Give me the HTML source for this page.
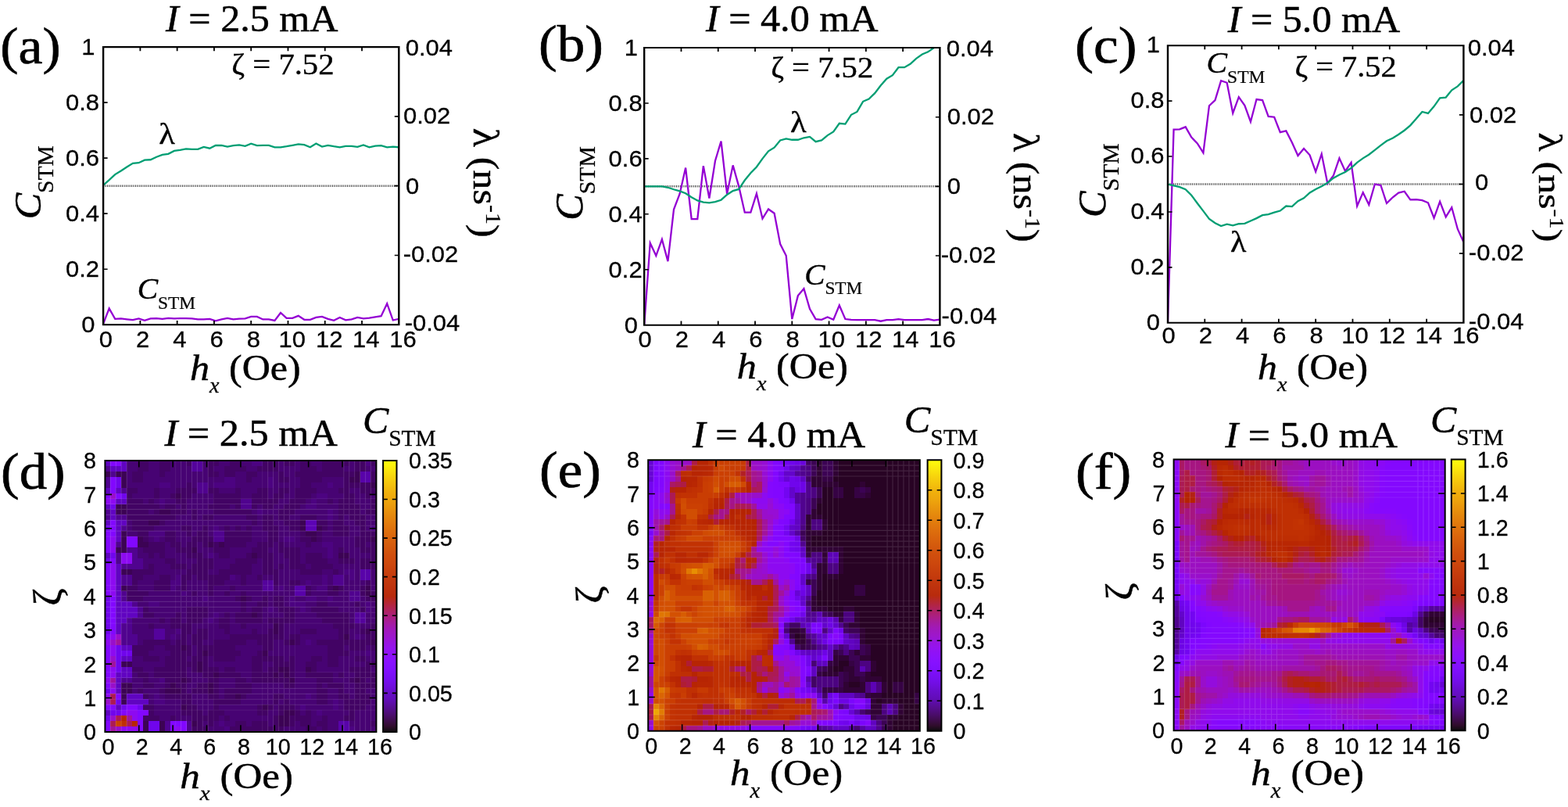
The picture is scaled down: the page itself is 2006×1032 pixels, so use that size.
<!DOCTYPE html>
<html lang="en"><head><meta charset="utf-8"><title>Figure</title>
<style>html,body{margin:0;padding:0;background:#fff}body{width:2006px;height:1032px;overflow:hidden}svg{display:block}text{fill:#000;stroke:#000}.s{font-family:"Liberation Sans",Arial,Helvetica,sans-serif;font-size:118px;stroke-width:.0095em}.r{font-family:'Liberation Serif', 'Times New Roman', Times, serif}.r,.r tspan{stroke-width:.01em}.i{font-style:italic}</style></head><body>
<svg width="2006" height="1032" viewBox="0 0 2006 1032">
<rect width="2006" height="1032" fill="#fff"/>
<line x1="132.1" y1="237.65" x2="510.3" y2="237.65" stroke="#000" stroke-opacity=".8" stroke-width="2.5" stroke-dasharray="1 1.4"/>
<clipPath id="ca"><rect x="132.1" y="60.1" width="378.2" height="355.1"/></clipPath>
<polyline clip-path="url(#ca)" points="132.1,414.13 139.66,394.39 147.23,407.85 154.79,407.39 162.36,408.35 169.92,409.16 177.48,407.39 185.05,409.87 192.61,407.39 200.18,407.03 207.74,407.85 215.3,406.89 222.87,407.39 230.43,407.1 238,407.1 245.56,407.39 253.12,408.35 260.69,408.35 268.25,407.85 275.82,410.3 283.38,408.35 290.94,406.89 298.51,408.35 306.07,407.6 313.64,407.39 321.2,404.9 328.76,404.9 336.33,408.45 343.89,408.45 351.46,409.87 359.02,399.93 366.58,406.89 374.15,406.89 381.71,403.84 389.28,408.81 396.84,408.81 404.4,405.97 411.97,404.9 419.53,407.85 427.1,409.87 434.66,405.97 442.22,409.31 449.79,408.45 457.35,405.97 464.92,407.39 472.48,406.68 480.04,405.4 487.61,404.19 495.17,388.21 502.74,409.52 510.3,407.85" fill="none" stroke="#9400d3" stroke-width="2.3" stroke-linejoin="miter"/>
<polyline clip-path="url(#ca)" points="132.1,236.94 139.66,230.19 147.23,223.09 154.79,218.47 162.36,213.5 169.92,208.89 177.48,208.18 185.05,204.63 192.61,204.27 200.18,200.72 207.74,197.88 215.3,196.81 222.87,192.91 230.43,191.84 238,190.42 245.56,190.78 253.12,190.78 260.69,187.94 268.25,189.71 275.82,185.98 283.38,185.98 290.94,187.58 298.51,186.16 306.07,185.45 313.64,186.87 321.2,183.67 328.76,186.16 336.33,185.81 343.89,185.81 351.46,188.29 359.02,188.29 366.58,187.23 374.15,185.81 381.71,184.38 389.28,185.1 396.84,188.29 404.4,183.5 411.97,187.58 419.53,185.81 427.1,187.23 434.66,188.43 442.22,186.87 449.79,186.87 457.35,187.94 464.92,185.45 472.48,188.29 480.04,186.52 487.61,186.16 495.17,188.43 502.74,187.58 510.3,188.29" fill="none" stroke="#009e73" stroke-width="2.3" stroke-linejoin="miter"/>
<path d="M179.38 415.2v-5.1M179.38 60.1v5.1M226.65 415.2v-5.1M226.65 60.1v5.1M273.93 415.2v-5.1M273.93 60.1v5.1M321.2 415.2v-5.1M321.2 60.1v5.1M368.48 415.2v-5.1M368.48 60.1v5.1M415.75 415.2v-5.1M415.75 60.1v5.1M463.03 415.2v-5.1M463.03 60.1v5.1" stroke="#000" stroke-width="1.8" fill="none"/>
<path d="M132.1 344.18h5.51M132.1 273.16h5.51M132.1 202.14h5.51M132.1 131.12h5.51M510.3 326.43h-5.51M510.3 237.65h-5.51M510.3 148.88h-5.51" stroke="#000" stroke-width="1.6" fill="none"/>
<path fill="#000" d="M130.9 59.05H511.5V61.15H130.9ZM130.9 414.15H511.5V416.25H130.9ZM130.9 59.05H133.3V416.25H130.9ZM509.1 59.05H511.5V416.25H509.1Z"/>
<line x1="824.2" y1="238.35" x2="1202.4" y2="238.35" stroke="#000" stroke-opacity=".8" stroke-width="2.5" stroke-dasharray="1 1.4"/>
<clipPath id="cb"><rect x="824.2" y="61" width="378.2" height="354.7"/></clipPath>
<polyline clip-path="url(#cb)" points="824.2,415.7 831.76,310.71 839.33,327.02 846.89,306.1 854.46,334.12 862.02,267.79 869.58,247.93 877.15,214.59 884.71,280.2 892.28,280.2 899.84,212.1 907.4,253.6 914.97,205.72 922.53,180.53 930.1,247.93 937.66,211.39 945.22,238.35 952.79,271.69 960.35,271.69 967.92,247.57 975.48,279.5 983.04,267.44 990.61,272.76 998.17,312.13 1005.74,327.02 1013.3,408.04 1020.86,378.1 1028.43,369.23 1035.99,395.13 1043.56,408.04 1051.12,408.78 1058.68,405.41 1066.25,408.78 1073.81,390.52 1081.38,408.04 1088.94,408.78 1096.5,409.1 1104.07,409.1 1111.63,409.1 1119.2,409.1 1126.76,410.73 1134.32,409.1 1141.89,409.1 1149.45,408.04 1157.02,409.1 1164.58,409.1 1172.14,409.1 1179.71,409.1 1187.27,408.04 1194.84,409.67 1202.4,408.61" fill="none" stroke="#9400d3" stroke-width="2.3" stroke-linejoin="miter"/>
<polyline clip-path="url(#cb)" points="824.2,238.35 831.76,238.35 839.33,238.35 846.89,238.35 854.46,239.77 862.02,242.25 869.58,244.38 877.15,247.22 884.71,252.18 892.28,256.44 899.84,258.57 907.4,259.28 914.97,258.21 922.53,255.73 930.1,248.99 937.66,244.03 945.22,241.9 952.79,230.55 960.35,221.32 967.92,213.52 975.48,202.88 983.04,193.3 990.61,188.69 998.17,179.47 1005.74,177.34 1013.3,178.76 1020.86,178.76 1028.43,176.28 1035.99,174.86 1043.56,181.24 1051.12,179.47 1058.68,173.09 1066.25,168.47 1073.81,157.83 1081.38,158.54 1088.94,146.84 1096.5,142.94 1104.07,129.81 1111.63,126.62 1119.2,119.17 1126.76,109.24 1134.32,100.73 1141.89,96.12 1149.45,86.18 1157.02,86.18 1164.58,81.75 1172.14,74.83 1179.71,69.51 1187.27,66.32 1194.84,61 1202.4,56.74" fill="none" stroke="#009e73" stroke-width="2.3" stroke-linejoin="miter"/>
<path d="M871.48 415.7v-5.1M871.48 61v5.1M918.75 415.7v-5.1M918.75 61v5.1M966.03 415.7v-5.1M966.03 61v5.1M1013.3 415.7v-5.1M1013.3 61v5.1M1060.58 415.7v-5.1M1060.58 61v5.1M1107.85 415.7v-5.1M1107.85 61v5.1M1155.12 415.7v-5.1M1155.12 61v5.1" stroke="#000" stroke-width="1.8" fill="none"/>
<path d="M824.2 344.76h5.51M824.2 273.82h5.51M824.2 202.88h5.51M824.2 131.94h5.51M1202.4 327.02h-5.51M1202.4 238.35h-5.51M1202.4 149.68h-5.51" stroke="#000" stroke-width="1.6" fill="none"/>
<path fill="#000" d="M823 59.95H1203.6V62.05H823ZM823 414.65H1203.6V416.75H823ZM823 59.95H825.4V416.75H823ZM1201.2 59.95H1203.6V416.75H1201.2Z"/>
<line x1="1494" y1="235.53" x2="1872.4" y2="235.53" stroke="#000" stroke-opacity=".8" stroke-width="2.5" stroke-dasharray="1 1.4"/>
<clipPath id="cc"><rect x="1494" y="58.25" width="378.4" height="354.55"/></clipPath>
<polyline clip-path="url(#cc)" points="1494,412.8 1501.57,165.68 1509.14,165.32 1516.7,162.31 1524.27,175.61 1531.84,183.41 1539.41,195.46 1546.98,135.19 1554.54,128.1 1562.11,103.28 1569.68,105.76 1577.25,144.76 1584.82,124.2 1592.38,134.83 1599.95,155.75 1607.52,127.03 1615.09,128.1 1622.66,149.01 1630.22,149.72 1637.79,169.22 1645.36,167.45 1652.93,182.34 1660.5,199.01 1668.06,189.93 1675.63,198.3 1683.2,219.57 1690.77,196.88 1698.34,234.6 1705.9,224.53 1713.47,202.37 1721.04,218.86 1728.61,207.87 1736.18,263.53 1743.74,246.16 1751.31,261.76 1758.88,235.53 1766.45,236.94 1774.02,259.99 1781.58,252.54 1789.15,246.52 1796.72,244.74 1804.29,255.38 1811.86,255.03 1819.42,256.09 1826.99,259.28 1834.56,278.78 1842.13,257.86 1849.7,277.36 1857.26,265.31 1864.83,292.96 1872.4,309.63" fill="none" stroke="#9400d3" stroke-width="2.3" stroke-linejoin="miter"/>
<polyline clip-path="url(#cc)" points="1494,235.53 1501.57,237.3 1509.14,239.21 1516.7,242.26 1524.27,249.71 1531.84,259.99 1539.41,269.92 1546.98,279.84 1554.54,285.16 1562.11,289.06 1569.68,286.72 1577.25,288.35 1584.82,286.23 1592.38,285.87 1599.95,282.5 1607.52,279.13 1615.09,275.23 1622.66,274.17 1630.22,271.69 1637.79,269.56 1645.36,263.53 1652.93,264.07 1660.5,257.15 1668.06,253.39 1675.63,246.52 1683.2,242.08 1690.77,238.36 1698.34,233.75 1705.9,227.72 1713.47,223.47 1721.04,219.92 1728.61,214.96 1736.18,207.87 1743.74,202.37 1751.31,197.77 1758.88,191.92 1766.45,185.89 1774.02,180.22 1781.58,176.67 1789.15,172.06 1796.72,166.74 1804.29,160.36 1811.86,151.85 1819.42,142.99 1826.99,144.9 1834.56,136.07 1842.13,125.4 1849.7,124.55 1857.26,115.33 1864.83,110.37 1872.4,102.92" fill="none" stroke="#009e73" stroke-width="2.3" stroke-linejoin="miter"/>
<path d="M1541.3 412.8v-5.1M1541.3 58.25v5.1M1588.6 412.8v-5.1M1588.6 58.25v5.1M1635.9 412.8v-5.1M1635.9 58.25v5.1M1683.2 412.8v-5.1M1683.2 58.25v5.1M1730.5 412.8v-5.1M1730.5 58.25v5.1M1777.8 412.8v-5.1M1777.8 58.25v5.1M1825.1 412.8v-5.1M1825.1 58.25v5.1" stroke="#000" stroke-width="1.8" fill="none"/>
<path d="M1494 341.89h5.51M1494 270.98h5.51M1494 200.07h5.51M1494 129.16h5.51M1872.4 324.16h-5.51M1872.4 235.53h-5.51M1872.4 146.89h-5.51" stroke="#000" stroke-width="1.6" fill="none"/>
<path fill="#000" d="M1492.8 57.2H1873.6V59.3H1492.8ZM1492.8 411.75H1873.6V413.85H1492.8ZM1492.8 57.2H1495.2V413.85H1492.8ZM1871.2 57.2H1873.6V413.85H1871.2Z"/>
<g shape-rendering="crispEdges">
<path fill="#3c0354" d="M134.4 602.88H141.34V609.81H134.4zM148.28 602.88H162.16V609.81H148.28zM453.64 602.88H460.58V609.81H453.64zM155.22 609.81H162.16V616.75H155.22zM446.7 609.81H460.58V616.75H446.7zM155.22 616.75H162.16V623.69H155.22zM474.46 616.75H481.4V623.69H474.46zM224.62 630.63H231.56V637.57H224.62zM148.28 644.5H162.16V651.44H148.28zM148.28 651.44H162.16V658.38H148.28zM203.8 651.44H217.68V658.38H203.8zM189.92 665.32H203.8V672.26H189.92zM384.24 665.32H391.18V672.26H384.24zM384.24 672.26H391.18V679.19H384.24zM405.06 672.26H412V679.19H405.06zM155.22 679.19H162.16V686.13H155.22zM391.18 679.19H405.06V686.13H391.18zM155.22 686.13H162.16V693.07H155.22zM176.04 686.13H182.98V693.07H176.04zM398.12 686.13H405.06V693.07H398.12zM474.46 686.13H481.4V693.07H474.46zM155.22 693.07H162.16V700.01H155.22zM176.04 693.07H189.92V700.01H176.04zM266.26 693.07H273.2V700.01H266.26zM280.14 693.07H287.08V700.01H280.14zM148.28 700.01H162.16V706.95H148.28zM245.44 700.01H252.38V706.95H245.44zM321.78 706.95H328.72V713.88H321.78zM432.82 706.95H446.7V713.88H432.82zM155.22 727.76H169.1V734.7H155.22zM155.22 748.57H162.16V755.51H155.22zM425.88 748.57H432.82V755.51H425.88zM467.52 748.57H474.46V755.51H467.52zM467.52 755.51H474.46V762.45H467.52zM307.9 762.45H314.84V769.39H307.9zM321.78 783.26H328.72V790.2H321.78zM349.54 797.14H356.48V804.08H349.54zM349.54 804.08H356.48V811.02H349.54zM467.52 804.08H474.46V811.02H467.52zM439.76 811.02H446.7V817.95H439.76zM370.36 817.95H377.3V824.89H370.36zM474.46 817.95H481.4V824.89H474.46zM231.56 824.89H238.5V831.83H231.56zM259.32 831.83H266.26V838.77H259.32zM335.66 831.83H342.6V838.77H335.66zM155.22 845.71H169.1V852.64H155.22zM252.38 845.71H259.32V852.64H252.38zM252.38 852.64H259.32V859.58H252.38zM356.48 852.64H370.36V859.58H356.48zM391.18 852.64H398.12V859.58H391.18zM273.2 859.58H280.14V866.52H273.2zM349.54 859.58H356.48V866.52H349.54zM363.42 859.58H370.36V866.52H363.42zM231.56 866.52H238.5V873.46H231.56zM370.36 866.52H377.3V873.46H370.36zM453.64 866.52H460.58V873.46H453.64zM155.22 873.46H169.1V880.4H155.22zM217.68 873.46H224.62V880.4H217.68zM266.26 873.46H273.2V880.4H266.26zM155.22 880.4H169.1V887.33H155.22zM210.74 880.4H231.56V887.33H210.74zM266.26 880.4H273.2V887.33H266.26zM155.22 887.33H162.16V894.27H155.22zM300.96 887.33H307.9V894.27H300.96zM155.22 894.27H162.16V901.21H155.22zM231.56 901.21H238.5V908.15H231.56zM335.66 901.21H342.6V908.15H335.66zM363.42 908.15H377.3V915.09H363.42zM356.48 915.09H370.36V922.02H356.48zM182.98 922.02H189.92V928.96H182.98zM203.8 922.02H210.74V928.96H203.8zM245.44 922.02H252.38V928.96H245.44zM356.48 922.02H370.36V928.96H356.48zM182.98 928.96H189.92V935.9H182.98zM203.8 928.96H210.74V935.9H203.8z"/>
<path fill="#420364" d="M176.04 589H189.92V595.94H176.04zM203.8 589H217.68V595.94H203.8zM238.5 589H245.44V595.94H238.5zM266.26 589H280.14V595.94H266.26zM294.02 589H307.9V595.94H294.02zM335.66 589H356.48V595.94H335.66zM363.42 589H377.3V595.94H363.42zM384.24 589H398.12V595.94H384.24zM412 589H446.7V595.94H412zM453.64 589H467.52V595.94H453.64zM474.46 589H481.4V595.94H474.46zM176.04 595.94H189.92V602.88H176.04zM203.8 595.94H217.68V602.88H203.8zM266.26 595.94H273.2V602.88H266.26zM287.08 595.94H314.84V602.88H287.08zM328.72 595.94H356.48V602.88H328.72zM384.24 595.94H405.06V602.88H384.24zM412 595.94H439.76V602.88H412zM453.64 595.94H467.52V602.88H453.64zM169.1 602.88H182.98V609.81H169.1zM203.8 602.88H210.74V609.81H203.8zM266.26 602.88H280.14V609.81H266.26zM287.08 602.88H300.96V609.81H287.08zM314.84 602.88H328.72V609.81H314.84zM356.48 602.88H363.42V609.81H356.48zM377.3 602.88H453.64V609.81H377.3zM474.46 602.88H481.4V609.81H474.46zM169.1 609.81H182.98V616.75H169.1zM314.84 609.81H321.78V616.75H314.84zM356.48 609.81H370.36V616.75H356.48zM384.24 609.81H412V616.75H384.24zM439.76 609.81H446.7V616.75H439.76zM474.46 609.81H481.4V616.75H474.46zM238.5 616.75H245.44V623.69H238.5zM384.24 616.75H398.12V623.69H384.24zM439.76 616.75H474.46V623.69H439.76zM162.16 623.69H176.04V630.63H162.16zM196.86 623.69H203.8V630.63H196.86zM224.62 623.69H252.38V630.63H224.62zM266.26 623.69H280.14V630.63H266.26zM300.96 623.69H307.9V630.63H300.96zM328.72 623.69H342.6V630.63H328.72zM356.48 623.69H370.36V630.63H356.48zM377.3 623.69H405.06V630.63H377.3zM432.82 623.69H446.7V630.63H432.82zM460.58 623.69H481.4V630.63H460.58zM162.16 630.63H169.1V637.57H162.16zM196.86 630.63H203.8V637.57H196.86zM217.68 630.63H224.62V637.57H217.68zM231.56 630.63H245.44V637.57H231.56zM273.2 630.63H307.9V637.57H273.2zM321.78 630.63H342.6V637.57H321.78zM349.54 630.63H363.42V637.57H349.54zM377.3 630.63H398.12V637.57H377.3zM439.76 630.63H453.64V637.57H439.76zM467.52 630.63H474.46V637.57H467.52zM162.16 637.57H182.98V644.5H162.16zM189.92 637.57H196.86V644.5H189.92zM224.62 637.57H238.5V644.5H224.62zM273.2 637.57H307.9V644.5H273.2zM321.78 637.57H356.48V644.5H321.78zM370.36 637.57H391.18V644.5H370.36zM418.94 637.57H425.88V644.5H418.94zM432.82 637.57H453.64V644.5H432.82zM474.46 637.57H481.4V644.5H474.46zM162.16 644.5H203.8V651.44H162.16zM210.74 644.5H224.62V651.44H210.74zM231.56 644.5H238.5V651.44H231.56zM266.26 644.5H294.02V651.44H266.26zM300.96 644.5H307.9V651.44H300.96zM321.78 644.5H328.72V651.44H321.78zM335.66 644.5H349.54V651.44H335.66zM363.42 644.5H384.24V651.44H363.42zM432.82 644.5H460.58V651.44H432.82zM474.46 644.5H481.4V651.44H474.46zM162.16 651.44H189.92V658.38H162.16zM196.86 651.44H203.8V658.38H196.86zM217.68 651.44H238.5V658.38H217.68zM245.44 651.44H252.38V658.38H245.44zM273.2 651.44H321.78V658.38H273.2zM356.48 651.44H377.3V658.38H356.48zM432.82 651.44H460.58V658.38H432.82zM467.52 651.44H481.4V658.38H467.52zM162.16 658.38H224.62V665.32H162.16zM245.44 658.38H252.38V665.32H245.44zM259.32 658.38H273.2V665.32H259.32zM314.84 658.38H328.72V665.32H314.84zM335.66 658.38H349.54V665.32H335.66zM356.48 658.38H370.36V665.32H356.48zM384.24 658.38H405.06V665.32H384.24zM432.82 658.38H439.76V665.32H432.82zM446.7 658.38H467.52V665.32H446.7zM169.1 665.32H189.92V672.26H169.1zM203.8 665.32H210.74V672.26H203.8zM321.78 665.32H328.72V672.26H321.78zM335.66 665.32H349.54V672.26H335.66zM363.42 665.32H384.24V672.26H363.42zM405.06 665.32H418.94V672.26H405.06zM425.88 665.32H439.76V672.26H425.88zM453.64 665.32H467.52V672.26H453.64zM169.1 672.26H196.86V679.19H169.1zM231.56 672.26H245.44V679.19H231.56zM259.32 672.26H266.26V679.19H259.32zM287.08 672.26H294.02V679.19H287.08zM300.96 672.26H307.9V679.19H300.96zM314.84 672.26H321.78V679.19H314.84zM335.66 672.26H356.48V679.19H335.66zM370.36 672.26H384.24V679.19H370.36zM412 672.26H418.94V679.19H412zM425.88 672.26H446.7V679.19H425.88zM460.58 672.26H467.52V679.19H460.58zM176.04 679.19H189.92V686.13H176.04zM210.74 679.19H224.62V686.13H210.74zM238.5 679.19H245.44V686.13H238.5zM252.38 679.19H266.26V686.13H252.38zM287.08 679.19H321.78V686.13H287.08zM342.6 679.19H356.48V686.13H342.6zM384.24 679.19H391.18V686.13H384.24zM405.06 679.19H412V686.13H405.06zM425.88 679.19H446.7V686.13H425.88zM460.58 679.19H481.4V686.13H460.58zM182.98 686.13H189.92V693.07H182.98zM210.74 686.13H224.62V693.07H210.74zM245.44 686.13H273.2V693.07H245.44zM287.08 686.13H321.78V693.07H287.08zM342.6 686.13H356.48V693.07H342.6zM384.24 686.13H398.12V693.07H384.24zM405.06 686.13H412V693.07H405.06zM453.64 686.13H474.46V693.07H453.64zM189.92 693.07H210.74V700.01H189.92zM217.68 693.07H231.56V700.01H217.68zM238.5 693.07H252.38V700.01H238.5zM259.32 693.07H266.26V700.01H259.32zM273.2 693.07H280.14V700.01H273.2zM287.08 693.07H314.84V700.01H287.08zM328.72 693.07H349.54V700.01H328.72zM356.48 693.07H363.42V700.01H356.48zM391.18 693.07H398.12V700.01H391.18zM453.64 693.07H467.52V700.01H453.64zM474.46 693.07H481.4V700.01H474.46zM182.98 700.01H210.74V706.95H182.98zM224.62 700.01H245.44V706.95H224.62zM273.2 700.01H294.02V706.95H273.2zM321.78 700.01H342.6V706.95H321.78zM356.48 700.01H384.24V706.95H356.48zM432.82 700.01H439.76V706.95H432.82zM460.58 700.01H481.4V706.95H460.58zM189.92 706.95H196.86V713.88H189.92zM203.8 706.95H210.74V713.88H203.8zM238.5 706.95H259.32V713.88H238.5zM280.14 706.95H294.02V713.88H280.14zM314.84 706.95H321.78V713.88H314.84zM328.72 706.95H349.54V713.88H328.72zM363.42 706.95H384.24V713.88H363.42zM391.18 706.95H412V713.88H391.18zM474.46 706.95H481.4V713.88H474.46zM210.74 713.88H224.62V720.82H210.74zM252.38 713.88H273.2V720.82H252.38zM300.96 713.88H328.72V720.82H300.96zM335.66 713.88H349.54V720.82H335.66zM370.36 713.88H384.24V720.82H370.36zM391.18 713.88H418.94V720.82H391.18zM432.82 713.88H453.64V720.82H432.82zM460.58 713.88H481.4V720.82H460.58zM189.92 720.82H196.86V727.76H189.92zM217.68 720.82H238.5V727.76H217.68zM245.44 720.82H273.2V727.76H245.44zM294.02 720.82H321.78V727.76H294.02zM335.66 720.82H349.54V727.76H335.66zM356.48 720.82H363.42V727.76H356.48zM370.36 720.82H391.18V727.76H370.36zM398.12 720.82H425.88V727.76H398.12zM460.58 720.82H481.4V727.76H460.58zM169.1 727.76H196.86V734.7H169.1zM238.5 727.76H266.26V734.7H238.5zM280.14 727.76H321.78V734.7H280.14zM335.66 727.76H356.48V734.7H335.66zM384.24 727.76H412V734.7H384.24zM425.88 727.76H432.82V734.7H425.88zM169.1 734.7H182.98V741.64H169.1zM203.8 734.7H217.68V741.64H203.8zM231.56 734.7H245.44V741.64H231.56zM252.38 734.7H294.02V741.64H252.38zM307.9 734.7H314.84V741.64H307.9zM328.72 734.7H335.66V741.64H328.72zM349.54 734.7H356.48V741.64H349.54zM169.1 741.64H176.04V748.57H169.1zM196.86 741.64H217.68V748.57H196.86zM231.56 741.64H238.5V748.57H231.56zM266.26 741.64H287.08V748.57H266.26zM307.9 741.64H314.84V748.57H307.9zM349.54 741.64H356.48V748.57H349.54zM370.36 741.64H384.24V748.57H370.36zM467.52 741.64H474.46V748.57H467.52zM162.16 748.57H176.04V755.51H162.16zM196.86 748.57H217.68V755.51H196.86zM231.56 748.57H238.5V755.51H231.56zM266.26 748.57H273.2V755.51H266.26zM294.02 748.57H300.96V755.51H294.02zM391.18 748.57H398.12V755.51H391.18zM418.94 748.57H425.88V755.51H418.94zM432.82 748.57H439.76V755.51H432.82zM460.58 748.57H467.52V755.51H460.58zM162.16 755.51H189.92V762.45H162.16zM245.44 755.51H252.38V762.45H245.44zM266.26 755.51H273.2V762.45H266.26zM287.08 755.51H294.02V762.45H287.08zM307.9 755.51H314.84V762.45H307.9zM391.18 755.51H398.12V762.45H391.18zM418.94 755.51H432.82V762.45H418.94zM460.58 755.51H467.52V762.45H460.58zM474.46 755.51H481.4V762.45H474.46zM162.16 762.45H182.98V769.39H162.16zM300.96 762.45H307.9V769.39H300.96zM314.84 762.45H321.78V769.39H314.84zM335.66 762.45H342.6V769.39H335.66zM349.54 762.45H363.42V769.39H349.54zM467.52 762.45H481.4V769.39H467.52zM307.9 769.39H314.84V776.33H307.9zM328.72 769.39H342.6V776.33H328.72zM349.54 769.39H363.42V776.33H349.54zM405.06 769.39H418.94V776.33H405.06zM453.64 769.39H460.58V776.33H453.64zM182.98 776.33H189.92V783.26H182.98zM238.5 776.33H266.26V783.26H238.5zM307.9 776.33H314.84V783.26H307.9zM321.78 776.33H335.66V783.26H321.78zM356.48 776.33H377.3V783.26H356.48zM398.12 776.33H432.82V783.26H398.12zM460.58 776.33H467.52V783.26H460.58zM182.98 783.26H196.86V790.2H182.98zM224.62 783.26H231.56V790.2H224.62zM238.5 783.26H266.26V790.2H238.5zM287.08 783.26H294.02V790.2H287.08zM300.96 783.26H321.78V790.2H300.96zM328.72 783.26H335.66V790.2H328.72zM363.42 783.26H377.3V790.2H363.42zM405.06 783.26H446.7V790.2H405.06zM203.8 790.2H210.74V797.14H203.8zM217.68 790.2H231.56V797.14H217.68zM238.5 790.2H259.32V797.14H238.5zM280.14 790.2H294.02V797.14H280.14zM300.96 790.2H335.66V797.14H300.96zM342.6 790.2H377.3V797.14H342.6zM412 790.2H446.7V797.14H412zM189.92 797.14H196.86V804.08H189.92zM217.68 797.14H245.44V804.08H217.68zM280.14 797.14H294.02V804.08H280.14zM307.9 797.14H314.84V804.08H307.9zM356.48 797.14H363.42V804.08H356.48zM425.88 797.14H453.64V804.08H425.88zM474.46 797.14H481.4V804.08H474.46zM231.56 804.08H245.44V811.02H231.56zM252.38 804.08H266.26V811.02H252.38zM287.08 804.08H294.02V811.02H287.08zM321.78 804.08H328.72V811.02H321.78zM342.6 804.08H349.54V811.02H342.6zM356.48 804.08H363.42V811.02H356.48zM384.24 804.08H405.06V811.02H384.24zM432.82 804.08H446.7V811.02H432.82zM460.58 804.08H467.52V811.02H460.58zM474.46 804.08H481.4V811.02H474.46zM231.56 811.02H238.5V817.95H231.56zM245.44 811.02H266.26V817.95H245.44zM294.02 811.02H363.42V817.95H294.02zM370.36 811.02H384.24V817.95H370.36zM432.82 811.02H439.76V817.95H432.82zM467.52 811.02H481.4V817.95H467.52zM182.98 817.95H217.68V824.89H182.98zM224.62 817.95H238.5V824.89H224.62zM245.44 817.95H259.32V824.89H245.44zM273.2 817.95H314.84V824.89H273.2zM328.72 817.95H349.54V824.89H328.72zM363.42 817.95H370.36V824.89H363.42zM377.3 817.95H384.24V824.89H377.3zM405.06 817.95H474.46V824.89H405.06zM169.1 824.89H196.86V831.83H169.1zM210.74 824.89H231.56V831.83H210.74zM238.5 824.89H245.44V831.83H238.5zM252.38 824.89H300.96V831.83H252.38zM335.66 824.89H349.54V831.83H335.66zM418.94 824.89H439.76V831.83H418.94zM446.7 824.89H467.52V831.83H446.7zM474.46 824.89H481.4V831.83H474.46zM169.1 831.83H189.92V838.77H169.1zM217.68 831.83H245.44V838.77H217.68zM252.38 831.83H259.32V838.77H252.38zM266.26 831.83H307.9V838.77H266.26zM328.72 831.83H335.66V838.77H328.72zM418.94 831.83H446.7V838.77H418.94zM182.98 838.77H203.8V845.71H182.98zM210.74 838.77H238.5V845.71H210.74zM245.44 838.77H266.26V845.71H245.44zM273.2 838.77H300.96V845.71H273.2zM321.78 838.77H363.42V845.71H321.78zM370.36 838.77H377.3V845.71H370.36zM398.12 838.77H412V845.71H398.12zM418.94 838.77H432.82V845.71H418.94zM453.64 838.77H467.52V845.71H453.64zM210.74 845.71H252.38V852.64H210.74zM259.32 845.71H266.26V852.64H259.32zM321.78 845.71H335.66V852.64H321.78zM349.54 845.71H377.3V852.64H349.54zM391.18 845.71H405.06V852.64H391.18zM418.94 845.71H432.82V852.64H418.94zM467.52 845.71H481.4V852.64H467.52zM169.1 852.64H182.98V859.58H169.1zM196.86 852.64H238.5V859.58H196.86zM245.44 852.64H252.38V859.58H245.44zM259.32 852.64H280.14V859.58H259.32zM287.08 852.64H300.96V859.58H287.08zM321.78 852.64H335.66V859.58H321.78zM342.6 852.64H356.48V859.58H342.6zM370.36 852.64H377.3V859.58H370.36zM398.12 852.64H405.06V859.58H398.12zM446.7 852.64H474.46V859.58H446.7zM176.04 859.58H189.92V866.52H176.04zM196.86 859.58H238.5V866.52H196.86zM259.32 859.58H273.2V866.52H259.32zM280.14 859.58H307.9V866.52H280.14zM321.78 859.58H349.54V866.52H321.78zM356.48 859.58H363.42V866.52H356.48zM370.36 859.58H377.3V866.52H370.36zM391.18 859.58H425.88V866.52H391.18zM432.82 859.58H439.76V866.52H432.82zM453.64 859.58H481.4V866.52H453.64zM182.98 866.52H189.92V873.46H182.98zM210.74 866.52H231.56V873.46H210.74zM238.5 866.52H245.44V873.46H238.5zM266.26 866.52H280.14V873.46H266.26zM300.96 866.52H314.84V873.46H300.96zM321.78 866.52H370.36V873.46H321.78zM405.06 866.52H425.88V873.46H405.06zM446.7 866.52H453.64V873.46H446.7zM460.58 866.52H467.52V873.46H460.58zM474.46 866.52H481.4V873.46H474.46zM182.98 873.46H196.86V880.4H182.98zM210.74 873.46H217.68V880.4H210.74zM224.62 873.46H238.5V880.4H224.62zM252.38 873.46H266.26V880.4H252.38zM273.2 873.46H280.14V880.4H273.2zM300.96 873.46H321.78V880.4H300.96zM363.42 873.46H377.3V880.4H363.42zM405.06 873.46H412V880.4H405.06zM418.94 873.46H439.76V880.4H418.94zM453.64 873.46H481.4V880.4H453.64zM176.04 880.4H182.98V887.33H176.04zM203.8 880.4H210.74V887.33H203.8zM231.56 880.4H238.5V887.33H231.56zM245.44 880.4H266.26V887.33H245.44zM273.2 880.4H280.14V887.33H273.2zM287.08 880.4H321.78V887.33H287.08zM405.06 880.4H418.94V887.33H405.06zM432.82 880.4H439.76V887.33H432.82zM453.64 880.4H467.52V887.33H453.64zM182.98 887.33H189.92V894.27H182.98zM210.74 887.33H245.44V894.27H210.74zM266.26 887.33H280.14V894.27H266.26zM287.08 887.33H300.96V894.27H287.08zM307.9 887.33H314.84V894.27H307.9zM349.54 887.33H363.42V894.27H349.54zM405.06 887.33H418.94V894.27H405.06zM432.82 887.33H446.7V894.27H432.82zM453.64 887.33H474.46V894.27H453.64zM231.56 894.27H245.44V901.21H231.56zM273.2 894.27H307.9V901.21H273.2zM349.54 894.27H356.48V901.21H349.54zM363.42 894.27H370.36V901.21H363.42zM405.06 894.27H418.94V901.21H405.06zM439.76 894.27H474.46V901.21H439.76zM182.98 901.21H196.86V908.15H182.98zM238.5 901.21H252.38V908.15H238.5zM273.2 901.21H280.14V908.15H273.2zM328.72 901.21H335.66V908.15H328.72zM342.6 901.21H349.54V908.15H342.6zM356.48 901.21H377.3V908.15H356.48zM439.76 901.21H467.52V908.15H439.76zM189.92 908.15H196.86V915.09H189.92zM231.56 908.15H259.32V915.09H231.56zM266.26 908.15H287.08V915.09H266.26zM328.72 908.15H342.6V915.09H328.72zM356.48 908.15H363.42V915.09H356.48zM377.3 908.15H384.24V915.09H377.3zM391.18 908.15H398.12V915.09H391.18zM446.7 908.15H453.64V915.09H446.7zM182.98 915.09H203.8V922.02H182.98zM217.68 915.09H224.62V922.02H217.68zM245.44 915.09H280.14V922.02H245.44zM287.08 915.09H294.02V922.02H287.08zM349.54 915.09H356.48V922.02H349.54zM370.36 915.09H398.12V922.02H370.36zM412 915.09H418.94V922.02H412zM439.76 915.09H453.64V922.02H439.76zM252.38 922.02H259.32V928.96H252.38zM266.26 922.02H273.2V928.96H266.26zM300.96 922.02H314.84V928.96H300.96zM321.78 922.02H342.6V928.96H321.78zM349.54 922.02H356.48V928.96H349.54zM370.36 922.02H377.3V928.96H370.36zM384.24 922.02H398.12V928.96H384.24zM405.06 922.02H418.94V928.96H405.06zM474.46 922.02H481.4V928.96H474.46zM245.44 928.96H266.26V935.9H245.44zM294.02 928.96H363.42V935.9H294.02zM391.18 928.96H405.06V935.9H391.18zM412 928.96H418.94V935.9H412z"/>
<path fill="#470373" d="M162.16 589H176.04V595.94H162.16zM189.92 589H203.8V595.94H189.92zM217.68 589H238.5V595.94H217.68zM259.32 589H266.26V595.94H259.32zM280.14 589H294.02V595.94H280.14zM307.9 589H321.78V595.94H307.9zM356.48 589H363.42V595.94H356.48zM377.3 589H384.24V595.94H377.3zM398.12 589H412V595.94H398.12zM446.7 589H453.64V595.94H446.7zM162.16 595.94H176.04V602.88H162.16zM189.92 595.94H203.8V602.88H189.92zM217.68 595.94H245.44V602.88H217.68zM259.32 595.94H266.26V602.88H259.32zM273.2 595.94H287.08V602.88H273.2zM314.84 595.94H328.72V602.88H314.84zM356.48 595.94H384.24V602.88H356.48zM405.06 595.94H412V602.88H405.06zM439.76 595.94H453.64V602.88H439.76zM467.52 595.94H481.4V602.88H467.52zM162.16 602.88H169.1V609.81H162.16zM182.98 602.88H203.8V609.81H182.98zM210.74 602.88H266.26V609.81H210.74zM280.14 602.88H287.08V609.81H280.14zM300.96 602.88H314.84V609.81H300.96zM328.72 602.88H356.48V609.81H328.72zM363.42 602.88H377.3V609.81H363.42zM162.16 609.81H169.1V616.75H162.16zM182.98 609.81H287.08V616.75H182.98zM300.96 609.81H314.84V616.75H300.96zM321.78 609.81H342.6V616.75H321.78zM349.54 609.81H356.48V616.75H349.54zM370.36 609.81H384.24V616.75H370.36zM412 609.81H439.76V616.75H412zM162.16 616.75H203.8V623.69H162.16zM217.68 616.75H238.5V623.69H217.68zM245.44 616.75H252.38V623.69H245.44zM266.26 616.75H273.2V623.69H266.26zM300.96 616.75H342.6V623.69H300.96zM349.54 616.75H384.24V623.69H349.54zM398.12 616.75H418.94V623.69H398.12zM425.88 616.75H439.76V623.69H425.88zM176.04 623.69H196.86V630.63H176.04zM203.8 623.69H224.62V630.63H203.8zM280.14 623.69H300.96V630.63H280.14zM307.9 623.69H328.72V630.63H307.9zM342.6 623.69H356.48V630.63H342.6zM370.36 623.69H377.3V630.63H370.36zM405.06 623.69H432.82V630.63H405.06zM446.7 623.69H460.58V630.63H446.7zM169.1 630.63H196.86V637.57H169.1zM203.8 630.63H217.68V637.57H203.8zM245.44 630.63H273.2V637.57H245.44zM307.9 630.63H321.78V637.57H307.9zM342.6 630.63H349.54V637.57H342.6zM363.42 630.63H377.3V637.57H363.42zM398.12 630.63H405.06V637.57H398.12zM418.94 630.63H439.76V637.57H418.94zM453.64 630.63H467.52V637.57H453.64zM474.46 630.63H481.4V637.57H474.46zM182.98 637.57H189.92V644.5H182.98zM196.86 637.57H203.8V644.5H196.86zM210.74 637.57H224.62V644.5H210.74zM238.5 637.57H273.2V644.5H238.5zM356.48 637.57H370.36V644.5H356.48zM391.18 637.57H398.12V644.5H391.18zM405.06 637.57H418.94V644.5H405.06zM425.88 637.57H432.82V644.5H425.88zM453.64 637.57H474.46V644.5H453.64zM203.8 644.5H210.74V651.44H203.8zM224.62 644.5H231.56V651.44H224.62zM238.5 644.5H266.26V651.44H238.5zM294.02 644.5H300.96V651.44H294.02zM328.72 644.5H335.66V651.44H328.72zM349.54 644.5H363.42V651.44H349.54zM384.24 644.5H391.18V651.44H384.24zM405.06 644.5H432.82V651.44H405.06zM460.58 644.5H474.46V651.44H460.58zM189.92 651.44H196.86V658.38H189.92zM238.5 651.44H245.44V658.38H238.5zM252.38 651.44H273.2V658.38H252.38zM321.78 651.44H328.72V658.38H321.78zM335.66 651.44H356.48V658.38H335.66zM377.3 651.44H418.94V658.38H377.3zM425.88 651.44H432.82V658.38H425.88zM460.58 651.44H467.52V658.38H460.58zM224.62 658.38H245.44V665.32H224.62zM252.38 658.38H259.32V665.32H252.38zM273.2 658.38H314.84V665.32H273.2zM328.72 658.38H335.66V665.32H328.72zM349.54 658.38H356.48V665.32H349.54zM370.36 658.38H384.24V665.32H370.36zM405.06 658.38H418.94V665.32H405.06zM425.88 658.38H432.82V665.32H425.88zM439.76 658.38H446.7V665.32H439.76zM467.52 658.38H481.4V665.32H467.52zM162.16 665.32H169.1V672.26H162.16zM210.74 665.32H321.78V672.26H210.74zM328.72 665.32H335.66V672.26H328.72zM349.54 665.32H363.42V672.26H349.54zM418.94 665.32H425.88V672.26H418.94zM439.76 665.32H453.64V672.26H439.76zM467.52 665.32H481.4V672.26H467.52zM162.16 672.26H169.1V679.19H162.16zM196.86 672.26H231.56V679.19H196.86zM245.44 672.26H259.32V679.19H245.44zM266.26 672.26H273.2V679.19H266.26zM280.14 672.26H287.08V679.19H280.14zM294.02 672.26H300.96V679.19H294.02zM307.9 672.26H314.84V679.19H307.9zM321.78 672.26H335.66V679.19H321.78zM356.48 672.26H370.36V679.19H356.48zM418.94 672.26H425.88V679.19H418.94zM446.7 672.26H460.58V679.19H446.7zM467.52 672.26H474.46V679.19H467.52zM162.16 679.19H176.04V686.13H162.16zM224.62 679.19H238.5V686.13H224.62zM245.44 679.19H252.38V686.13H245.44zM266.26 679.19H273.2V686.13H266.26zM321.78 679.19H342.6V686.13H321.78zM356.48 679.19H384.24V686.13H356.48zM412 679.19H425.88V686.13H412zM446.7 679.19H460.58V686.13H446.7zM189.92 686.13H196.86V693.07H189.92zM203.8 686.13H210.74V693.07H203.8zM224.62 686.13H245.44V693.07H224.62zM321.78 686.13H342.6V693.07H321.78zM356.48 686.13H363.42V693.07H356.48zM377.3 686.13H384.24V693.07H377.3zM412 686.13H453.64V693.07H412zM210.74 693.07H217.68V700.01H210.74zM231.56 693.07H238.5V700.01H231.56zM252.38 693.07H259.32V700.01H252.38zM314.84 693.07H328.72V700.01H314.84zM349.54 693.07H356.48V700.01H349.54zM363.42 693.07H391.18V700.01H363.42zM398.12 693.07H412V700.01H398.12zM425.88 693.07H453.64V700.01H425.88zM467.52 693.07H474.46V700.01H467.52zM176.04 700.01H182.98V706.95H176.04zM210.74 700.01H224.62V706.95H210.74zM252.38 700.01H273.2V706.95H252.38zM294.02 700.01H321.78V706.95H294.02zM342.6 700.01H356.48V706.95H342.6zM384.24 700.01H418.94V706.95H384.24zM425.88 700.01H432.82V706.95H425.88zM439.76 700.01H460.58V706.95H439.76zM176.04 706.95H189.92V713.88H176.04zM196.86 706.95H203.8V713.88H196.86zM210.74 706.95H238.5V713.88H210.74zM259.32 706.95H266.26V713.88H259.32zM273.2 706.95H280.14V713.88H273.2zM294.02 706.95H314.84V713.88H294.02zM349.54 706.95H363.42V713.88H349.54zM384.24 706.95H391.18V713.88H384.24zM412 706.95H418.94V713.88H412zM425.88 706.95H432.82V713.88H425.88zM446.7 706.95H474.46V713.88H446.7zM182.98 713.88H210.74V720.82H182.98zM224.62 713.88H252.38V720.82H224.62zM273.2 713.88H300.96V720.82H273.2zM328.72 713.88H335.66V720.82H328.72zM349.54 713.88H370.36V720.82H349.54zM384.24 713.88H391.18V720.82H384.24zM418.94 713.88H432.82V720.82H418.94zM453.64 713.88H460.58V720.82H453.64zM182.98 720.82H189.92V727.76H182.98zM196.86 720.82H217.68V727.76H196.86zM238.5 720.82H245.44V727.76H238.5zM273.2 720.82H294.02V727.76H273.2zM321.78 720.82H335.66V727.76H321.78zM349.54 720.82H356.48V727.76H349.54zM363.42 720.82H370.36V727.76H363.42zM391.18 720.82H398.12V727.76H391.18zM425.88 720.82H460.58V727.76H425.88zM196.86 727.76H238.5V734.7H196.86zM266.26 727.76H280.14V734.7H266.26zM321.78 727.76H335.66V734.7H321.78zM356.48 727.76H384.24V734.7H356.48zM412 727.76H425.88V734.7H412zM432.82 727.76H439.76V734.7H432.82zM453.64 727.76H460.58V734.7H453.64zM474.46 727.76H481.4V734.7H474.46zM182.98 734.7H203.8V741.64H182.98zM217.68 734.7H224.62V741.64H217.68zM245.44 734.7H252.38V741.64H245.44zM300.96 734.7H307.9V741.64H300.96zM314.84 734.7H328.72V741.64H314.84zM335.66 734.7H349.54V741.64H335.66zM356.48 734.7H412V741.64H356.48zM418.94 734.7H425.88V741.64H418.94zM439.76 734.7H446.7V741.64H439.76zM453.64 734.7H460.58V741.64H453.64zM474.46 734.7H481.4V741.64H474.46zM176.04 741.64H196.86V748.57H176.04zM238.5 741.64H266.26V748.57H238.5zM287.08 741.64H307.9V748.57H287.08zM314.84 741.64H335.66V748.57H314.84zM356.48 741.64H370.36V748.57H356.48zM384.24 741.64H391.18V748.57H384.24zM398.12 741.64H412V748.57H398.12zM418.94 741.64H425.88V748.57H418.94zM439.76 741.64H467.52V748.57H439.76zM474.46 741.64H481.4V748.57H474.46zM176.04 748.57H196.86V755.51H176.04zM224.62 748.57H231.56V755.51H224.62zM238.5 748.57H266.26V755.51H238.5zM273.2 748.57H294.02V755.51H273.2zM300.96 748.57H335.66V755.51H300.96zM349.54 748.57H356.48V755.51H349.54zM363.42 748.57H377.3V755.51H363.42zM398.12 748.57H405.06V755.51H398.12zM439.76 748.57H460.58V755.51H439.76zM474.46 748.57H481.4V755.51H474.46zM189.92 755.51H231.56V762.45H189.92zM238.5 755.51H245.44V762.45H238.5zM252.38 755.51H266.26V762.45H252.38zM273.2 755.51H287.08V762.45H273.2zM294.02 755.51H307.9V762.45H294.02zM314.84 755.51H377.3V762.45H314.84zM398.12 755.51H418.94V762.45H398.12zM432.82 755.51H446.7V762.45H432.82zM182.98 762.45H259.32V769.39H182.98zM266.26 762.45H300.96V769.39H266.26zM321.78 762.45H335.66V769.39H321.78zM342.6 762.45H349.54V769.39H342.6zM363.42 762.45H370.36V769.39H363.42zM377.3 762.45H391.18V769.39H377.3zM405.06 762.45H418.94V769.39H405.06zM425.88 762.45H446.7V769.39H425.88zM460.58 762.45H467.52V769.39H460.58zM176.04 769.39H189.92V776.33H176.04zM203.8 769.39H307.9V776.33H203.8zM314.84 769.39H328.72V776.33H314.84zM342.6 769.39H349.54V776.33H342.6zM363.42 769.39H370.36V776.33H363.42zM391.18 769.39H405.06V776.33H391.18zM418.94 769.39H453.64V776.33H418.94zM460.58 769.39H467.52V776.33H460.58zM474.46 769.39H481.4V776.33H474.46zM189.92 776.33H238.5V783.26H189.92zM266.26 776.33H307.9V783.26H266.26zM314.84 776.33H321.78V783.26H314.84zM335.66 776.33H342.6V783.26H335.66zM349.54 776.33H356.48V783.26H349.54zM377.3 776.33H384.24V783.26H377.3zM391.18 776.33H398.12V783.26H391.18zM432.82 776.33H460.58V783.26H432.82zM474.46 776.33H481.4V783.26H474.46zM196.86 783.26H224.62V790.2H196.86zM231.56 783.26H238.5V790.2H231.56zM266.26 783.26H273.2V790.2H266.26zM280.14 783.26H287.08V790.2H280.14zM294.02 783.26H300.96V790.2H294.02zM335.66 783.26H363.42V790.2H335.66zM377.3 783.26H405.06V790.2H377.3zM446.7 783.26H453.64V790.2H446.7zM467.52 783.26H481.4V790.2H467.52zM169.1 790.2H203.8V797.14H169.1zM210.74 790.2H217.68V797.14H210.74zM231.56 790.2H238.5V797.14H231.56zM259.32 790.2H266.26V797.14H259.32zM273.2 790.2H280.14V797.14H273.2zM294.02 790.2H300.96V797.14H294.02zM335.66 790.2H342.6V797.14H335.66zM377.3 790.2H412V797.14H377.3zM446.7 790.2H453.64V797.14H446.7zM467.52 790.2H481.4V797.14H467.52zM169.1 797.14H189.92V804.08H169.1zM196.86 797.14H217.68V804.08H196.86zM245.44 797.14H280.14V804.08H245.44zM294.02 797.14H307.9V804.08H294.02zM314.84 797.14H349.54V804.08H314.84zM363.42 797.14H425.88V804.08H363.42zM453.64 797.14H474.46V804.08H453.64zM169.1 804.08H196.86V811.02H169.1zM210.74 804.08H224.62V811.02H210.74zM245.44 804.08H252.38V811.02H245.44zM266.26 804.08H287.08V811.02H266.26zM294.02 804.08H321.78V811.02H294.02zM328.72 804.08H342.6V811.02H328.72zM363.42 804.08H384.24V811.02H363.42zM405.06 804.08H432.82V811.02H405.06zM446.7 804.08H460.58V811.02H446.7zM176.04 811.02H196.86V817.95H176.04zM210.74 811.02H217.68V817.95H210.74zM224.62 811.02H231.56V817.95H224.62zM238.5 811.02H245.44V817.95H238.5zM266.26 811.02H294.02V817.95H266.26zM363.42 811.02H370.36V817.95H363.42zM384.24 811.02H432.82V817.95H384.24zM446.7 811.02H453.64V817.95H446.7zM460.58 811.02H467.52V817.95H460.58zM176.04 817.95H182.98V824.89H176.04zM217.68 817.95H224.62V824.89H217.68zM238.5 817.95H245.44V824.89H238.5zM259.32 817.95H273.2V824.89H259.32zM314.84 817.95H328.72V824.89H314.84zM349.54 817.95H363.42V824.89H349.54zM384.24 817.95H391.18V824.89H384.24zM398.12 817.95H405.06V824.89H398.12zM196.86 824.89H210.74V831.83H196.86zM245.44 824.89H252.38V831.83H245.44zM300.96 824.89H335.66V831.83H300.96zM349.54 824.89H418.94V831.83H349.54zM439.76 824.89H446.7V831.83H439.76zM467.52 824.89H474.46V831.83H467.52zM189.92 831.83H217.68V838.77H189.92zM245.44 831.83H252.38V838.77H245.44zM307.9 831.83H328.72V838.77H307.9zM342.6 831.83H418.94V838.77H342.6zM446.7 831.83H467.52V838.77H446.7zM474.46 831.83H481.4V838.77H474.46zM169.1 838.77H182.98V845.71H169.1zM203.8 838.77H210.74V845.71H203.8zM238.5 838.77H245.44V845.71H238.5zM266.26 838.77H273.2V845.71H266.26zM300.96 838.77H321.78V845.71H300.96zM363.42 838.77H370.36V845.71H363.42zM377.3 838.77H398.12V845.71H377.3zM412 838.77H418.94V845.71H412zM432.82 838.77H453.64V845.71H432.82zM467.52 838.77H481.4V845.71H467.52zM169.1 845.71H210.74V852.64H169.1zM266.26 845.71H321.78V852.64H266.26zM335.66 845.71H349.54V852.64H335.66zM377.3 845.71H391.18V852.64H377.3zM405.06 845.71H418.94V852.64H405.06zM432.82 845.71H467.52V852.64H432.82zM182.98 852.64H196.86V859.58H182.98zM238.5 852.64H245.44V859.58H238.5zM280.14 852.64H287.08V859.58H280.14zM300.96 852.64H321.78V859.58H300.96zM335.66 852.64H342.6V859.58H335.66zM377.3 852.64H391.18V859.58H377.3zM405.06 852.64H446.7V859.58H405.06zM474.46 852.64H481.4V859.58H474.46zM169.1 859.58H176.04V866.52H169.1zM189.92 859.58H196.86V866.52H189.92zM238.5 859.58H259.32V866.52H238.5zM307.9 859.58H321.78V866.52H307.9zM377.3 859.58H391.18V866.52H377.3zM425.88 859.58H432.82V866.52H425.88zM439.76 859.58H453.64V866.52H439.76zM169.1 866.52H182.98V873.46H169.1zM189.92 866.52H203.8V873.46H189.92zM245.44 866.52H266.26V873.46H245.44zM280.14 866.52H300.96V873.46H280.14zM314.84 866.52H321.78V873.46H314.84zM377.3 866.52H405.06V873.46H377.3zM425.88 866.52H446.7V873.46H425.88zM467.52 866.52H474.46V873.46H467.52zM169.1 873.46H182.98V880.4H169.1zM196.86 873.46H210.74V880.4H196.86zM238.5 873.46H252.38V880.4H238.5zM280.14 873.46H300.96V880.4H280.14zM321.78 873.46H363.42V880.4H321.78zM377.3 873.46H405.06V880.4H377.3zM412 873.46H418.94V880.4H412zM439.76 873.46H453.64V880.4H439.76zM169.1 880.4H176.04V887.33H169.1zM182.98 880.4H203.8V887.33H182.98zM238.5 880.4H245.44V887.33H238.5zM280.14 880.4H287.08V887.33H280.14zM321.78 880.4H405.06V887.33H321.78zM418.94 880.4H432.82V887.33H418.94zM439.76 880.4H453.64V887.33H439.76zM467.52 880.4H481.4V887.33H467.52zM189.92 887.33H196.86V894.27H189.92zM203.8 887.33H210.74V894.27H203.8zM245.44 887.33H266.26V894.27H245.44zM280.14 887.33H287.08V894.27H280.14zM314.84 887.33H349.54V894.27H314.84zM363.42 887.33H391.18V894.27H363.42zM398.12 887.33H405.06V894.27H398.12zM418.94 887.33H432.82V894.27H418.94zM446.7 887.33H453.64V894.27H446.7zM474.46 887.33H481.4V894.27H474.46zM189.92 894.27H196.86V901.21H189.92zM210.74 894.27H231.56V901.21H210.74zM245.44 894.27H273.2V901.21H245.44zM307.9 894.27H349.54V901.21H307.9zM356.48 894.27H363.42V901.21H356.48zM370.36 894.27H405.06V901.21H370.36zM418.94 894.27H425.88V901.21H418.94zM432.82 894.27H439.76V901.21H432.82zM474.46 894.27H481.4V901.21H474.46zM196.86 901.21H231.56V908.15H196.86zM252.38 901.21H273.2V908.15H252.38zM280.14 901.21H328.72V908.15H280.14zM349.54 901.21H356.48V908.15H349.54zM377.3 901.21H384.24V908.15H377.3zM391.18 901.21H425.88V908.15H391.18zM432.82 901.21H439.76V908.15H432.82zM467.52 901.21H481.4V908.15H467.52zM196.86 908.15H231.56V915.09H196.86zM259.32 908.15H266.26V915.09H259.32zM287.08 908.15H328.72V915.09H287.08zM342.6 908.15H356.48V915.09H342.6zM384.24 908.15H391.18V915.09H384.24zM398.12 908.15H405.06V915.09H398.12zM412 908.15H446.7V915.09H412zM453.64 908.15H481.4V915.09H453.64zM203.8 915.09H217.68V922.02H203.8zM224.62 915.09H245.44V922.02H224.62zM280.14 915.09H287.08V922.02H280.14zM294.02 915.09H349.54V922.02H294.02zM398.12 915.09H412V922.02H398.12zM418.94 915.09H439.76V922.02H418.94zM453.64 915.09H481.4V922.02H453.64zM259.32 922.02H266.26V928.96H259.32zM273.2 922.02H280.14V928.96H273.2zM287.08 922.02H300.96V928.96H287.08zM314.84 922.02H321.78V928.96H314.84zM342.6 922.02H349.54V928.96H342.6zM377.3 922.02H384.24V928.96H377.3zM398.12 922.02H405.06V928.96H398.12zM418.94 922.02H432.82V928.96H418.94zM446.7 922.02H474.46V928.96H446.7zM266.26 928.96H287.08V935.9H266.26zM363.42 928.96H391.18V935.9H363.42zM405.06 928.96H412V935.9H405.06zM418.94 928.96H432.82V935.9H418.94zM453.64 928.96H481.4V935.9H453.64z"/>
<path fill="#4c0381" d="M321.78 589H335.66V595.94H321.78zM467.52 589H474.46V595.94H467.52zM287.08 609.81H300.96V616.75H287.08zM342.6 609.81H349.54V616.75H342.6zM203.8 616.75H217.68V623.69H203.8zM273.2 616.75H300.96V623.69H273.2zM342.6 616.75H349.54V623.69H342.6zM418.94 616.75H425.88V623.69H418.94zM405.06 630.63H418.94V637.57H405.06zM203.8 637.57H210.74V644.5H203.8zM398.12 637.57H405.06V644.5H398.12zM391.18 644.5H405.06V651.44H391.18zM328.72 651.44H335.66V658.38H328.72zM418.94 651.44H425.88V658.38H418.94zM418.94 658.38H425.88V665.32H418.94zM273.2 672.26H280.14V679.19H273.2zM474.46 672.26H481.4V679.19H474.46zM189.92 679.19H210.74V686.13H189.92zM196.86 686.13H203.8V693.07H196.86zM363.42 686.13H377.3V693.07H363.42zM412 693.07H425.88V700.01H412zM418.94 700.01H425.88V706.95H418.94zM266.26 706.95H273.2V713.88H266.26zM418.94 706.95H425.88V713.88H418.94zM439.76 727.76H453.64V734.7H439.76zM224.62 734.7H231.56V741.64H224.62zM294.02 734.7H300.96V741.64H294.02zM412 734.7H418.94V741.64H412zM446.7 734.7H453.64V741.64H446.7zM217.68 741.64H231.56V748.57H217.68zM391.18 741.64H398.12V748.57H391.18zM412 741.64H418.94V748.57H412zM217.68 748.57H224.62V755.51H217.68zM356.48 748.57H363.42V755.51H356.48zM405.06 748.57H418.94V755.51H405.06zM231.56 755.51H238.5V762.45H231.56zM259.32 762.45H266.26V769.39H259.32zM370.36 762.45H377.3V769.39H370.36zM391.18 762.45H405.06V769.39H391.18zM418.94 762.45H425.88V769.39H418.94zM189.92 769.39H203.8V776.33H189.92zM370.36 769.39H391.18V776.33H370.36zM467.52 769.39H474.46V776.33H467.52zM342.6 776.33H349.54V783.26H342.6zM384.24 776.33H391.18V783.26H384.24zM467.52 776.33H474.46V783.26H467.52zM273.2 783.26H280.14V790.2H273.2zM266.26 790.2H273.2V797.14H266.26zM224.62 804.08H231.56V811.02H224.62zM217.68 811.02H224.62V817.95H217.68zM453.64 811.02H460.58V817.95H453.64zM391.18 817.95H398.12V824.89H391.18zM467.52 831.83H474.46V838.77H467.52zM203.8 866.52H210.74V873.46H203.8zM196.86 887.33H203.8V894.27H196.86zM391.18 887.33H398.12V894.27H391.18zM196.86 894.27H210.74V901.21H196.86zM425.88 894.27H432.82V901.21H425.88zM384.24 901.21H391.18V908.15H384.24zM425.88 901.21H432.82V908.15H425.88zM405.06 908.15H412V915.09H405.06zM280.14 922.02H287.08V928.96H280.14zM287.08 928.96H294.02V935.9H287.08zM446.7 928.96H453.64V935.9H446.7z"/>
<path fill="#50038f" d="M134.4 595.94H141.34V602.88H134.4zM141.34 602.88H148.28V609.81H141.34zM134.4 609.81H141.34V616.75H134.4zM134.4 616.75H141.34V623.69H134.4zM252.38 616.75H266.26V623.69H252.38zM155.22 623.69H162.16V630.63H155.22zM252.38 623.69H266.26V630.63H252.38zM307.9 637.57H321.78V644.5H307.9zM307.9 644.5H321.78V651.44H307.9zM134.4 651.44H141.34V658.38H134.4zM134.4 658.38H141.34V665.32H134.4zM148.28 658.38H162.16V665.32H148.28zM155.22 672.26H162.16V679.19H155.22zM273.2 679.19H287.08V686.13H273.2zM273.2 686.13H287.08V693.07H273.2zM148.28 693.07H155.22V700.01H148.28zM162.16 700.01H176.04V706.95H162.16zM148.28 706.95H155.22V713.88H148.28zM169.1 706.95H176.04V713.88H169.1zM148.28 713.88H155.22V720.82H148.28zM169.1 713.88H182.98V720.82H169.1zM155.22 720.82H182.98V727.76H155.22zM155.22 734.7H169.1V741.64H155.22zM425.88 734.7H439.76V741.64H425.88zM155.22 741.64H169.1V748.57H155.22zM425.88 741.64H439.76V748.57H425.88zM155.22 755.51H162.16V762.45H155.22zM446.7 755.51H460.58V762.45H446.7zM155.22 762.45H162.16V769.39H155.22zM446.7 762.45H460.58V769.39H446.7zM169.1 769.39H176.04V776.33H169.1zM176.04 776.33H182.98V783.26H176.04zM176.04 783.26H182.98V790.2H176.04zM162.16 790.2H169.1V797.14H162.16zM155.22 797.14H169.1V804.08H155.22zM155.22 804.08H169.1V811.02H155.22zM155.22 811.02H176.04V817.95H155.22zM155.22 817.95H176.04V824.89H155.22zM155.22 866.52H169.1V873.46H155.22zM210.74 922.02H217.68V928.96H210.74zM238.5 922.02H245.44V928.96H238.5zM210.74 928.96H217.68V935.9H210.74zM238.5 928.96H245.44V935.9H238.5z"/>
<path fill="#54039c" d="M245.44 589H259.32V595.94H245.44zM245.44 595.94H259.32V602.88H245.44zM335.66 741.64H349.54V748.57H335.66zM335.66 748.57H349.54V755.51H335.66zM453.64 783.26H467.52V790.2H453.64zM453.64 790.2H467.52V797.14H453.64zM196.86 804.08H210.74V811.02H196.86zM196.86 811.02H210.74V817.95H196.86z"/>
<path fill="#5803a9" d="M460.58 602.88H474.46V609.81H460.58zM460.58 609.81H474.46V616.75H460.58zM460.58 727.76H474.46V734.7H460.58zM460.58 734.7H474.46V741.64H460.58zM377.3 748.57H391.18V755.51H377.3zM377.3 755.51H391.18V762.45H377.3zM432.82 922.02H446.7V928.96H432.82zM432.82 928.96H446.7V935.9H432.82z"/>
<path fill="#5c03b5" d="M391.18 665.32H405.06V672.26H391.18zM391.18 672.26H405.06V679.19H391.18z"/>
<path fill="#6004c1" d="M134.4 589H141.34V595.94H134.4zM155.22 589H162.16V595.94H155.22zM141.34 595.94H162.16V602.88H141.34zM134.4 623.69H141.34V630.63H134.4zM148.28 623.69H155.22V630.63H148.28zM148.28 637.57H162.16V644.5H148.28zM134.4 644.5H141.34V651.44H134.4zM141.34 651.44H148.28V658.38H141.34zM141.34 658.38H148.28V665.32H141.34zM134.4 665.32H141.34V672.26H134.4zM148.28 665.32H162.16V672.26H148.28zM148.28 672.26H155.22V679.19H148.28zM148.28 679.19H155.22V686.13H148.28zM148.28 686.13H155.22V693.07H148.28zM134.4 706.95H141.34V713.88H134.4zM148.28 720.82H155.22V727.76H148.28zM148.28 727.76H155.22V734.7H148.28zM148.28 734.7H155.22V741.64H148.28zM148.28 741.64H155.22V748.57H148.28zM148.28 748.57H155.22V755.51H148.28zM148.28 755.51H155.22V762.45H148.28zM148.28 762.45H155.22V769.39H148.28zM148.28 769.39H169.1V776.33H148.28zM148.28 776.33H176.04V783.26H148.28zM148.28 783.26H176.04V790.2H148.28zM148.28 790.2H162.16V797.14H148.28zM148.28 797.14H155.22V804.08H148.28zM148.28 804.08H155.22V811.02H148.28zM155.22 824.89H169.1V831.83H155.22zM155.22 838.77H169.1V845.71H155.22zM155.22 852.64H169.1V859.58H155.22zM148.28 859.58H169.1V866.52H148.28zM148.28 866.52H155.22V873.46H148.28zM148.28 873.46H155.22V880.4H148.28zM148.28 880.4H155.22V887.33H148.28zM162.16 887.33H182.98V894.27H162.16zM162.16 894.27H189.92V901.21H162.16zM148.28 901.21H155.22V908.15H148.28zM134.4 908.15H141.34V915.09H134.4z"/>
<path fill="#7005ec" d="M148.28 609.81H155.22V616.75H148.28zM148.28 616.75H155.22V623.69H148.28zM155.22 630.63H162.16V637.57H155.22zM141.34 644.5H148.28V651.44H141.34zM134.4 672.26H141.34V679.19H134.4zM141.34 706.95H148.28V713.88H141.34zM134.4 713.88H141.34V720.82H134.4zM134.4 762.45H141.34V769.39H134.4zM134.4 769.39H141.34V776.33H134.4zM134.4 776.33H141.34V783.26H134.4zM134.4 783.26H141.34V790.2H134.4zM134.4 790.2H141.34V797.14H134.4zM134.4 797.14H141.34V804.08H134.4zM134.4 804.08H141.34V811.02H134.4zM148.28 824.89H155.22V831.83H148.28zM148.28 831.83H169.1V838.77H148.28zM148.28 838.77H155.22V845.71H148.28zM148.28 845.71H155.22V852.64H148.28zM148.28 852.64H155.22V859.58H148.28zM134.4 880.4H141.34V887.33H134.4zM148.28 894.27H155.22V901.21H148.28zM155.22 901.21H162.16V908.15H155.22zM176.04 901.21H182.98V908.15H176.04zM141.34 908.15H155.22V915.09H141.34zM134.4 915.09H141.34V922.02H134.4zM189.92 922.02H203.8V928.96H189.92zM189.92 928.96H203.8V935.9H189.92z"/>
<path fill="#8207ff" d="M141.34 589H155.22V595.94H141.34zM141.34 609.81H148.28V616.75H141.34zM141.34 616.75H148.28V623.69H141.34zM141.34 623.69H148.28V630.63H141.34zM134.4 630.63H141.34V637.57H134.4zM148.28 630.63H155.22V637.57H148.28zM141.34 665.32H148.28V672.26H141.34zM141.34 672.26H148.28V679.19H141.34zM134.4 679.19H148.28V686.13H134.4zM134.4 686.13H141.34V693.07H134.4zM162.16 686.13H176.04V693.07H162.16zM134.4 693.07H141.34V700.01H134.4zM162.16 693.07H176.04V700.01H162.16zM134.4 700.01H141.34V706.95H134.4zM141.34 713.88H148.28V720.82H141.34zM134.4 720.82H141.34V727.76H134.4zM134.4 727.76H141.34V734.7H134.4zM134.4 734.7H141.34V741.64H134.4zM134.4 741.64H141.34V748.57H134.4zM134.4 748.57H141.34V755.51H134.4zM134.4 755.51H141.34V762.45H134.4zM141.34 762.45H148.28V769.39H141.34zM141.34 769.39H148.28V776.33H141.34zM141.34 776.33H148.28V783.26H141.34zM141.34 783.26H148.28V790.2H141.34zM141.34 790.2H148.28V797.14H141.34zM141.34 797.14H148.28V804.08H141.34zM141.34 804.08H148.28V811.02H141.34zM134.4 811.02H141.34V817.95H134.4zM134.4 824.89H141.34V831.83H134.4zM134.4 831.83H141.34V838.77H134.4zM134.4 838.77H141.34V845.71H134.4zM134.4 845.71H141.34V852.64H134.4zM134.4 852.64H141.34V859.58H134.4zM134.4 859.58H141.34V866.52H134.4zM134.4 873.46H141.34V880.4H134.4zM148.28 887.33H155.22V894.27H148.28zM134.4 901.21H148.28V908.15H134.4zM162.16 901.21H176.04V908.15H162.16zM155.22 908.15H162.16V915.09H155.22zM176.04 908.15H189.92V915.09H176.04zM176.04 915.09H182.98V922.02H176.04zM134.4 922.02H141.34V928.96H134.4zM176.04 922.02H182.98V928.96H176.04zM217.68 922.02H238.5V928.96H217.68zM134.4 928.96H141.34V935.9H134.4zM176.04 928.96H182.98V935.9H176.04zM217.68 928.96H224.62V935.9H217.68zM231.56 928.96H238.5V935.9H231.56z"/>
<path fill="#8d0af1" d="M134.4 637.57H148.28V644.5H134.4zM141.34 686.13H148.28V693.07H141.34zM141.34 693.07H148.28V700.01H141.34zM141.34 700.01H148.28V706.95H141.34zM155.22 706.95H169.1V713.88H155.22zM155.22 713.88H169.1V720.82H155.22zM141.34 720.82H148.28V727.76H141.34zM141.34 727.76H148.28V734.7H141.34zM141.34 734.7H148.28V741.64H141.34zM141.34 741.64H148.28V748.57H141.34zM141.34 748.57H148.28V755.51H141.34zM141.34 755.51H148.28V762.45H141.34zM141.34 811.02H148.28V817.95H141.34zM134.4 817.95H141.34V824.89H134.4zM141.34 824.89H148.28V831.83H141.34zM141.34 831.83H148.28V838.77H141.34zM141.34 852.64H148.28V859.58H141.34zM141.34 859.58H148.28V866.52H141.34zM134.4 866.52H141.34V873.46H134.4zM141.34 880.4H148.28V887.33H141.34zM134.4 887.33H141.34V894.27H134.4zM162.16 908.15H176.04V915.09H162.16zM169.1 915.09H176.04V922.02H169.1zM155.22 928.96H176.04V935.9H155.22zM224.62 928.96H231.56V935.9H224.62z"/>
<path fill="#990ecb" d="M141.34 630.63H148.28V637.57H141.34zM148.28 811.02H155.22V817.95H148.28zM141.34 817.95H148.28V824.89H141.34zM141.34 838.77H148.28V845.71H141.34zM141.34 873.46H148.28V880.4H141.34zM134.4 894.27H141.34V901.21H134.4zM141.34 915.09H148.28V922.02H141.34zM148.28 928.96H155.22V935.9H148.28z"/>
<path fill="#a1139c" d="M148.28 817.95H155.22V824.89H148.28zM141.34 845.71H148.28V852.64H141.34zM141.34 866.52H148.28V873.46H141.34zM162.16 915.09H169.1V922.02H162.16zM141.34 928.96H148.28V935.9H141.34z"/>
<path fill="#ac1a54" d="M141.34 887.33H148.28V894.27H141.34zM141.34 894.27H148.28V901.21H141.34zM148.28 915.09H155.22V922.02H148.28zM141.34 922.02H148.28V928.96H141.34zM162.16 922.02H169.1V928.96H162.16z"/>
<path fill="#b72503" d="M155.22 915.09H162.16V922.02H155.22zM169.1 922.02H176.04V928.96H169.1z"/>
<path fill="#c03003" d="M155.22 922.02H162.16V928.96H155.22z"/>
<path fill="#cb4003" d="M148.28 922.02H155.22V928.96H148.28z"/>
</g>
<path fill="#fff" fill-opacity=".13" d="M140.77 589h1.15v346.9h-1.15zM147.71 589h1.15v346.9h-1.15zM154.65 589h1.15v346.9h-1.15zM161.59 589h1.15v346.9h-1.15zM230.99 589h1.15v346.9h-1.15zM237.93 589h1.15v346.9h-1.15zM244.87 589h1.15v346.9h-1.15zM251.81 589h1.15v346.9h-1.15zM258.75 589h1.15v346.9h-1.15zM265.69 589h1.15v346.9h-1.15zM342.03 589h1.15v346.9h-1.15zM348.97 589h1.15v346.9h-1.15zM355.91 589h1.15v346.9h-1.15zM362.85 589h1.15v346.9h-1.15zM369.79 589h1.15v346.9h-1.15zM439.19 589h1.15v346.9h-1.15zM446.13 589h1.15v346.9h-1.15zM453.06 589h1.15v346.9h-1.15zM460.01 589h1.15v346.9h-1.15zM466.94 589h1.15v346.9h-1.15zM473.89 589h1.15v346.9h-1.15zM134.4 643.93h347v1.15h-347zM134.4 650.87h347v1.15h-347zM134.4 657.8h347v1.15h-347zM134.4 664.74h347v1.15h-347zM134.4 671.68h347v1.15h-347zM134.4 678.62h347v1.15h-347zM134.4 754.94h347v1.15h-347zM134.4 761.88h347v1.15h-347zM134.4 768.81h347v1.15h-347zM134.4 775.75h347v1.15h-347zM134.4 782.69h347v1.15h-347zM134.4 789.63h347v1.15h-347zM134.4 865.94h347v1.15h-347zM134.4 872.88h347v1.15h-347zM134.4 879.82h347v1.15h-347zM134.4 886.76h347v1.15h-347zM134.4 893.7h347v1.15h-347zM134.4 900.63h347v1.15h-347z"/>
<path fill="#fff" fill-opacity=".065" d="M224.05 589h1.15v346.9h-1.15zM272.63 589h1.15v346.9h-1.15zM335.09 589h1.15v346.9h-1.15zM376.73 589h1.15v346.9h-1.15zM134.4 636.99h347v1.15h-347zM134.4 685.56h347v1.15h-347zM134.4 748h347v1.15h-347zM134.4 796.56h347v1.15h-347zM134.4 859.01h347v1.15h-347zM134.4 907.57h347v1.15h-347z"/>
<linearGradient id="gd" x1="0" y1="0" x2="0" y2="1"><stop offset="0" stop-color="#ffff0d"/><stop offset="0.02" stop-color="#fcf00d"/><stop offset="0.04" stop-color="#fae20d"/><stop offset="0.06" stop-color="#f7d40d"/><stop offset="0.08" stop-color="#f5c70d"/><stop offset="0.1" stop-color="#f2bb0d"/><stop offset="0.12" stop-color="#f0af0d"/><stop offset="0.15" stop-color="#eda40d"/><stop offset="0.17" stop-color="#ea990d"/><stop offset="0.19" stop-color="#e78f0d"/><stop offset="0.21" stop-color="#e4850d"/><stop offset="0.23" stop-color="#e27c0d"/><stop offset="0.25" stop-color="#df730d"/><stop offset="0.27" stop-color="#dc6b0d"/><stop offset="0.29" stop-color="#d9630d"/><stop offset="0.31" stop-color="#d55c0d"/><stop offset="0.33" stop-color="#d2550d"/><stop offset="0.35" stop-color="#d04e0d"/><stop offset="0.38" stop-color="#cd480d"/><stop offset="0.4" stop-color="#c9420d"/><stop offset="0.42" stop-color="#c63d0d"/><stop offset="0.44" stop-color="#c2380d"/><stop offset="0.46" stop-color="#bf340d"/><stop offset="0.48" stop-color="#bc2f0d"/><stop offset="0.5" stop-color="#b82b0d"/><stop offset="0.52" stop-color="#b5272c"/><stop offset="0.54" stop-color="#b1244b"/><stop offset="0.56" stop-color="#ad216a"/><stop offset="0.58" stop-color="#aa1e86"/><stop offset="0.6" stop-color="#a51ca0"/><stop offset="0.62" stop-color="#a119b8"/><stop offset="0.65" stop-color="#9d17cd"/><stop offset="0.67" stop-color="#9815df"/><stop offset="0.69" stop-color="#9514ed"/><stop offset="0.71" stop-color="#9012f6"/><stop offset="0.73" stop-color="#8b12fd"/><stop offset="0.75" stop-color="#8611ff"/><stop offset="0.77" stop-color="#8110fd"/><stop offset="0.79" stop-color="#7b0ff6"/><stop offset="0.81" stop-color="#750fed"/><stop offset="0.83" stop-color="#700edf"/><stop offset="0.85" stop-color="#690ecd"/><stop offset="0.88" stop-color="#620db8"/><stop offset="0.9" stop-color="#5b0da0"/><stop offset="0.92" stop-color="#530d86"/><stop offset="0.94" stop-color="#4a0d6a"/><stop offset="0.96" stop-color="#3e0d4b"/><stop offset="0.98" stop-color="#300d2c"/><stop offset="1" stop-color="#0d0d0d"/></linearGradient>
<rect x="490.1" y="589" width="17.4" height="346.9" fill="url(#gd)"/>
<path d="M177.78 935.9v-8.6M177.78 589v8.6M221.15 935.9v-8.6M221.15 589v8.6M264.52 935.9v-8.6M264.52 589v8.6M307.9 935.9v-8.6M307.9 589v8.6M351.27 935.9v-8.6M351.27 589v8.6M394.65 935.9v-8.6M394.65 589v8.6M438.02 935.9v-8.6M438.02 589v8.6M134.4 892.54h8.6M481.4 892.54h-8.6M134.4 849.17h8.6M481.4 849.17h-8.6M134.4 805.81h8.6M481.4 805.81h-8.6M134.4 762.45h8.6M481.4 762.45h-8.6M134.4 719.09h8.6M481.4 719.09h-8.6M134.4 675.73h8.6M481.4 675.73h-8.6M134.4 632.36h8.6M481.4 632.36h-8.6M490.1 886.34h5.7M507.5 886.34h-5.7M490.1 836.79h5.7M507.5 836.79h-5.7M490.1 787.23h5.7M507.5 787.23h-5.7M490.1 737.67h5.7M507.5 737.67h-5.7M490.1 688.11h5.7M507.5 688.11h-5.7M490.1 638.56h5.7M507.5 638.56h-5.7" stroke="#000" stroke-width="1.6" fill="none"/>
<path fill="#000" d="M133.4 588H482.4V590H133.4ZM133.4 934.9H482.4V936.9H133.4ZM133.4 588H135.4V936.9H133.4ZM480.4 588H482.4V936.9H480.4Z"/>
<path fill="#000" d="M489.1 588H508.5V590H489.1ZM489.1 934.9H508.5V936.9H489.1ZM489.1 588H491.1V936.9H489.1ZM506.5 588H508.5V936.9H506.5Z"/>
<g shape-rendering="crispEdges">
<path fill="#280324" d="M1072.52 588.2H1176.8V595.13H1072.52zM1072.52 595.13H1176.8V602.06H1072.52zM1072.52 602.06H1176.8V609H1072.52zM1065.57 609H1176.8V615.93H1065.57zM1072.52 615.93H1100.33V622.86H1072.52zM1107.28 615.93H1176.8V622.86H1107.28zM1051.66 622.86H1065.57V629.79H1051.66zM1079.47 622.86H1093.38V629.79H1079.47zM1114.23 622.86H1176.8V629.79H1114.23zM1051.66 629.79H1065.57V636.72H1051.66zM1079.47 629.79H1093.38V636.72H1079.47zM1114.23 629.79H1176.8V636.72H1114.23zM1051.66 636.72H1176.8V643.66H1051.66zM1044.71 643.66H1176.8V650.59H1044.71zM1044.71 650.59H1176.8V657.52H1044.71zM1051.66 657.52H1176.8V664.45H1051.66zM1058.62 664.45H1176.8V671.38H1058.62zM1058.62 671.38H1176.8V678.32H1058.62zM1051.66 678.32H1176.8V685.25H1051.66zM1037.76 685.25H1176.8V692.18H1037.76zM1037.76 692.18H1176.8V699.11H1037.76zM1079.47 699.11H1176.8V706.04H1079.47zM1079.47 706.04H1176.8V712.98H1079.47zM1079.47 712.98H1176.8V719.91H1079.47zM1079.47 719.91H1176.8V726.84H1079.47zM1079.47 726.84H1176.8V733.77H1079.47zM1051.66 733.77H1058.62V740.7H1051.66zM1072.52 733.77H1176.8V740.7H1072.52zM1051.66 740.7H1176.8V747.64H1051.66zM1051.66 747.64H1093.38V754.57H1051.66zM1107.28 747.64H1176.8V754.57H1107.28zM1044.71 754.57H1093.38V761.5H1044.71zM1107.28 754.57H1176.8V761.5H1107.28zM1044.71 761.5H1176.8V768.43H1044.71zM1044.71 768.43H1176.8V775.36H1044.71zM1058.62 775.36H1079.47V782.3H1058.62zM1093.38 775.36H1176.8V782.3H1093.38zM1100.33 782.3H1176.8V789.23H1100.33zM1100.33 789.23H1176.8V796.16H1100.33zM1100.33 796.16H1176.8V803.09H1100.33zM1107.28 803.09H1176.8V810.02H1107.28zM1016.9 810.02H1023.86V816.96H1016.9zM1107.28 810.02H1176.8V816.96H1107.28zM1107.28 816.96H1176.8V823.89H1107.28zM1114.23 823.89H1176.8V830.82H1114.23zM1114.23 830.82H1176.8V837.75H1114.23zM1114.23 837.75H1176.8V844.68H1114.23zM1072.52 844.68H1086.42V851.62H1072.52zM1121.18 844.68H1176.8V851.62H1121.18zM1065.57 851.62H1079.47V858.55H1065.57zM1121.18 851.62H1176.8V858.55H1121.18zM1114.23 858.55H1176.8V865.48H1114.23zM1128.14 865.48H1176.8V872.41H1128.14zM1086.42 872.41H1100.33V879.34H1086.42zM1135.09 872.41H1142.04V879.34H1135.09zM1155.94 872.41H1176.8V879.34H1155.94zM1135.09 879.34H1142.04V886.28H1135.09zM1155.94 879.34H1176.8V886.28H1155.94zM1128.14 886.28H1169.85V893.21H1128.14zM1121.18 893.21H1128.14V900.14H1121.18zM1148.99 893.21H1169.85V900.14H1148.99zM1155.94 900.14H1176.8V907.07H1155.94zM1155.94 907.07H1176.8V914H1155.94zM1148.99 914H1176.8V920.94H1148.99zM1142.04 920.94H1176.8V927.87H1142.04zM1142.04 927.87H1176.8V934.8H1142.04z"/>
<path fill="#300334" d="M1044.71 588.2H1051.66V595.13H1044.71zM1065.57 588.2H1072.52V595.13H1065.57zM1044.71 595.13H1051.66V602.06H1044.71zM1065.57 595.13H1072.52V602.06H1065.57zM1044.71 602.06H1051.66V609H1044.71zM1065.57 602.06H1072.52V609H1065.57zM1037.76 609H1051.66V615.93H1037.76zM1037.76 615.93H1072.52V622.86H1037.76zM1100.33 615.93H1107.28V622.86H1100.33zM1107.28 629.79H1114.23V636.72H1107.28zM1044.71 636.72H1051.66V643.66H1044.71zM1037.76 650.59H1044.71V657.52H1037.76zM1030.81 657.52H1051.66V664.45H1030.81zM1030.81 664.45H1037.76V671.38H1030.81zM1051.66 664.45H1058.62V671.38H1051.66zM1030.81 671.38H1037.76V678.32H1030.81zM1051.66 671.38H1058.62V678.32H1051.66zM1030.81 678.32H1051.66V685.25H1030.81zM1030.81 685.25H1037.76V692.18H1030.81zM1030.81 692.18H1037.76V699.11H1030.81zM1030.81 699.11H1079.47V706.04H1030.81zM1051.66 706.04H1058.62V712.98H1051.66zM1072.52 706.04H1079.47V712.98H1072.52zM1072.52 712.98H1079.47V719.91H1072.52zM1044.71 719.91H1058.62V726.84H1044.71zM1072.52 719.91H1079.47V726.84H1072.52zM1044.71 726.84H1058.62V733.77H1044.71zM1072.52 726.84H1079.47V733.77H1072.52zM1044.71 733.77H1051.66V740.7H1044.71zM1058.62 733.77H1072.52V740.7H1058.62zM1044.71 740.7H1051.66V747.64H1044.71zM1044.71 747.64H1051.66V754.57H1044.71zM1037.76 761.5H1044.71V768.43H1037.76zM1037.76 768.43H1044.71V775.36H1037.76zM1037.76 775.36H1058.62V782.3H1037.76zM1079.47 775.36H1093.38V782.3H1079.47zM1065.57 782.3H1079.47V789.23H1065.57zM1093.38 782.3H1100.33V789.23H1093.38zM1093.38 789.23H1100.33V796.16H1093.38zM1086.42 796.16H1100.33V803.09H1086.42zM1009.95 803.09H1023.86V810.02H1009.95zM1100.33 803.09H1107.28V810.02H1100.33zM1023.86 810.02H1030.81V816.96H1023.86zM1100.33 810.02H1107.28V816.96H1100.33zM1016.9 816.96H1030.81V823.89H1016.9zM1100.33 816.96H1107.28V823.89H1100.33zM1093.38 830.82H1100.33V837.75H1093.38zM1065.57 837.75H1086.42V844.68H1065.57zM1100.33 837.75H1114.23V844.68H1100.33zM1065.57 844.68H1072.52V851.62H1065.57zM1114.23 844.68H1121.18V851.62H1114.23zM1058.62 851.62H1065.57V858.55H1058.62zM1079.47 851.62H1093.38V858.55H1079.47zM1114.23 851.62H1121.18V858.55H1114.23zM1051.66 858.55H1072.52V865.48H1051.66zM1086.42 858.55H1093.38V865.48H1086.42zM1107.28 858.55H1114.23V865.48H1107.28zM1086.42 865.48H1100.33V872.41H1086.42zM1107.28 865.48H1128.14V872.41H1107.28zM1079.47 872.41H1086.42V879.34H1079.47zM1100.33 872.41H1107.28V879.34H1100.33zM1128.14 872.41H1135.09V879.34H1128.14zM1079.47 879.34H1107.28V886.28H1079.47zM1128.14 879.34H1135.09V886.28H1128.14zM1114.23 886.28H1128.14V893.21H1114.23zM1114.23 893.21H1121.18V900.14H1114.23zM1128.14 893.21H1148.99V900.14H1128.14zM1114.23 900.14H1128.14V907.07H1114.23zM1148.99 900.14H1155.94V907.07H1148.99zM1114.23 907.07H1128.14V914H1114.23zM1148.99 907.07H1155.94V914H1148.99zM1135.09 914H1148.99V920.94H1135.09zM1135.09 920.94H1142.04V927.87H1135.09zM1135.09 927.87H1142.04V934.8H1135.09z"/>
<path fill="#360344" d="M1051.66 609H1065.57V615.93H1051.66zM1065.57 622.86H1079.47V629.79H1065.57zM1093.38 622.86H1100.33V629.79H1093.38zM1107.28 622.86H1114.23V629.79H1107.28zM1065.57 629.79H1079.47V636.72H1065.57zM1093.38 629.79H1107.28V636.72H1093.38zM1030.81 706.04H1037.76V712.98H1030.81zM1051.66 712.98H1058.62V719.91H1051.66zM1030.81 740.7H1037.76V747.64H1030.81zM1093.38 747.64H1107.28V754.57H1093.38zM1093.38 754.57H1107.28V761.5H1093.38zM1072.52 789.23H1079.47V796.16H1072.52zM1023.86 803.09H1030.81V810.02H1023.86zM1009.95 810.02H1016.9V816.96H1009.95zM1023.86 823.89H1030.81V830.82H1023.86zM1107.28 823.89H1114.23V830.82H1107.28zM1065.57 830.82H1072.52V837.75H1065.57zM1107.28 830.82H1114.23V837.75H1107.28zM1058.62 844.68H1065.57V851.62H1058.62zM1086.42 844.68H1093.38V851.62H1086.42zM1044.71 858.55H1051.66V865.48H1044.71zM1079.47 858.55H1086.42V865.48H1079.47zM1079.47 865.48H1086.42V872.41H1079.47zM1100.33 865.48H1107.28V872.41H1100.33zM1142.04 872.41H1155.94V879.34H1142.04zM1051.66 879.34H1079.47V886.28H1051.66zM1142.04 879.34H1155.94V886.28H1142.04zM1107.28 886.28H1114.23V893.21H1107.28zM1169.85 886.28H1176.8V893.21H1169.85zM1169.85 893.21H1176.8V900.14H1169.85zM1114.23 914H1121.18V920.94H1114.23z"/>
<path fill="#3c0354" d="M1037.76 588.2H1044.71V595.13H1037.76zM1051.66 588.2H1065.57V595.13H1051.66zM1037.76 595.13H1044.71V602.06H1037.76zM1051.66 595.13H1065.57V602.06H1051.66zM1037.76 602.06H1044.71V609H1037.76zM1051.66 602.06H1065.57V609H1051.66zM1044.71 622.86H1051.66V629.79H1044.71zM1100.33 622.86H1107.28V629.79H1100.33zM1044.71 629.79H1051.66V636.72H1044.71zM1037.76 636.72H1044.71V643.66H1037.76zM1037.76 643.66H1044.71V650.59H1037.76zM1023.86 678.32H1030.81V685.25H1023.86zM1037.76 740.7H1044.71V747.64H1037.76zM1037.76 747.64H1044.71V754.57H1037.76zM1037.76 754.57H1044.71V761.5H1037.76zM1058.62 782.3H1065.57V789.23H1058.62zM1079.47 796.16H1086.42V803.09H1079.47zM1086.42 803.09H1100.33V810.02H1086.42zM1030.81 816.96H1037.76V823.89H1030.81zM1030.81 823.89H1037.76V830.82H1030.81zM1100.33 823.89H1107.28V830.82H1100.33zM1072.52 830.82H1079.47V837.75H1072.52zM1086.42 830.82H1093.38V837.75H1086.42zM1100.33 830.82H1107.28V837.75H1100.33zM1086.42 837.75H1100.33V844.68H1086.42zM1093.38 844.68H1100.33V851.62H1093.38zM1051.66 851.62H1058.62V858.55H1051.66zM1093.38 851.62H1100.33V858.55H1093.38zM1072.52 858.55H1079.47V865.48H1072.52zM1093.38 858.55H1107.28V865.48H1093.38zM1072.52 865.48H1079.47V872.41H1072.52zM1072.52 872.41H1079.47V879.34H1072.52zM1107.28 907.07H1114.23V914H1107.28zM1121.18 914H1135.09V920.94H1121.18zM1128.14 920.94H1135.09V927.87H1128.14zM1128.14 927.87H1135.09V934.8H1128.14z"/>
<path fill="#420364" d="M1030.81 588.2H1037.76V595.13H1030.81zM1030.81 609H1037.76V615.93H1030.81zM1023.86 685.25H1030.81V692.18H1023.86zM1030.81 768.43H1037.76V775.36H1030.81zM1051.66 782.3H1058.62V789.23H1051.66zM1009.95 796.16H1023.86V803.09H1009.95zM1079.47 803.09H1086.42V810.02H1079.47zM1016.9 823.89H1023.86V830.82H1016.9zM1037.76 823.89H1044.71V830.82H1037.76zM1044.71 851.62H1051.66V858.55H1044.71zM1037.76 865.48H1044.71V872.41H1037.76zM1037.76 872.41H1044.71V879.34H1037.76zM1051.66 886.28H1058.62V893.21H1051.66z"/>
<path fill="#470373" d="M1003 803.09H1009.95V810.02H1003zM1072.52 823.89H1079.47V830.82H1072.52zM1037.76 844.68H1044.71V851.62H1037.76zM1100.33 907.07H1107.28V914H1100.33zM1093.38 927.87H1100.33V934.8H1093.38z"/>
<path fill="#4c0381" d="M1030.81 595.13H1037.76V602.06H1030.81zM1030.81 602.06H1037.76V609H1030.81zM1037.76 622.86H1044.71V629.79H1037.76zM1037.76 629.79H1044.71V636.72H1037.76zM1030.81 636.72H1037.76V643.66H1030.81zM1030.81 643.66H1037.76V650.59H1030.81zM1030.81 650.59H1037.76V657.52H1030.81zM1037.76 664.45H1051.66V671.38H1037.76zM1023.86 671.38H1030.81V678.32H1023.86zM1037.76 671.38H1051.66V678.32H1037.76zM1037.76 706.04H1051.66V712.98H1037.76zM1044.71 712.98H1051.66V719.91H1044.71zM1058.62 719.91H1072.52V726.84H1058.62zM1058.62 726.84H1072.52V733.77H1058.62zM1037.76 733.77H1044.71V740.7H1037.76zM1079.47 782.3H1093.38V789.23H1079.47zM1079.47 789.23H1093.38V796.16H1079.47zM1051.66 803.09H1058.62V810.02H1051.66zM1030.81 810.02H1037.76V816.96H1030.81zM1093.38 810.02H1100.33V816.96H1093.38zM1079.47 830.82H1086.42V837.75H1079.47zM1100.33 844.68H1114.23V851.62H1100.33zM1107.28 851.62H1114.23V858.55H1107.28zM1044.71 865.48H1072.52V872.41H1044.71zM1044.71 872.41H1072.52V879.34H1044.71zM1107.28 872.41H1114.23V879.34H1107.28zM1121.18 872.41H1128.14V879.34H1121.18zM1107.28 879.34H1114.23V886.28H1107.28zM1121.18 879.34H1128.14V886.28H1121.18zM1072.52 900.14H1079.47V907.07H1072.52zM1128.14 900.14H1135.09V907.07H1128.14zM1142.04 900.14H1148.99V907.07H1142.04zM1128.14 907.07H1135.09V914H1128.14zM1142.04 907.07H1148.99V914H1142.04zM1121.18 920.94H1128.14V927.87H1121.18z"/>
<path fill="#50038f" d="M1023.86 595.13H1030.81V602.06H1023.86zM1023.86 602.06H1030.81V609H1023.86zM1030.81 615.93H1037.76V622.86H1030.81zM1030.81 622.86H1037.76V629.79H1030.81zM1023.86 629.79H1037.76V636.72H1023.86zM1023.86 636.72H1030.81V643.66H1023.86zM1023.86 643.66H1030.81V650.59H1023.86zM1023.86 650.59H1030.81V657.52H1023.86zM1023.86 657.52H1030.81V664.45H1023.86zM1023.86 664.45H1030.81V671.38H1023.86zM1023.86 692.18H1030.81V699.11H1023.86zM1037.76 712.98H1044.71V719.91H1037.76zM1037.76 719.91H1044.71V726.84H1037.76zM1030.81 733.77H1037.76V740.7H1030.81zM1030.81 761.5H1037.76V768.43H1030.81zM1030.81 775.36H1037.76V782.3H1030.81zM1030.81 782.3H1044.71V789.23H1030.81zM1072.52 796.16H1079.47V803.09H1072.52zM1086.42 810.02H1093.38V816.96H1086.42zM1009.95 816.96H1016.9V823.89H1009.95zM1037.76 816.96H1044.71V823.89H1037.76zM1044.71 823.89H1051.66V830.82H1044.71zM1079.47 823.89H1086.42V830.82H1079.47zM1044.71 879.34H1051.66V886.28H1044.71zM1100.33 886.28H1107.28V893.21H1100.33zM1044.71 927.87H1051.66V934.8H1044.71zM1121.18 927.87H1128.14V934.8H1121.18z"/>
<path fill="#54039c" d="M1016.9 602.06H1023.86V609H1016.9zM1016.9 629.79H1023.86V636.72H1016.9zM1016.9 636.72H1023.86V643.66H1016.9zM1016.9 678.32H1023.86V685.25H1016.9zM1030.81 712.98H1037.76V719.91H1030.81zM1030.81 789.23H1044.71V796.16H1030.81zM1003 796.16H1009.95V803.09H1003zM1037.76 810.02H1044.71V816.96H1037.76zM1051.66 823.89H1058.62V830.82H1051.66zM1065.57 823.89H1072.52V830.82H1065.57zM1093.38 886.28H1100.33V893.21H1093.38zM1051.66 927.87H1058.62V934.8H1051.66zM1086.42 927.87H1093.38V934.8H1086.42z"/>
<path fill="#5803a9" d="M1030.81 865.48H1037.76V872.41H1030.81zM1051.66 893.21H1058.62V900.14H1051.66zM1079.47 900.14H1086.42V907.07H1079.47zM1093.38 907.07H1100.33V914H1093.38zM1058.62 927.87H1065.57V934.8H1058.62zM1100.33 927.87H1107.28V934.8H1100.33z"/>
<path fill="#5c03b5" d="M1058.62 706.04H1072.52V712.98H1058.62zM1058.62 712.98H1072.52V719.91H1058.62zM1037.76 726.84H1044.71V733.77H1037.76zM1044.71 782.3H1051.66V789.23H1044.71zM1065.57 789.23H1072.52V796.16H1065.57zM1023.86 796.16H1030.81V803.09H1023.86zM1093.38 816.96H1100.33V823.89H1093.38zM1093.38 823.89H1100.33V830.82H1093.38zM1100.33 851.62H1107.28V858.55H1100.33zM1114.23 872.41H1121.18V879.34H1114.23zM1114.23 879.34H1121.18V886.28H1114.23zM1135.09 900.14H1142.04V907.07H1135.09zM1135.09 907.07H1142.04V914H1135.09z"/>
<path fill="#6004c1" d="M1016.9 595.13H1023.86V602.06H1016.9zM1023.86 609H1030.81V615.93H1023.86zM1016.9 664.45H1023.86V671.38H1016.9zM1016.9 671.38H1023.86V678.32H1016.9zM1023.86 699.11H1030.81V706.04H1023.86zM1030.81 747.64H1037.76V754.57H1030.81zM1030.81 754.57H1037.76V761.5H1030.81zM1023.86 789.23H1030.81V796.16H1023.86zM1051.66 789.23H1058.62V796.16H1051.66zM1030.81 803.09H1037.76V810.02H1030.81zM1079.47 810.02H1086.42V816.96H1079.47zM1044.71 816.96H1051.66V823.89H1044.71zM1086.42 816.96H1093.38V823.89H1086.42zM1086.42 823.89H1093.38V830.82H1086.42zM1030.81 830.82H1044.71V837.75H1030.81zM1058.62 830.82H1065.57V837.75H1058.62zM1058.62 837.75H1065.57V844.68H1058.62zM1044.71 844.68H1058.62V851.62H1044.71zM1037.76 851.62H1044.71V858.55H1037.76zM1037.76 858.55H1044.71V865.48H1037.76zM1072.52 886.28H1093.38V893.21H1072.52zM1114.23 920.94H1121.18V927.87H1114.23zM1114.23 927.87H1121.18V934.8H1114.23z"/>
<path fill="#6304cb" d="M1009.95 595.13H1016.9V602.06H1009.95zM1003 602.06H1016.9V609H1003zM1009.95 622.86H1016.9V629.79H1009.95zM1009.95 629.79H1016.9V636.72H1009.95zM1016.9 643.66H1023.86V650.59H1016.9zM1016.9 650.59H1023.86V657.52H1016.9zM1016.9 657.52H1023.86V664.45H1016.9zM1009.95 671.38H1016.9V678.32H1009.95zM1009.95 678.32H1016.9V685.25H1009.95zM1023.86 706.04H1030.81V712.98H1023.86zM1023.86 733.77H1030.81V740.7H1023.86zM1023.86 740.7H1030.81V747.64H1023.86zM1023.86 761.5H1030.81V768.43H1023.86zM1023.86 768.43H1030.81V775.36H1023.86zM1016.9 789.23H1023.86V796.16H1016.9zM1044.71 789.23H1051.66V796.16H1044.71zM1030.81 796.16H1037.76V803.09H1030.81zM1051.66 796.16H1058.62V803.09H1051.66zM1065.57 796.16H1072.52V803.09H1065.57zM1058.62 803.09H1065.57V810.02H1058.62zM1003 810.02H1009.95V816.96H1003zM1044.71 810.02H1058.62V816.96H1044.71zM1079.47 816.96H1086.42V823.89H1079.47zM1058.62 823.89H1065.57V830.82H1058.62zM1023.86 830.82H1030.81V837.75H1023.86zM1044.71 830.82H1051.66V837.75H1044.71zM1037.76 837.75H1044.71V844.68H1037.76zM1030.81 872.41H1037.76V879.34H1030.81zM1037.76 879.34H1044.71V886.28H1037.76zM1044.71 886.28H1051.66V893.21H1044.71zM1065.57 927.87H1086.42V934.8H1065.57zM1107.28 927.87H1114.23V934.8H1107.28z"/>
<path fill="#6704d5" d="M829.2 588.2H836.15V595.13H829.2zM829.2 595.13H836.15V602.06H829.2zM829.2 602.06H836.15V609H829.2zM829.2 609H836.15V615.93H829.2zM1003 609H1009.95V615.93H1003zM1016.9 754.57H1023.86V761.5H1016.9zM1065.57 900.14H1072.52V907.07H1065.57zM1086.42 907.07H1093.38V914H1086.42z"/>
<path fill="#6a04dd" d="M1023.86 588.2H1030.81V595.13H1023.86zM1058.62 789.23H1065.57V796.16H1058.62zM1107.28 900.14H1114.23V907.07H1107.28z"/>
<path fill="#6d04e5" d="M1016.9 588.2H1023.86V595.13H1016.9zM1016.9 609H1023.86V615.93H1016.9zM1023.86 615.93H1030.81V622.86H1023.86zM1016.9 622.86H1030.81V629.79H1016.9zM1016.9 685.25H1023.86V692.18H1016.9zM1023.86 754.57H1030.81V761.5H1023.86zM1058.62 796.16H1065.57V803.09H1058.62zM1051.66 816.96H1058.62V823.89H1051.66zM1051.66 830.82H1058.62V837.75H1051.66zM1044.71 837.75H1051.66V844.68H1044.71zM1058.62 886.28H1065.57V893.21H1058.62zM1072.52 893.21H1086.42V900.14H1072.52zM1107.28 893.21H1114.23V900.14H1107.28zM1107.28 914H1114.23V920.94H1107.28z"/>
<path fill="#7005ec" d="M1009.95 588.2H1016.9V595.13H1009.95zM1003 595.13H1009.95V602.06H1003zM1009.95 609H1016.9V615.93H1009.95zM1009.95 615.93H1023.86V622.86H1009.95zM1009.95 636.72H1016.9V643.66H1009.95zM1009.95 664.45H1016.9V671.38H1009.95zM1016.9 692.18H1023.86V699.11H1016.9zM1016.9 699.11H1023.86V706.04H1016.9zM1030.81 719.91H1037.76V726.84H1030.81zM1030.81 726.84H1037.76V733.77H1030.81zM1023.86 747.64H1030.81V754.57H1023.86zM1016.9 761.5H1023.86V768.43H1016.9zM1023.86 782.3H1030.81V789.23H1023.86zM1009.95 789.23H1016.9V796.16H1009.95zM1072.52 803.09H1079.47V810.02H1072.52zM1009.95 823.89H1016.9V830.82H1009.95zM1016.9 830.82H1023.86V837.75H1016.9zM1030.81 837.75H1037.76V844.68H1030.81zM1030.81 844.68H1037.76V851.62H1030.81zM1058.62 893.21H1065.57V900.14H1058.62zM1086.42 900.14H1093.38V907.07H1086.42zM1093.38 914H1107.28V920.94H1093.38zM1079.47 920.94H1086.42V927.87H1079.47zM1093.38 920.94H1100.33V927.87H1093.38z"/>
<path fill="#7305f1" d="M1003 588.2H1009.95V595.13H1003zM996.05 602.06H1003V609H996.05zM996.05 609H1003V615.93H996.05zM829.2 615.93H836.15V622.86H829.2zM829.2 622.86H836.15V629.79H829.2zM1003 622.86H1009.95V629.79H1003zM1003 629.79H1009.95V636.72H1003zM1003 671.38H1009.95V678.32H1003zM1003 678.32H1009.95V685.25H1003zM1009.95 692.18H1016.9V699.11H1009.95zM1009.95 699.11H1016.9V706.04H1009.95zM1030.81 879.34H1037.76V886.28H1030.81zM1072.52 920.94H1079.47V927.87H1072.52zM1037.76 927.87H1044.71V934.8H1037.76z"/>
<path fill="#7605f6" d="M1023.86 879.34H1030.81V886.28H1023.86zM1058.62 900.14H1065.57V907.07H1058.62zM1030.81 927.87H1037.76V934.8H1030.81z"/>
<path fill="#7906fa" d="M829.2 678.32H836.15V685.25H829.2zM1065.57 886.28H1072.52V893.21H1065.57zM1023.86 927.87H1030.81V934.8H1023.86z"/>
<path fill="#7c06fd" d="M1023.86 712.98H1030.81V719.91H1023.86zM1023.86 775.36H1030.81V782.3H1023.86zM1037.76 796.16H1051.66V803.09H1037.76zM1037.76 803.09H1051.66V810.02H1037.76zM1072.52 816.96H1079.47V823.89H1072.52zM1051.66 837.75H1058.62V844.68H1051.66zM1030.81 858.55H1037.76V865.48H1030.81zM1065.57 893.21H1072.52V900.14H1065.57zM1086.42 893.21H1093.38V900.14H1086.42zM1100.33 900.14H1107.28V907.07H1100.33zM1079.47 907.07H1086.42V914H1079.47zM1086.42 920.94H1093.38V927.87H1086.42zM1100.33 920.94H1107.28V927.87H1100.33z"/>
<path fill="#7f07fe" d="M836.15 588.2H843.1V595.13H836.15zM996.05 588.2H1003V595.13H996.05zM836.15 595.13H843.1V602.06H836.15zM996.05 595.13H1003V602.06H996.05zM836.15 602.06H843.1V609H836.15zM836.15 609H843.1V615.93H836.15zM836.15 615.93H843.1V622.86H836.15zM996.05 615.93H1009.95V622.86H996.05zM1003 636.72H1009.95V643.66H1003zM1009.95 643.66H1016.9V650.59H1009.95zM1009.95 650.59H1016.9V657.52H1009.95zM1009.95 657.52H1016.9V664.45H1009.95zM1003 664.45H1009.95V671.38H1003zM1009.95 685.25H1016.9V692.18H1009.95zM1016.9 706.04H1023.86V712.98H1016.9zM1023.86 719.91H1030.81V726.84H1023.86zM1023.86 726.84H1030.81V733.77H1023.86zM1016.9 747.64H1023.86V754.57H1016.9zM1016.9 768.43H1023.86V775.36H1016.9zM1016.9 782.3H1023.86V789.23H1016.9zM1003 789.23H1009.95V796.16H1003zM1065.57 803.09H1072.52V810.02H1065.57zM1058.62 810.02H1065.57V816.96H1058.62zM1072.52 810.02H1079.47V816.96H1072.52zM1003 816.96H1009.95V823.89H1003zM1058.62 816.96H1072.52V823.89H1058.62zM1023.86 837.75H1030.81V844.68H1023.86zM1030.81 851.62H1037.76V858.55H1030.81zM1093.38 900.14H1100.33V907.07H1093.38zM1072.52 907.07H1079.47V914H1072.52zM1079.47 914H1093.38V920.94H1079.47zM1065.57 920.94H1072.52V927.87H1065.57z"/>
<path fill="#8207ff" d="M843.1 588.2H850.06V595.13H843.1zM989.1 588.2H996.05V595.13H989.1zM843.1 595.13H850.06V602.06H843.1zM989.1 595.13H996.05V602.06H989.1zM843.1 602.06H850.06V609H843.1zM989.1 602.06H996.05V609H989.1zM843.1 609H850.06V615.93H843.1zM989.1 609H996.05V615.93H989.1zM843.1 615.93H850.06V622.86H843.1zM989.1 615.93H996.05V622.86H989.1zM836.15 622.86H843.1V629.79H836.15zM989.1 622.86H1003V629.79H989.1zM829.2 629.79H836.15V636.72H829.2zM989.1 629.79H1003V636.72H989.1zM996.05 636.72H1003V643.66H996.05zM1003 643.66H1009.95V650.59H1003zM1003 657.52H1009.95V664.45H1003zM996.05 664.45H1003V671.38H996.05zM996.05 671.38H1003V678.32H996.05zM996.05 678.32H1003V685.25H996.05zM989.1 685.25H1009.95V692.18H989.1zM1003 692.18H1009.95V699.11H1003zM1003 699.11H1009.95V706.04H1003zM1003 706.04H1016.9V712.98H1003zM1009.95 712.98H1023.86V719.91H1009.95zM1016.9 719.91H1023.86V726.84H1016.9zM1016.9 726.84H1023.86V733.77H1016.9zM1016.9 733.77H1023.86V740.7H1016.9zM1016.9 740.7H1023.86V747.64H1016.9zM1009.95 754.57H1016.9V761.5H1009.95zM1009.95 761.5H1016.9V768.43H1009.95zM1016.9 775.36H1023.86V782.3H1016.9zM1009.95 782.3H1016.9V789.23H1009.95zM1003 823.89H1009.95V830.82H1003zM1009.95 830.82H1016.9V837.75H1009.95zM1023.86 844.68H1030.81V851.62H1023.86zM1023.86 865.48H1030.81V872.41H1023.86zM1044.71 893.21H1051.66V900.14H1044.71zM1072.52 914H1079.47V920.94H1072.52zM1051.66 920.94H1065.57V927.87H1051.66z"/>
<path fill="#8408fe" d="M982.14 615.93H989.1V622.86H982.14zM843.1 622.86H850.06V629.79H843.1zM982.14 622.86H989.1V629.79H982.14zM982.14 629.79H989.1V636.72H982.14zM829.2 636.72H836.15V643.66H829.2zM829.2 643.66H836.15V650.59H829.2zM843.1 643.66H850.06V650.59H843.1zM829.2 650.59H836.15V657.52H829.2zM829.2 657.52H836.15V664.45H829.2zM829.2 671.38H836.15V678.32H829.2zM989.1 671.38H996.05V678.32H989.1zM989.1 678.32H996.05V685.25H989.1zM982.14 692.18H996.05V699.11H982.14zM1009.95 733.77H1016.9V740.7H1009.95zM1009.95 768.43H1016.9V775.36H1009.95zM996.05 796.16H1003V803.09H996.05zM996.05 803.09H1003V810.02H996.05zM996.05 823.89H1003V830.82H996.05zM996.05 830.82H1003V837.75H996.05zM1023.86 851.62H1030.81V858.55H1023.86zM1023.86 858.55H1030.81V865.48H1023.86zM1051.66 900.14H1058.62V907.07H1051.66zM1065.57 914H1072.52V920.94H1065.57zM1044.71 920.94H1051.66V927.87H1044.71zM1107.28 920.94H1114.23V927.87H1107.28zM1016.9 927.87H1023.86V934.8H1016.9z"/>
<path fill="#8608fd" d="M850.06 643.66H857.01V650.59H850.06zM829.2 664.45H836.15V671.38H829.2zM829.2 685.25H836.15V692.18H829.2zM989.1 830.82H996.05V837.75H989.1zM1016.9 879.34H1023.86V886.28H1016.9zM1023.86 886.28H1030.81V893.21H1023.86zM1093.38 893.21H1107.28V900.14H1093.38zM961.29 927.87H1016.9V934.8H961.29z"/>
<path fill="#8809fa" d="M829.2 692.18H836.15V699.11H829.2zM829.2 699.11H836.15V706.04H829.2zM829.2 706.04H836.15V712.98H829.2zM829.2 712.98H836.15V719.91H829.2zM829.2 719.91H836.15V726.84H829.2zM829.2 726.84H836.15V733.77H829.2zM1065.57 810.02H1072.52V816.96H1065.57zM989.1 823.89H996.05V830.82H989.1zM1023.86 872.41H1030.81V879.34H1023.86zM996.05 879.34H1003V886.28H996.05zM954.34 927.87H961.29V934.8H954.34z"/>
<path fill="#8b09f6" d="M836.15 629.79H843.1V636.72H836.15zM836.15 636.72H843.1V643.66H836.15zM989.1 636.72H996.05V643.66H989.1zM836.15 643.66H843.1V650.59H836.15zM996.05 643.66H1003V650.59H996.05zM1003 650.59H1009.95V657.52H1003zM996.05 692.18H1003V699.11H996.05zM1003 712.98H1009.95V719.91H1003zM1009.95 719.91H1016.9V726.84H1009.95zM1009.95 726.84H1016.9V733.77H1009.95zM829.2 733.77H836.15V740.7H829.2zM829.2 740.7H836.15V747.64H829.2zM829.2 747.64H836.15V754.57H829.2zM829.2 754.57H836.15V761.5H829.2zM829.2 761.5H836.15V768.43H829.2zM1009.95 775.36H1016.9V782.3H1009.95zM1003 830.82H1009.95V837.75H1003zM1016.9 837.75H1023.86V844.68H1016.9zM1037.76 886.28H1044.71V893.21H1037.76zM1065.57 907.07H1072.52V914H1065.57z"/>
<path fill="#8d0af1" d="M850.06 588.2H857.01V595.13H850.06zM982.14 588.2H989.1V595.13H982.14zM850.06 595.13H857.01V602.06H850.06zM982.14 595.13H989.1V602.06H982.14zM850.06 602.06H857.01V609H850.06zM982.14 602.06H989.1V609H982.14zM850.06 609H857.01V615.93H850.06zM982.14 609H989.1V615.93H982.14zM843.1 629.79H850.06V636.72H843.1zM975.19 629.79H982.14V636.72H975.19zM843.1 636.72H850.06V643.66H843.1zM968.24 636.72H982.14V643.66H968.24zM989.1 643.66H996.05V650.59H989.1zM843.1 650.59H850.06V657.52H843.1zM996.05 650.59H1003V657.52H996.05zM996.05 657.52H1003V664.45H996.05zM989.1 664.45H996.05V671.38H989.1zM982.14 685.25H989.1V692.18H982.14zM975.19 692.18H982.14V699.11H975.19zM975.19 699.11H989.1V706.04H975.19zM996.05 699.11H1003V706.04H996.05zM982.14 706.04H989.1V712.98H982.14zM996.05 706.04H1003V712.98H996.05zM982.14 712.98H1003V719.91H982.14zM982.14 719.91H1009.95V726.84H982.14zM989.1 726.84H1009.95V733.77H989.1zM996.05 733.77H1009.95V740.7H996.05zM1009.95 740.7H1016.9V747.64H1009.95zM1009.95 747.64H1016.9V754.57H1009.95zM1003 761.5H1009.95V768.43H1003zM1003 768.43H1009.95V775.36H1003zM1003 782.3H1009.95V789.23H1003zM996.05 789.23H1003V796.16H996.05zM996.05 810.02H1003V816.96H996.05zM996.05 837.75H1003V844.68H996.05zM1009.95 837.75H1016.9V844.68H1009.95zM1016.9 844.68H1023.86V851.62H1016.9zM1030.81 886.28H1037.76V893.21H1030.81z"/>
<path fill="#900bec" d="M850.06 615.93H857.01V622.86H850.06zM850.06 622.86H857.01V629.79H850.06zM961.29 636.72H968.24V643.66H961.29zM968.24 643.66H982.14V650.59H968.24zM850.06 650.59H857.01V657.52H850.06zM843.1 657.52H850.06V664.45H843.1zM982.14 726.84H989.1V733.77H982.14zM996.05 740.7H1003V747.64H996.05zM829.2 782.3H836.15V789.23H829.2zM829.2 844.68H836.15V851.62H829.2zM1003 858.55H1009.95V865.48H1003zM1003 879.34H1009.95V886.28H1003zM829.2 886.28H836.15V893.21H829.2zM1016.9 886.28H1023.86V893.21H1016.9zM1044.71 900.14H1051.66V907.07H1044.71zM947.38 927.87H954.34V934.8H947.38z"/>
<path fill="#920ce5" d="M968.24 699.11H975.19V706.04H968.24zM989.1 837.75H996.05V844.68H989.1zM829.2 927.87H836.15V934.8H829.2zM919.58 927.87H947.38V934.8H919.58z"/>
<path fill="#940cdd" d="M982.14 636.72H989.1V643.66H982.14zM836.15 650.59H843.1V657.52H836.15zM989.1 699.11H996.05V706.04H989.1zM829.2 768.43H836.15V775.36H829.2zM996.05 816.96H1003V823.89H996.05zM975.19 879.34H982.14V886.28H975.19zM996.05 886.28H1003V893.21H996.05zM912.62 927.87H919.58V934.8H912.62z"/>
<path fill="#970dd5" d="M857.01 588.2H863.96V595.13H857.01zM975.19 588.2H982.14V595.13H975.19zM857.01 595.13H863.96V602.06H857.01zM975.19 595.13H982.14V602.06H975.19zM975.19 602.06H982.14V609H975.19zM975.19 622.86H982.14V629.79H975.19zM850.06 636.72H857.01V643.66H850.06zM982.14 643.66H989.1V650.59H982.14zM982.14 650.59H996.05V657.52H982.14zM836.15 657.52H843.1V664.45H836.15zM989.1 657.52H996.05V664.45H989.1zM982.14 671.38H989.1V678.32H982.14zM982.14 678.32H989.1V685.25H982.14zM975.19 706.04H982.14V712.98H975.19zM989.1 706.04H996.05V712.98H989.1zM975.19 719.91H982.14V726.84H975.19zM975.19 726.84H982.14V733.77H975.19zM1003 740.7H1009.95V747.64H1003zM1003 754.57H1009.95V761.5H1003zM829.2 775.36H836.15V782.3H829.2zM1003 775.36H1009.95V782.3H1003zM829.2 816.96H836.15V823.89H829.2zM829.2 823.89H836.15V830.82H829.2zM829.2 830.82H836.15V837.75H829.2zM829.2 837.75H836.15V844.68H829.2zM1003 837.75H1009.95V844.68H1003zM1003 844.68H1016.9V851.62H1003zM829.2 851.62H836.15V858.55H829.2zM1009.95 851.62H1023.86V858.55H1009.95zM1016.9 858.55H1023.86V865.48H1016.9zM1023.86 920.94H1037.76V927.87H1023.86z"/>
<path fill="#990ecb" d="M863.96 588.2H877.86V595.13H863.96zM961.29 588.2H975.19V595.13H961.29zM968.24 595.13H975.19V602.06H968.24zM857.01 602.06H863.96V609H857.01zM857.01 609H863.96V615.93H857.01zM975.19 609H982.14V615.93H975.19zM975.19 615.93H982.14V622.86H975.19zM850.06 629.79H857.01V636.72H850.06zM961.29 629.79H975.19V636.72H961.29zM954.34 636.72H961.29V643.66H954.34zM975.19 650.59H982.14V657.52H975.19zM850.06 657.52H857.01V664.45H850.06zM975.19 657.52H989.1V664.45H975.19zM982.14 664.45H989.1V671.38H982.14zM836.15 678.32H843.1V685.25H836.15zM975.19 685.25H982.14V692.18H975.19zM975.19 712.98H982.14V719.91H975.19zM968.24 726.84H975.19V733.77H968.24zM961.29 733.77H975.19V740.7H961.29zM989.1 733.77H996.05V740.7H989.1zM996.05 747.64H1003V754.57H996.05zM996.05 761.5H1003V768.43H996.05zM996.05 768.43H1003V775.36H996.05zM829.2 810.02H836.15V816.96H829.2zM996.05 844.68H1003V851.62H996.05zM1003 851.62H1009.95V858.55H1003zM829.2 858.55H836.15V865.48H829.2zM1009.95 858.55H1016.9V865.48H1009.95zM1003 865.48H1009.95V872.41H1003zM996.05 872.41H1003V879.34H996.05zM829.2 879.34H836.15V886.28H829.2zM1009.95 879.34H1016.9V886.28H1009.95zM829.2 893.21H836.15V900.14H829.2zM829.2 920.94H836.15V927.87H829.2z"/>
<path fill="#9b0fc1" d="M877.86 588.2H884.82V595.13H877.86zM863.96 595.13H870.91V602.06H863.96zM961.29 595.13H968.24V602.06H961.29zM947.38 629.79H961.29V636.72H947.38zM947.38 636.72H954.34V643.66H947.38zM968.24 692.18H975.19V699.11H968.24zM968.24 719.91H975.19V726.84H968.24zM961.29 726.84H968.24V733.77H961.29zM954.34 733.77H961.29V740.7H954.34zM975.19 733.77H982.14V740.7H975.19zM975.19 872.41H989.1V879.34H975.19zM1003 886.28H1009.95V893.21H1003zM898.72 927.87H912.62V934.8H898.72z"/>
<path fill="#9d10b5" d="M940.43 629.79H947.38V636.72H940.43zM1058.62 907.07H1065.57V914H1058.62zM1030.81 914H1037.76V920.94H1030.81zM1058.62 914H1065.57V920.94H1058.62zM1037.76 920.94H1044.71V927.87H1037.76z"/>
<path fill="#9f12a9" d="M836.15 664.45H843.1V671.38H836.15zM836.15 671.38H843.1V678.32H836.15zM1003 747.64H1009.95V754.57H1003zM996.05 782.3H1003V789.23H996.05zM1016.9 865.48H1023.86V872.41H1016.9zM1016.9 872.41H1023.86V879.34H1016.9zM1016.9 920.94H1023.86V927.87H1016.9z"/>
<path fill="#a1139c" d="M968.24 602.06H975.19V609H968.24zM968.24 609H975.19V615.93H968.24zM940.43 636.72H947.38V643.66H940.43zM961.29 643.66H968.24V650.59H961.29zM968.24 650.59H975.19V657.52H968.24zM843.1 664.45H850.06V671.38H843.1zM975.19 664.45H982.14V671.38H975.19zM975.19 671.38H982.14V678.32H975.19zM975.19 678.32H982.14V685.25H975.19zM968.24 706.04H975.19V712.98H968.24zM968.24 712.98H975.19V719.91H968.24zM982.14 733.77H989.1V740.7H982.14zM989.1 740.7H996.05V747.64H989.1zM996.05 754.57H1003V761.5H996.05zM996.05 775.36H1003V782.3H996.05zM989.1 789.23H996.05V796.16H989.1zM829.2 803.09H836.15V810.02H829.2zM996.05 851.62H1003V858.55H996.05zM996.05 858.55H1003V865.48H996.05zM829.2 865.48H836.15V872.41H829.2zM996.05 865.48H1003V872.41H996.05zM1009.95 865.48H1016.9V872.41H1009.95zM829.2 872.41H836.15V879.34H829.2zM989.1 872.41H996.05V879.34H989.1zM1009.95 872.41H1016.9V879.34H1009.95zM982.14 879.34H996.05V886.28H982.14zM1009.95 886.28H1016.9V893.21H1009.95zM1044.71 914H1058.62V920.94H1044.71zM1009.95 920.94H1016.9V927.87H1009.95z"/>
<path fill="#a4148f" d="M870.91 595.13H877.86V602.06H870.91zM961.29 602.06H968.24V609H961.29zM863.96 609H870.91V615.93H863.96zM961.29 609H968.24V615.93H961.29zM933.48 636.72H940.43V643.66H933.48zM857.01 643.66H863.96V650.59H857.01zM857.01 650.59H863.96V657.52H857.01zM919.58 650.59H926.53V657.52H919.58zM919.58 657.52H926.53V664.45H919.58zM968.24 657.52H975.19V664.45H968.24zM850.06 664.45H857.01V671.38H850.06zM843.1 678.32H850.06V685.25H843.1zM961.29 699.11H968.24V706.04H961.29zM961.29 706.04H968.24V712.98H961.29zM947.38 726.84H961.29V733.77H947.38zM947.38 733.77H954.34V740.7H947.38zM961.29 740.7H975.19V747.64H961.29zM989.1 782.3H996.05V789.23H989.1zM989.1 844.68H996.05V851.62H989.1zM968.24 879.34H975.19V886.28H968.24zM1037.76 900.14H1044.71V907.07H1037.76zM1023.86 914H1030.81V920.94H1023.86zM961.29 920.94H1003V927.87H961.29zM891.77 927.87H898.72V934.8H891.77z"/>
<path fill="#a61581" d="M961.29 615.93H968.24V622.86H961.29zM933.48 643.66H940.43V650.59H933.48zM926.53 650.59H933.48V657.52H926.53zM912.62 657.52H919.58V664.45H912.62zM843.1 685.25H850.06V692.18H843.1zM940.43 726.84H947.38V733.77H940.43zM947.38 851.62H954.34V858.55H947.38zM975.19 858.55H982.14V865.48H975.19zM968.24 872.41H975.19V879.34H968.24zM898.72 907.07H912.62V914H898.72zM877.86 927.87H891.77V934.8H877.86z"/>
<path fill="#a81773" d="M836.15 685.25H843.1V692.18H836.15zM947.38 712.98H954.34V719.91H947.38zM968.24 837.75H975.19V844.68H968.24zM940.43 851.62H947.38V858.55H940.43zM1003 872.41H1009.95V879.34H1003zM1037.76 893.21H1044.71V900.14H1037.76zM919.58 907.07H933.48V914H919.58zM1051.66 907.07H1058.62V914H1051.66z"/>
<path fill="#aa1864" d="M863.96 602.06H870.91V609H863.96zM857.01 615.93H863.96V622.86H857.01zM968.24 615.93H975.19V622.86H968.24zM968.24 622.86H975.19V629.79H968.24zM954.34 643.66H961.29V650.59H954.34zM843.1 671.38H850.06V678.32H843.1zM968.24 685.25H975.19V692.18H968.24zM829.2 789.23H836.15V796.16H829.2zM829.2 796.16H836.15V803.09H829.2zM989.1 796.16H996.05V803.09H989.1zM989.1 816.96H996.05V823.89H989.1zM989.1 865.48H996.05V872.41H989.1zM954.34 907.07H961.29V914H954.34zM1044.71 907.07H1051.66V914H1044.71zM1037.76 914H1044.71V920.94H1037.76zM954.34 920.94H961.29V927.87H954.34zM1003 920.94H1009.95V927.87H1003z"/>
<path fill="#ac1a54" d="M877.86 595.13H884.82V602.06H877.86zM954.34 602.06H961.29V609H954.34zM863.96 615.93H870.91V622.86H863.96zM961.29 622.86H968.24V629.79H961.29zM857.01 629.79H863.96V636.72H857.01zM857.01 636.72H863.96V643.66H857.01zM926.53 643.66H933.48V650.59H926.53zM940.43 643.66H954.34V650.59H940.43zM961.29 650.59H968.24V657.52H961.29zM857.01 657.52H863.96V664.45H857.01zM961.29 657.52H968.24V664.45H961.29zM968.24 664.45H975.19V671.38H968.24zM968.24 671.38H975.19V678.32H968.24zM968.24 678.32H975.19V685.25H968.24zM836.15 706.04H843.1V712.98H836.15zM947.38 719.91H954.34V726.84H947.38zM961.29 719.91H968.24V726.84H961.29zM975.19 740.7H982.14V747.64H975.19zM989.1 747.64H996.05V754.57H989.1zM989.1 754.57H996.05V761.5H989.1zM989.1 761.5H996.05V768.43H989.1zM989.1 768.43H996.05V775.36H989.1zM989.1 775.36H996.05V782.3H989.1zM982.14 782.3H989.1V789.23H982.14zM982.14 789.23H989.1V796.16H982.14zM982.14 830.82H989.1V837.75H982.14zM968.24 851.62H975.19V858.55H968.24zM989.1 851.62H996.05V858.55H989.1zM982.14 858.55H996.05V865.48H982.14zM982.14 865.48H989.1V872.41H982.14zM1016.9 893.21H1030.81V900.14H1016.9zM829.2 900.14H836.15V907.07H829.2zM1037.76 907.07H1044.71V914H1037.76zM829.2 914H836.15V920.94H829.2zM898.72 920.94H905.67V927.87H898.72zM947.38 920.94H954.34V927.87H947.38z"/>
<path fill="#ae1c44" d="M884.82 588.2H891.77V595.13H884.82zM954.34 588.2H961.29V595.13H954.34zM954.34 595.13H961.29V602.06H954.34zM954.34 609H961.29V615.93H954.34zM870.91 615.93H877.86V622.86H870.91zM933.48 629.79H940.43V636.72H933.48zM926.53 636.72H933.48V643.66H926.53zM912.62 650.59H919.58V657.52H912.62zM905.67 657.52H912.62V664.45H905.67zM926.53 657.52H933.48V664.45H926.53zM954.34 657.52H961.29V664.45H954.34zM850.06 678.32H857.01V685.25H850.06zM954.34 706.04H961.29V712.98H954.34zM940.43 719.91H947.38V726.84H940.43zM940.43 733.77H947.38V740.7H940.43zM982.14 775.36H989.1V782.3H982.14zM975.19 796.16H989.1V803.09H975.19zM961.29 837.75H968.24V844.68H961.29zM961.29 844.68H975.19V851.62H961.29zM884.82 851.62H898.72V858.55H884.82zM961.29 851.62H968.24V858.55H961.29zM975.19 851.62H982.14V858.55H975.19zM947.38 858.55H961.29V865.48H947.38zM968.24 858.55H975.19V865.48H968.24zM870.91 865.48H884.82V872.41H870.91zM954.34 865.48H961.29V872.41H954.34zM877.86 872.41H884.82V879.34H877.86zM975.19 886.28H982.14V893.21H975.19zM898.72 900.14H912.62V907.07H898.72zM829.2 907.07H836.15V914H829.2zM891.77 907.07H898.72V914H891.77zM912.62 907.07H919.58V914H912.62zM1016.9 914H1023.86V920.94H1016.9zM870.91 927.87H877.86V934.8H870.91z"/>
<path fill="#b01d34" d="M912.62 664.45H919.58V671.38H912.62zM940.43 712.98H947.38V719.91H940.43zM933.48 733.77H940.43V740.7H933.48zM975.19 761.5H982.14V768.43H975.19zM961.29 796.16H975.19V803.09H961.29zM877.86 844.68H884.82V851.62H877.86zM898.72 851.62H912.62V858.55H898.72zM933.48 851.62H940.43V858.55H933.48zM884.82 865.48H891.77V872.41H884.82zM870.91 872.41H877.86V879.34H870.91zM982.14 900.14H996.05V907.07H982.14zM961.29 907.07H968.24V914H961.29zM975.19 907.07H982.14V914H975.19z"/>
<path fill="#b21f24" d="M947.38 602.06H954.34V609H947.38zM836.15 692.18H843.1V699.11H836.15zM843.1 726.84H850.06V733.77H843.1zM933.48 907.07H940.43V914H933.48zM947.38 907.07H954.34V914H947.38z"/>
<path fill="#b32114" d="M857.01 622.86H863.96V629.79H857.01zM836.15 699.11H843.1V706.04H836.15zM836.15 712.98H843.1V719.91H836.15zM961.29 712.98H968.24V719.91H961.29zM836.15 719.91H843.1V726.84H836.15zM954.34 719.91H961.29V726.84H954.34zM836.15 726.84H843.1V733.77H836.15zM954.34 740.7H961.29V747.64H954.34zM982.14 740.7H989.1V747.64H982.14zM989.1 803.09H996.05V810.02H989.1zM989.1 810.02H996.05V816.96H989.1zM982.14 823.89H989.1V830.82H982.14zM975.19 865.48H982.14V872.41H975.19zM989.1 886.28H996.05V893.21H989.1zM1030.81 893.21H1037.76V900.14H1030.81zM905.67 920.94H912.62V927.87H905.67zM940.43 920.94H947.38V927.87H940.43z"/>
<path fill="#b52303" d="M884.82 595.13H891.77V602.06H884.82zM870.91 609H877.86V615.93H870.91zM954.34 622.86H961.29V629.79H954.34zM919.58 643.66H926.53V650.59H919.58zM933.48 650.59H940.43V657.52H933.48zM947.38 650.59H961.29V657.52H947.38zM961.29 664.45H968.24V671.38H961.29zM850.06 671.38H857.01V678.32H850.06zM961.29 671.38H968.24V678.32H961.29zM961.29 678.32H968.24V685.25H961.29zM961.29 685.25H968.24V692.18H961.29zM961.29 692.18H968.24V699.11H961.29zM954.34 712.98H961.29V719.91H954.34zM933.48 726.84H940.43V733.77H933.48zM961.29 747.64H975.19V754.57H961.29zM982.14 747.64H989.1V754.57H982.14zM982.14 754.57H989.1V761.5H982.14zM982.14 761.5H989.1V768.43H982.14zM982.14 768.43H989.1V775.36H982.14zM975.19 782.3H982.14V789.23H975.19zM968.24 789.23H982.14V796.16H968.24zM954.34 851.62H961.29V858.55H954.34zM982.14 851.62H989.1V858.55H982.14zM961.29 858.55H968.24V865.48H961.29zM947.38 865.48H954.34V872.41H947.38zM961.29 865.48H975.19V872.41H961.29zM961.29 872.41H968.24V879.34H961.29zM982.14 886.28H989.1V893.21H982.14zM912.62 900.14H919.58V907.07H912.62zM891.77 914H912.62V920.94H891.77zM947.38 914H961.29V920.94H947.38zM884.82 920.94H898.72V927.87H884.82zM912.62 920.94H940.43V927.87H912.62z"/>
<path fill="#b72503" d="M891.77 588.2H905.67V595.13H891.77zM891.77 595.13H905.67V602.06H891.77zM884.82 602.06H898.72V609H884.82zM877.86 609H891.77V615.93H877.86zM877.86 615.93H884.82V622.86H877.86zM954.34 615.93H961.29V622.86H954.34zM863.96 622.86H877.86V629.79H863.96zM926.53 629.79H933.48V636.72H926.53zM919.58 636.72H926.53V643.66H919.58zM912.62 643.66H919.58V650.59H912.62zM905.67 650.59H912.62V657.52H905.67zM940.43 650.59H947.38V657.52H940.43zM933.48 657.52H940.43V664.45H933.48zM947.38 657.52H954.34V664.45H947.38zM857.01 664.45H863.96V671.38H857.01zM905.67 664.45H912.62V671.38H905.67zM919.58 664.45H961.29V671.38H919.58zM947.38 671.38H961.29V678.32H947.38zM954.34 678.32H961.29V685.25H954.34zM850.06 685.25H857.01V692.18H850.06zM843.1 692.18H850.06V699.11H843.1zM843.1 699.11H850.06V706.04H843.1zM843.1 706.04H850.06V712.98H843.1zM947.38 706.04H954.34V712.98H947.38zM926.53 733.77H933.48V740.7H926.53zM947.38 740.7H954.34V747.64H947.38zM954.34 747.64H961.29V754.57H954.34zM954.34 754.57H982.14V761.5H954.34zM968.24 761.5H975.19V768.43H968.24zM968.24 768.43H982.14V775.36H968.24zM968.24 775.36H982.14V782.3H968.24zM968.24 782.3H975.19V789.23H968.24zM961.29 789.23H968.24V796.16H961.29zM954.34 796.16H961.29V803.09H954.34zM982.14 816.96H989.1V823.89H982.14zM975.19 830.82H982.14V837.75H975.19zM870.91 837.75H884.82V844.68H870.91zM870.91 844.68H877.86V851.62H870.91zM884.82 844.68H905.67V851.62H884.82zM933.48 844.68H961.29V851.62H933.48zM877.86 851.62H884.82V858.55H877.86zM884.82 858.55H891.77V865.48H884.82zM863.96 865.48H870.91V872.41H863.96zM891.77 865.48H905.67V872.41H891.77zM940.43 865.48H947.38V872.41H940.43zM884.82 872.41H891.77V879.34H884.82zM947.38 872.41H961.29V879.34H947.38zM961.29 879.34H968.24V886.28H961.29zM968.24 886.28H975.19V893.21H968.24zM891.77 900.14H898.72V907.07H891.77zM919.58 900.14H926.53V907.07H919.58zM975.19 900.14H982.14V907.07H975.19zM968.24 907.07H975.19V914H968.24zM982.14 907.07H989.1V914H982.14zM884.82 914H891.77V920.94H884.82zM1009.95 914H1016.9V920.94H1009.95zM870.91 920.94H884.82V927.87H870.91zM863.96 927.87H870.91V934.8H863.96z"/>
<path fill="#b92703" d="M905.67 595.13H912.62V602.06H905.67zM898.72 602.06H905.67V609H898.72zM884.82 615.93H891.77V622.86H884.82zM912.62 636.72H919.58V643.66H912.62zM863.96 657.52H870.91V664.45H863.96zM898.72 664.45H905.67V671.38H898.72zM940.43 671.38H947.38V678.32H940.43zM857.01 678.32H863.96V685.25H857.01zM947.38 678.32H954.34V685.25H947.38zM954.34 685.25H961.29V692.18H954.34zM850.06 699.11H863.96V706.04H850.06zM863.96 706.04H877.86V712.98H863.96zM891.77 706.04H905.67V712.98H891.77zM863.96 712.98H877.86V719.91H863.96zM850.06 726.84H857.01V733.77H850.06zM919.58 726.84H933.48V733.77H919.58zM857.01 733.77H863.96V740.7H857.01zM919.58 733.77H926.53V740.7H919.58zM947.38 747.64H954.34V754.57H947.38zM954.34 761.5H961.29V768.43H954.34zM961.29 782.3H968.24V789.23H961.29zM954.34 789.23H961.29V796.16H954.34zM982.14 810.02H989.1V816.96H982.14zM968.24 830.82H975.19V837.75H968.24zM863.96 837.75H870.91V844.68H863.96zM905.67 844.68H912.62V851.62H905.67zM870.91 851.62H877.86V858.55H870.91zM857.01 865.48H863.96V872.41H857.01zM905.67 865.48H912.62V872.41H905.67zM933.48 865.48H940.43V872.41H933.48zM863.96 872.41H870.91V879.34H863.96zM891.77 872.41H912.62V879.34H891.77zM933.48 872.41H947.38V879.34H933.48zM884.82 886.28H891.77V893.21H884.82zM926.53 900.14H933.48V907.07H926.53zM996.05 900.14H1003V907.07H996.05zM940.43 907.07H947.38V914H940.43zM857.01 927.87H863.96V934.8H857.01z"/>
<path fill="#bb2903" d="M905.67 602.06H912.62V609H905.67zM891.77 664.45H898.72V671.38H891.77zM877.86 712.98H898.72V719.91H877.86zM912.62 726.84H919.58V733.77H912.62zM863.96 733.77H870.91V740.7H863.96z"/>
<path fill="#bd2c03" d="M870.91 602.06H877.86V609H870.91zM836.15 733.77H843.1V740.7H836.15zM836.15 740.7H843.1V747.64H836.15zM836.15 747.64H843.1V754.57H836.15zM975.19 747.64H982.14V754.57H975.19zM836.15 754.57H843.1V761.5H836.15zM982.14 837.75H989.1V844.68H982.14zM982.14 844.68H989.1V851.62H982.14zM940.43 858.55H947.38V865.48H940.43zM996.05 893.21H1016.9V900.14H996.05zM1030.81 907.07H1037.76V914H1030.81zM912.62 914H919.58V920.94H912.62zM961.29 914H989.1V920.94H961.29z"/>
<path fill="#be2e03" d="M877.86 602.06H884.82V609H877.86zM877.86 622.86H884.82V629.79H877.86zM947.38 622.86H954.34V629.79H947.38zM863.96 650.59H870.91V657.52H863.96zM940.43 657.52H947.38V664.45H940.43zM857.01 671.38H863.96V678.32H857.01zM850.06 692.18H857.01V699.11H850.06zM954.34 699.11H961.29V706.04H954.34zM843.1 719.91H850.06V726.84H843.1zM933.48 719.91H940.43V726.84H933.48zM940.43 740.7H947.38V747.64H940.43zM836.15 761.5H843.1V768.43H836.15zM961.29 761.5H968.24V768.43H961.29zM975.19 803.09H989.1V810.02H975.19zM975.19 837.75H982.14V844.68H975.19zM975.19 844.68H982.14V851.62H975.19zM870.91 858.55H884.82V865.48H870.91zM891.77 858.55H912.62V865.48H891.77zM933.48 858.55H940.43V865.48H933.48zM898.72 893.21H912.62V900.14H898.72zM975.19 893.21H996.05V900.14H975.19zM968.24 900.14H975.19V907.07H968.24zM1023.86 900.14H1037.76V907.07H1023.86zM884.82 907.07H891.77V914H884.82zM989.1 907.07H996.05V914H989.1zM1016.9 907.07H1030.81V914H1016.9zM919.58 914H947.38V920.94H919.58zM989.1 914H1009.95V920.94H989.1zM863.96 920.94H870.91V927.87H863.96z"/>
<path fill="#c03003" d="M905.67 588.2H912.62V595.13H905.67zM891.77 609H898.72V615.93H891.77zM947.38 609H954.34V615.93H947.38zM891.77 615.93H898.72V622.86H891.77zM884.82 622.86H891.77V629.79H884.82zM863.96 629.79H870.91V636.72H863.96zM919.58 629.79H926.53V636.72H919.58zM863.96 643.66H870.91V650.59H863.96zM905.67 643.66H912.62V650.59H905.67zM898.72 657.52H905.67V664.45H898.72zM863.96 664.45H870.91V671.38H863.96zM863.96 671.38H870.91V678.32H863.96zM933.48 671.38H940.43V678.32H933.48zM863.96 678.32H870.91V685.25H863.96zM940.43 678.32H947.38V685.25H940.43zM857.01 685.25H863.96V692.18H857.01zM947.38 685.25H954.34V692.18H947.38zM857.01 692.18H870.91V699.11H857.01zM954.34 692.18H961.29V699.11H954.34zM863.96 699.11H905.67V706.04H863.96zM850.06 706.04H863.96V712.98H850.06zM877.86 706.04H891.77V712.98H877.86zM843.1 712.98H850.06V719.91H843.1zM857.01 712.98H863.96V719.91H857.01zM850.06 719.91H857.01V726.84H850.06zM857.01 726.84H863.96V733.77H857.01zM933.48 740.7H940.43V747.64H933.48zM947.38 754.57H954.34V761.5H947.38zM947.38 761.5H954.34V768.43H947.38zM954.34 768.43H968.24V775.36H954.34zM961.29 775.36H968.24V782.3H961.29zM954.34 782.3H961.29V789.23H954.34zM947.38 796.16H954.34V803.09H947.38zM954.34 803.09H975.19V810.02H954.34zM975.19 810.02H982.14V816.96H975.19zM975.19 816.96H982.14V823.89H975.19zM975.19 823.89H982.14V830.82H975.19zM870.91 830.82H877.86V837.75H870.91zM961.29 830.82H968.24V837.75H961.29zM884.82 837.75H905.67V844.68H884.82zM954.34 837.75H961.29V844.68H954.34zM863.96 844.68H870.91V851.62H863.96zM912.62 844.68H919.58V851.62H912.62zM926.53 844.68H933.48V851.62H926.53zM863.96 851.62H870.91V858.55H863.96zM912.62 851.62H933.48V858.55H912.62zM857.01 858.55H870.91V865.48H857.01zM912.62 858.55H933.48V865.48H912.62zM912.62 865.48H933.48V872.41H912.62zM912.62 872.41H919.58V879.34H912.62zM926.53 872.41H933.48V879.34H926.53zM877.86 879.34H891.77V886.28H877.86zM905.67 879.34H919.58V886.28H905.67zM940.43 879.34H961.29V886.28H940.43zM877.86 886.28H884.82V893.21H877.86zM891.77 886.28H898.72V893.21H891.77zM905.67 886.28H919.58V893.21H905.67zM961.29 886.28H968.24V893.21H961.29zM870.91 893.21H898.72V900.14H870.91zM912.62 893.21H926.53V900.14H912.62zM961.29 893.21H975.19V900.14H961.29zM863.96 900.14H891.77V907.07H863.96zM961.29 900.14H968.24V907.07H961.29zM1003 900.14H1023.86V907.07H1003zM863.96 907.07H884.82V914H863.96zM996.05 907.07H1016.9V914H996.05zM863.96 914H884.82V920.94H863.96zM857.01 920.94H863.96V927.87H857.01zM850.06 927.87H857.01V934.8H850.06z"/>
<path fill="#c23203" d="M940.43 602.06H947.38V609H940.43zM891.77 622.86H898.72V629.79H891.77zM926.53 622.86H933.48V629.79H926.53zM870.91 629.79H891.77V636.72H870.91zM905.67 636.72H912.62V643.66H905.67zM870.91 657.52H877.86V664.45H870.91zM891.77 657.52H898.72V664.45H891.77zM870.91 664.45H877.86V671.38H870.91zM891.77 671.38H905.67V678.32H891.77zM926.53 671.38H933.48V678.32H926.53zM870.91 678.32H877.86V685.25H870.91zM870.91 692.18H912.62V699.11H870.91zM905.67 699.11H912.62V706.04H905.67zM905.67 706.04H912.62V712.98H905.67zM898.72 712.98H905.67V719.91H898.72zM912.62 733.77H919.58V740.7H912.62zM857.01 740.7H870.91V747.64H857.01zM926.53 740.7H933.48V747.64H926.53zM884.82 747.64H891.77V754.57H884.82zM947.38 768.43H954.34V775.36H947.38zM947.38 789.23H954.34V796.16H947.38zM850.06 796.16H863.96V803.09H850.06zM926.53 796.16H933.48V803.09H926.53zM850.06 803.09H863.96V810.02H850.06zM947.38 803.09H954.34V810.02H947.38zM857.01 810.02H863.96V816.96H857.01zM857.01 816.96H870.91V823.89H857.01zM863.96 830.82H870.91V837.75H863.96zM877.86 830.82H884.82V837.75H877.86zM954.34 830.82H961.29V837.75H954.34zM857.01 837.75H863.96V844.68H857.01zM926.53 837.75H940.43V844.68H926.53zM919.58 844.68H926.53V851.62H919.58zM850.06 865.48H857.01V872.41H850.06zM857.01 872.41H863.96V879.34H857.01zM919.58 872.41H926.53V879.34H919.58zM863.96 886.28H870.91V893.21H863.96zM898.72 886.28H905.67V893.21H898.72zM919.58 886.28H926.53V893.21H919.58zM947.38 886.28H961.29V893.21H947.38zM863.96 893.21H870.91V900.14H863.96zM857.01 900.14H863.96V907.07H857.01zM857.01 907.07H863.96V914H857.01zM857.01 914H863.96V920.94H857.01zM850.06 920.94H857.01V927.87H850.06z"/>
<path fill="#c43503" d="M877.86 678.32H884.82V685.25H877.86zM891.77 747.64H898.72V754.57H891.77zM870.91 775.36H884.82V782.3H870.91zM919.58 796.16H926.53V803.09H919.58zM926.53 816.96H933.48V823.89H926.53zM857.01 886.28H863.96V893.21H857.01zM940.43 886.28H947.38V893.21H940.43z"/>
<path fill="#c53703" d="M947.38 595.13H954.34V602.06H947.38zM836.15 768.43H843.1V775.36H836.15z"/>
<path fill="#c73a03" d="M947.38 588.2H954.34V595.13H947.38zM898.72 609H905.67V615.93H898.72zM940.43 622.86H947.38V629.79H940.43zM863.96 636.72H870.91V643.66H863.96zM898.72 650.59H905.67V657.52H898.72zM863.96 685.25H870.91V692.18H863.96zM850.06 712.98H857.01V719.91H850.06zM857.01 719.91H863.96V726.84H857.01zM926.53 719.91H933.48V726.84H926.53zM843.1 733.77H857.01V740.7H843.1zM836.15 775.36H843.1V782.3H836.15zM968.24 823.89H975.19V830.82H968.24zM836.15 837.75H843.1V844.68H836.15zM940.43 837.75H954.34V844.68H940.43zM863.96 879.34H877.86V886.28H863.96zM891.77 879.34H905.67V886.28H891.77zM933.48 879.34H940.43V886.28H933.48zM954.34 900.14H961.29V907.07H954.34z"/>
<path fill="#c93d03" d="M912.62 588.2H919.58V595.13H912.62zM912.62 595.13H919.58V602.06H912.62zM933.48 595.13H947.38V602.06H933.48zM912.62 602.06H919.58V609H912.62zM905.67 609H912.62V615.93H905.67zM898.72 615.93H905.67V622.86H898.72zM898.72 622.86H905.67V629.79H898.72zM933.48 622.86H940.43V629.79H933.48zM891.77 629.79H919.58V636.72H891.77zM877.86 636.72H905.67V643.66H877.86zM898.72 643.66H905.67V650.59H898.72zM884.82 664.45H891.77V671.38H884.82zM870.91 671.38H891.77V678.32H870.91zM905.67 671.38H912.62V678.32H905.67zM919.58 671.38H926.53V678.32H919.58zM926.53 678.32H940.43V685.25H926.53zM870.91 685.25H877.86V692.18H870.91zM940.43 685.25H947.38V692.18H940.43zM947.38 692.18H954.34V699.11H947.38zM947.38 699.11H954.34V706.04H947.38zM940.43 706.04H947.38V712.98H940.43zM933.48 712.98H940.43V719.91H933.48zM863.96 719.91H870.91V726.84H863.96zM919.58 719.91H926.53V726.84H919.58zM863.96 726.84H870.91V733.77H863.96zM870.91 740.7H877.86V747.64H870.91zM919.58 740.7H926.53V747.64H919.58zM870.91 747.64H884.82V754.57H870.91zM940.43 747.64H947.38V754.57H940.43zM940.43 754.57H947.38V761.5H940.43zM954.34 775.36H961.29V782.3H954.34zM947.38 782.3H954.34V789.23H947.38zM933.48 796.16H947.38V803.09H933.48zM863.96 803.09H870.91V810.02H863.96zM926.53 803.09H947.38V810.02H926.53zM850.06 810.02H857.01V816.96H850.06zM863.96 810.02H870.91V816.96H863.96zM926.53 810.02H975.19V816.96H926.53zM933.48 816.96H940.43V823.89H933.48zM968.24 816.96H975.19V823.89H968.24zM857.01 823.89H877.86V830.82H857.01zM947.38 823.89H968.24V830.82H947.38zM857.01 830.82H863.96V837.75H857.01zM884.82 830.82H891.77V837.75H884.82zM933.48 830.82H954.34V837.75H933.48zM905.67 837.75H926.53V844.68H905.67zM857.01 844.68H863.96V851.62H857.01zM857.01 851.62H863.96V858.55H857.01zM850.06 858.55H857.01V865.48H850.06zM857.01 879.34H863.96V886.28H857.01zM919.58 879.34H933.48V886.28H919.58zM870.91 886.28H877.86V893.21H870.91zM926.53 886.28H933.48V893.21H926.53zM857.01 893.21H863.96V900.14H857.01zM926.53 893.21H933.48V900.14H926.53zM954.34 893.21H961.29V900.14H954.34zM933.48 900.14H940.43V907.07H933.48z"/>
<path fill="#cb4003" d="M919.58 588.2H947.38V595.13H919.58zM926.53 595.13H933.48V602.06H926.53zM919.58 602.06H940.43V609H919.58zM919.58 609H933.48V615.93H919.58zM905.67 615.93H912.62V622.86H905.67zM919.58 615.93H926.53V622.86H919.58zM905.67 622.86H912.62V629.79H905.67zM919.58 622.86H926.53V629.79H919.58zM877.86 643.66H898.72V650.59H877.86zM891.77 650.59H898.72V657.52H891.77zM877.86 664.45H884.82V671.38H877.86zM884.82 678.32H898.72V685.25H884.82zM898.72 685.25H940.43V692.18H898.72zM912.62 692.18H919.58V699.11H912.62zM912.62 699.11H919.58V706.04H912.62zM912.62 706.04H919.58V712.98H912.62zM905.67 712.98H912.62V719.91H905.67zM919.58 712.98H933.48V719.91H919.58zM870.91 733.77H877.86V740.7H870.91zM850.06 740.7H857.01V747.64H850.06zM877.86 740.7H898.72V747.64H877.86zM912.62 740.7H919.58V747.64H912.62zM843.1 747.64H850.06V754.57H843.1zM863.96 747.64H870.91V754.57H863.96zM898.72 747.64H905.67V754.57H898.72zM933.48 747.64H940.43V754.57H933.48zM843.1 754.57H850.06V761.5H843.1zM863.96 754.57H898.72V761.5H863.96zM940.43 761.5H947.38V768.43H940.43zM863.96 768.43H891.77V775.36H863.96zM940.43 768.43H947.38V775.36H940.43zM863.96 775.36H870.91V782.3H863.96zM884.82 775.36H891.77V782.3H884.82zM857.01 789.23H863.96V796.16H857.01zM912.62 789.23H947.38V796.16H912.62zM863.96 796.16H891.77V803.09H863.96zM905.67 796.16H919.58V803.09H905.67zM843.1 803.09H850.06V810.02H843.1zM870.91 803.09H891.77V810.02H870.91zM843.1 810.02H850.06V816.96H843.1zM919.58 810.02H926.53V816.96H919.58zM850.06 816.96H857.01V823.89H850.06zM870.91 816.96H877.86V823.89H870.91zM912.62 816.96H926.53V823.89H912.62zM940.43 816.96H968.24V823.89H940.43zM850.06 823.89H857.01V830.82H850.06zM877.86 823.89H884.82V830.82H877.86zM919.58 823.89H947.38V830.82H919.58zM850.06 830.82H857.01V837.75H850.06zM891.77 830.82H912.62V837.75H891.77zM850.06 837.75H857.01V844.68H850.06zM850.06 844.68H857.01V851.62H850.06zM850.06 851.62H857.01V858.55H850.06zM843.1 865.48H850.06V872.41H843.1zM850.06 872.41H857.01V879.34H850.06zM933.48 886.28H940.43V893.21H933.48zM850.06 893.21H857.01V900.14H850.06zM850.06 900.14H857.01V907.07H850.06zM850.06 907.07H857.01V914H850.06zM850.06 914H857.01V920.94H850.06zM843.1 927.87H850.06V934.8H843.1z"/>
<path fill="#cc4303" d="M905.67 747.64H912.62V754.57H905.67zM919.58 747.64H926.53V754.57H919.58zM891.77 768.43H898.72V775.36H891.77zM912.62 768.43H919.58V775.36H912.62zM884.82 782.3H891.77V789.23H884.82zM850.06 789.23H857.01V796.16H850.06zM843.1 796.16H850.06V803.09H843.1zM891.77 796.16H905.67V803.09H891.77zM905.67 816.96H912.62V823.89H905.67zM843.1 872.41H850.06V879.34H843.1zM843.1 920.94H850.06V927.87H843.1zM836.15 927.87H843.1V934.8H836.15z"/>
<path fill="#ce4703" d="M836.15 803.09H843.1V810.02H836.15zM836.15 810.02H843.1V816.96H836.15zM836.15 816.96H843.1V823.89H836.15zM836.15 823.89H843.1V830.82H836.15zM836.15 830.82H843.1V837.75H836.15zM836.15 844.68H843.1V851.62H836.15zM836.15 872.41H843.1V879.34H836.15z"/>
<path fill="#d04a03" d="M919.58 595.13H926.53V602.06H919.58zM912.62 609H919.58V615.93H912.62zM947.38 615.93H954.34V622.86H947.38zM870.91 636.72H877.86V643.66H870.91zM870.91 650.59H877.86V657.52H870.91zM912.62 671.38H919.58V678.32H912.62zM898.72 678.32H905.67V685.25H898.72zM877.86 685.25H898.72V692.18H877.86zM870.91 719.91H877.86V726.84H870.91zM843.1 740.7H850.06V747.64H843.1zM947.38 775.36H954.34V782.3H947.38zM836.15 782.3H843.1V789.23H836.15zM919.58 803.09H926.53V810.02H919.58zM926.53 830.82H933.48V837.75H926.53zM836.15 893.21H843.1V900.14H836.15zM947.38 900.14H954.34V907.07H947.38z"/>
<path fill="#d14e03" d="M933.48 609H947.38V615.93H933.48zM912.62 615.93H919.58V622.86H912.62zM926.53 615.93H933.48V622.86H926.53zM870.91 643.66H877.86V650.59H870.91zM877.86 650.59H891.77V657.52H877.86zM877.86 657.52H891.77V664.45H877.86zM905.67 678.32H926.53V685.25H905.67zM919.58 692.18H947.38V699.11H919.58zM919.58 699.11H926.53V706.04H919.58zM940.43 699.11H947.38V706.04H940.43zM919.58 706.04H940.43V712.98H919.58zM912.62 712.98H919.58V719.91H912.62zM877.86 719.91H884.82V726.84H877.86zM912.62 719.91H919.58V726.84H912.62zM870.91 726.84H877.86V733.77H870.91zM905.67 733.77H912.62V740.7H905.67zM898.72 740.7H912.62V747.64H898.72zM850.06 747.64H863.96V754.57H850.06zM912.62 747.64H919.58V754.57H912.62zM926.53 747.64H933.48V754.57H926.53zM933.48 754.57H940.43V761.5H933.48zM843.1 761.5H850.06V768.43H843.1zM863.96 761.5H898.72V768.43H863.96zM843.1 768.43H850.06V775.36H843.1zM891.77 775.36H898.72V782.3H891.77zM940.43 775.36H947.38V782.3H940.43zM877.86 782.3H884.82V789.23H877.86zM891.77 782.3H898.72V789.23H891.77zM912.62 782.3H926.53V789.23H912.62zM940.43 782.3H947.38V789.23H940.43zM884.82 789.23H912.62V796.16H884.82zM912.62 803.09H919.58V810.02H912.62zM870.91 810.02H884.82V816.96H870.91zM912.62 810.02H919.58V816.96H912.62zM843.1 816.96H850.06V823.89H843.1zM877.86 816.96H884.82V823.89H877.86zM843.1 823.89H850.06V830.82H843.1zM884.82 823.89H891.77V830.82H884.82zM905.67 823.89H919.58V830.82H905.67zM843.1 830.82H850.06V837.75H843.1zM912.62 830.82H926.53V837.75H912.62zM843.1 837.75H850.06V844.68H843.1zM843.1 844.68H850.06V851.62H843.1zM843.1 858.55H850.06V865.48H843.1zM933.48 893.21H940.43V900.14H933.48zM947.38 893.21H954.34V900.14H947.38z"/>
<path fill="#d35103" d="M926.53 699.11H940.43V706.04H926.53zM884.82 719.91H898.72V726.84H884.82zM905.67 726.84H912.62V733.77H905.67zM877.86 733.77H884.82V740.7H877.86zM857.01 754.57H863.96V761.5H857.01zM912.62 754.57H919.58V761.5H912.62zM857.01 761.5H863.96V768.43H857.01zM912.62 761.5H919.58V768.43H912.62zM933.48 761.5H940.43V768.43H933.48zM850.06 768.43H863.96V775.36H850.06zM898.72 768.43H912.62V775.36H898.72zM919.58 768.43H940.43V775.36H919.58zM843.1 775.36H863.96V782.3H843.1zM898.72 775.36H926.53V782.3H898.72zM857.01 782.3H870.91V789.23H857.01zM898.72 782.3H912.62V789.23H898.72zM926.53 782.3H940.43V789.23H926.53zM905.67 803.09H912.62V810.02H905.67zM884.82 810.02H912.62V816.96H884.82zM884.82 816.96H905.67V823.89H884.82zM843.1 851.62H850.06V858.55H843.1zM850.06 886.28H857.01V893.21H850.06zM843.1 893.21H850.06V900.14H843.1z"/>
<path fill="#d45503" d="M884.82 733.77H898.72V740.7H884.82zM836.15 851.62H843.1V858.55H836.15zM836.15 858.55H843.1V865.48H836.15zM836.15 865.48H843.1V872.41H836.15zM836.15 879.34H843.1V886.28H836.15zM836.15 886.28H843.1V893.21H836.15zM836.15 920.94H843.1V927.87H836.15z"/>
<path fill="#d65903" d="M836.15 796.16H843.1V803.09H836.15zM940.43 900.14H947.38V907.07H940.43z"/>
<path fill="#d75d03" d="M933.48 615.93H947.38V622.86H933.48zM912.62 622.86H919.58V629.79H912.62zM905.67 719.91H912.62V726.84H905.67zM870.91 782.3H877.86V789.23H870.91zM863.96 789.23H870.91V796.16H863.96zM891.77 803.09H898.72V810.02H891.77zM898.72 823.89H905.67V830.82H898.72zM850.06 879.34H857.01V886.28H850.06zM940.43 893.21H947.38V900.14H940.43z"/>
<path fill="#d86103" d="M898.72 719.91H905.67V726.84H898.72zM898.72 733.77H905.67V740.7H898.72zM850.06 754.57H857.01V761.5H850.06zM898.72 754.57H912.62V761.5H898.72zM919.58 754.57H933.48V761.5H919.58zM850.06 761.5H857.01V768.43H850.06zM898.72 761.5H912.62V768.43H898.72zM919.58 761.5H933.48V768.43H919.58zM926.53 775.36H940.43V782.3H926.53zM843.1 789.23H850.06V796.16H843.1zM870.91 789.23H884.82V796.16H870.91zM898.72 803.09H905.67V810.02H898.72zM891.77 823.89H898.72V830.82H891.77z"/>
<path fill="#da6503" d="M898.72 726.84H905.67V733.77H898.72zM843.1 886.28H850.06V893.21H843.1zM843.1 900.14H850.06V907.07H843.1zM843.1 914H850.06V920.94H843.1z"/>
<path fill="#db6903" d="M836.15 789.23H843.1V796.16H836.15z"/>
<path fill="#de7203" d="M850.06 782.3H857.01V789.23H850.06z"/>
<path fill="#e07703" d="M877.86 726.84H884.82V733.77H877.86zM891.77 726.84H898.72V733.77H891.77zM843.1 782.3H850.06V789.23H843.1zM843.1 879.34H850.06V886.28H843.1z"/>
<path fill="#e17c03" d="M843.1 907.07H850.06V914H843.1z"/>
<path fill="#e48503" d="M836.15 900.14H843.1V907.07H836.15zM836.15 914H843.1V920.94H836.15z"/>
<path fill="#e78f03" d="M884.82 726.84H891.77V733.77H884.82z"/>
<path fill="#eda603" d="M836.15 907.07H843.1V914H836.15z"/>
</g>
<path fill="#fff" fill-opacity=".13" d="M835.58 588.2h1.15v346.6h-1.15zM842.53 588.2h1.15v346.6h-1.15zM849.48 588.2h1.15v346.6h-1.15zM919 588.2h1.15v346.6h-1.15zM925.95 588.2h1.15v346.6h-1.15zM932.9 588.2h1.15v346.6h-1.15zM939.86 588.2h1.15v346.6h-1.15zM946.81 588.2h1.15v346.6h-1.15zM953.76 588.2h1.15v346.6h-1.15zM1030.23 588.2h1.15v346.6h-1.15zM1037.18 588.2h1.15v346.6h-1.15zM1044.14 588.2h1.15v346.6h-1.15zM1051.09 588.2h1.15v346.6h-1.15zM1058.04 588.2h1.15v346.6h-1.15zM1064.99 588.2h1.15v346.6h-1.15zM1134.51 588.2h1.15v346.6h-1.15zM1141.46 588.2h1.15v346.6h-1.15zM1148.42 588.2h1.15v346.6h-1.15zM1155.37 588.2h1.15v346.6h-1.15zM1162.32 588.2h1.15v346.6h-1.15zM1169.27 588.2h1.15v346.6h-1.15zM829.2 594.56h347.6v1.15h-347.6zM829.2 601.49h347.6v1.15h-347.6zM829.2 608.42h347.6v1.15h-347.6zM829.2 677.74h347.6v1.15h-347.6zM829.2 684.67h347.6v1.15h-347.6zM829.2 691.61h347.6v1.15h-347.6zM829.2 698.54h347.6v1.15h-347.6zM829.2 705.47h347.6v1.15h-347.6zM829.2 712.4h347.6v1.15h-347.6zM829.2 774.79h347.6v1.15h-347.6zM829.2 781.72h347.6v1.15h-347.6zM829.2 788.65h347.6v1.15h-347.6zM829.2 795.58h347.6v1.15h-347.6zM829.2 802.52h347.6v1.15h-347.6zM829.2 809.45h347.6v1.15h-347.6zM829.2 816.38h347.6v1.15h-347.6zM829.2 892.63h347.6v1.15h-347.6zM829.2 899.56h347.6v1.15h-347.6zM829.2 906.5h347.6v1.15h-347.6zM829.2 913.43h347.6v1.15h-347.6zM829.2 920.36h347.6v1.15h-347.6zM829.2 927.29h347.6v1.15h-347.6z"/>
<path fill="#fff" fill-opacity=".065" d="M912.05 588.2h1.15v346.6h-1.15zM960.71 588.2h1.15v346.6h-1.15zM1023.28 588.2h1.15v346.6h-1.15zM1071.94 588.2h1.15v346.6h-1.15zM829.2 670.81h347.6v1.15h-347.6zM829.2 719.33h347.6v1.15h-347.6zM829.2 767.86h347.6v1.15h-347.6zM829.2 823.31h347.6v1.15h-347.6z"/>
<linearGradient id="ge" x1="0" y1="0" x2="0" y2="1"><stop offset="0" stop-color="#ffff0d"/><stop offset="0.02" stop-color="#fcf00d"/><stop offset="0.04" stop-color="#fae20d"/><stop offset="0.06" stop-color="#f7d40d"/><stop offset="0.08" stop-color="#f5c70d"/><stop offset="0.1" stop-color="#f2bb0d"/><stop offset="0.12" stop-color="#f0af0d"/><stop offset="0.15" stop-color="#eda40d"/><stop offset="0.17" stop-color="#ea990d"/><stop offset="0.19" stop-color="#e78f0d"/><stop offset="0.21" stop-color="#e4850d"/><stop offset="0.23" stop-color="#e27c0d"/><stop offset="0.25" stop-color="#df730d"/><stop offset="0.27" stop-color="#dc6b0d"/><stop offset="0.29" stop-color="#d9630d"/><stop offset="0.31" stop-color="#d55c0d"/><stop offset="0.33" stop-color="#d2550d"/><stop offset="0.35" stop-color="#d04e0d"/><stop offset="0.38" stop-color="#cd480d"/><stop offset="0.4" stop-color="#c9420d"/><stop offset="0.42" stop-color="#c63d0d"/><stop offset="0.44" stop-color="#c2380d"/><stop offset="0.46" stop-color="#bf340d"/><stop offset="0.48" stop-color="#bc2f0d"/><stop offset="0.5" stop-color="#b82b0d"/><stop offset="0.52" stop-color="#b5272c"/><stop offset="0.54" stop-color="#b1244b"/><stop offset="0.56" stop-color="#ad216a"/><stop offset="0.58" stop-color="#aa1e86"/><stop offset="0.6" stop-color="#a51ca0"/><stop offset="0.62" stop-color="#a119b8"/><stop offset="0.65" stop-color="#9d17cd"/><stop offset="0.67" stop-color="#9815df"/><stop offset="0.69" stop-color="#9514ed"/><stop offset="0.71" stop-color="#9012f6"/><stop offset="0.73" stop-color="#8b12fd"/><stop offset="0.75" stop-color="#8611ff"/><stop offset="0.77" stop-color="#8110fd"/><stop offset="0.79" stop-color="#7b0ff6"/><stop offset="0.81" stop-color="#750fed"/><stop offset="0.83" stop-color="#700edf"/><stop offset="0.85" stop-color="#690ecd"/><stop offset="0.88" stop-color="#620db8"/><stop offset="0.9" stop-color="#5b0da0"/><stop offset="0.92" stop-color="#530d86"/><stop offset="0.94" stop-color="#4a0d6a"/><stop offset="0.96" stop-color="#3e0d4b"/><stop offset="0.98" stop-color="#300d2c"/><stop offset="1" stop-color="#0d0d0d"/></linearGradient>
<rect x="1186.6" y="588.2" width="17.8" height="346.6" fill="url(#ge)"/>
<path d="M872.65 934.8v-8.6M872.65 588.2v8.6M916.1 934.8v-8.6M916.1 588.2v8.6M959.55 934.8v-8.6M959.55 588.2v8.6M1003 934.8v-8.6M1003 588.2v8.6M1046.45 934.8v-8.6M1046.45 588.2v8.6M1089.9 934.8v-8.6M1089.9 588.2v8.6M1133.35 934.8v-8.6M1133.35 588.2v8.6M829.2 891.47h8.6M829.2 848.15h8.6M829.2 804.83h8.6M829.2 761.5h8.6M829.2 718.17h8.6M829.2 674.85h8.6M829.2 631.53h8.6M1186.6 896.29h5.7M1204.4 896.29h-5.7M1186.6 857.78h5.7M1204.4 857.78h-5.7M1186.6 819.27h5.7M1204.4 819.27h-5.7M1186.6 780.76h5.7M1204.4 780.76h-5.7M1186.6 742.24h5.7M1204.4 742.24h-5.7M1186.6 703.73h5.7M1204.4 703.73h-5.7M1186.6 665.22h5.7M1204.4 665.22h-5.7M1186.6 626.71h5.7M1204.4 626.71h-5.7" stroke="#000" stroke-width="1.6" fill="none"/>
<path fill="#000" d="M828.2 587.2H1177.8V589.2H828.2ZM828.2 933.8H1177.8V935.8H828.2ZM828.2 587.2H830.2V935.8H828.2ZM1175.8 587.2H1177.8V935.8H1175.8Z"/>
<path fill="#000" d="M1185.6 587.2H1205.4V589.2H1185.6ZM1185.6 933.8H1205.4V935.8H1185.6ZM1185.6 587.2H1187.6V935.8H1185.6ZM1203.4 587.2H1205.4V935.8H1203.4Z"/>
<g shape-rendering="crispEdges">
<path fill="#280324" d="M1827.87 788.69H1848.7V795.62H1827.87z"/>
<path fill="#300334" d="M1827.87 781.75H1848.7V788.69H1827.87zM1820.93 788.69H1827.87V795.62H1820.93zM1820.93 795.62H1848.7V802.55H1820.93z"/>
<path fill="#3c0354" d="M1820.93 781.75H1827.87V788.69H1820.93zM1827.87 802.55H1848.7V809.49H1827.87z"/>
<path fill="#420364" d="M1813.99 788.69H1820.93V795.62H1813.99zM1813.99 795.62H1820.93V802.55H1813.99z"/>
<path fill="#470373" d="M1834.82 809.49H1848.7V816.42H1834.82z"/>
<path fill="#4c0381" d="M1820.93 802.55H1827.87V809.49H1820.93z"/>
<path fill="#50038f" d="M1813.99 781.75H1820.93V788.69H1813.99zM1501.6 788.69H1508.54V795.62H1501.6zM1501.6 795.62H1508.54V802.55H1501.6zM1501.6 802.55H1508.54V809.49H1501.6z"/>
<path fill="#54039c" d="M1501.6 774.82H1508.54V781.75H1501.6zM1827.87 774.82H1848.7V781.75H1827.87zM1501.6 781.75H1508.54V788.69H1501.6zM1800.11 795.62H1807.05V802.55H1800.11zM1501.6 809.49H1508.54V816.42H1501.6zM1827.87 809.49H1834.82V816.42H1827.87zM1501.6 816.42H1508.54V823.36H1501.6zM1501.6 823.36H1508.54V830.29H1501.6z"/>
<path fill="#5803a9" d="M1501.6 767.88H1508.54V774.82H1501.6zM1800.11 802.55H1807.05V809.49H1800.11zM1501.6 830.29H1508.54V837.22H1501.6z"/>
<path fill="#5c03b5" d="M1807.05 795.62H1813.99V802.55H1807.05z"/>
<path fill="#6004c1" d="M1820.93 774.82H1827.87V781.75H1820.93zM1508.54 788.69H1515.48V795.62H1508.54zM1807.05 788.69H1813.99V795.62H1807.05zM1508.54 795.62H1515.48V802.55H1508.54zM1508.54 802.55H1515.48V809.49H1508.54zM1813.99 802.55H1820.93V809.49H1813.99z"/>
<path fill="#6304cb" d="M1508.54 781.75H1515.48V788.69H1508.54zM1800.11 788.69H1807.05V795.62H1800.11zM1508.54 809.49H1515.48V816.42H1508.54zM1820.93 809.49H1827.87V816.42H1820.93z"/>
<path fill="#6704d5" d="M1813.99 774.82H1820.93V781.75H1813.99zM1793.16 788.69H1800.11V795.62H1793.16zM1813.99 809.49H1820.93V816.42H1813.99zM1841.76 871.89H1848.7V878.83H1841.76zM1834.82 906.56H1848.7V913.5H1834.82z"/>
<path fill="#6a04dd" d="M1779.28 788.69H1793.16V795.62H1779.28zM1807.05 802.55H1813.99V809.49H1807.05zM1827.87 906.56H1834.82V913.5H1827.87z"/>
<path fill="#6d04e5" d="M1508.54 774.82H1515.48V781.75H1508.54zM1807.05 781.75H1813.99V788.69H1807.05zM1772.34 788.69H1779.28V795.62H1772.34zM1793.16 795.62H1800.11V802.55H1793.16zM1508.54 816.42H1515.48V823.36H1508.54zM1508.54 823.36H1515.48V830.29H1508.54z"/>
<path fill="#7005ec" d="M1508.54 767.88H1515.48V774.82H1508.54zM1515.48 781.75H1522.43V788.69H1515.48zM1515.48 788.69H1522.43V795.62H1515.48zM1515.48 795.62H1529.37V802.55H1515.48zM1515.48 802.55H1529.37V809.49H1515.48zM1515.48 809.49H1522.43V816.42H1515.48zM1827.87 816.42H1834.82V823.36H1827.87zM1841.76 816.42H1848.7V823.36H1841.76zM1508.54 830.29H1515.48V837.22H1508.54zM1501.6 837.22H1508.54V844.16H1501.6zM1834.82 871.89H1841.76V878.83H1834.82zM1834.82 899.63H1848.7V906.56H1834.82z"/>
<path fill="#7305f1" d="M1501.6 760.95H1508.54V767.88H1501.6zM1515.48 774.82H1522.43V781.75H1515.48zM1522.43 781.75H1529.37V788.69H1522.43zM1522.43 788.69H1529.37V795.62H1522.43zM1529.37 795.62H1536.31V802.55H1529.37zM1529.37 802.55H1536.31V809.49H1529.37zM1793.16 802.55H1800.11V809.49H1793.16zM1522.43 809.49H1529.37V816.42H1522.43zM1515.48 816.42H1522.43V823.36H1515.48zM1515.48 823.36H1522.43V830.29H1515.48zM1515.48 830.29H1522.43V837.22H1515.48zM1841.76 864.96H1848.7V871.89H1841.76zM1827.87 871.89H1834.82V878.83H1827.87zM1827.87 878.83H1848.7V885.76H1827.87zM1827.87 899.63H1834.82V906.56H1827.87zM1827.87 927.37H1848.7V934.3H1827.87z"/>
<path fill="#7605f6" d="M1501.6 733.21H1508.54V740.15H1501.6zM1501.6 740.15H1508.54V747.08H1501.6zM1501.6 754.02H1508.54V760.95H1501.6zM1515.48 767.88H1522.43V774.82H1515.48zM1529.37 809.49H1536.31V816.42H1529.37zM1807.05 809.49H1813.99V816.42H1807.05zM1501.6 844.16H1508.54V851.09H1501.6zM1813.99 927.37H1827.87V934.3H1813.99z"/>
<path fill="#7906fa" d="M1501.6 712.41H1508.54V719.35H1501.6zM1501.6 719.35H1508.54V726.28H1501.6zM1501.6 726.28H1508.54V733.21H1501.6zM1501.6 747.08H1508.54V754.02H1501.6zM1807.05 927.37H1813.99V934.3H1807.05z"/>
<path fill="#7c06fd" d="M1501.6 691.61H1508.54V698.54H1501.6zM1501.6 698.54H1508.54V705.48H1501.6zM1501.6 705.48H1508.54V712.41H1501.6zM1807.05 774.82H1813.99V781.75H1807.05zM1765.4 788.69H1772.34V795.62H1765.4zM1536.31 795.62H1543.25V802.55H1536.31zM1834.82 816.42H1841.76V823.36H1834.82z"/>
<path fill="#7f07fe" d="M1820.93 767.88H1848.7V774.82H1820.93zM1800.11 781.75H1807.05V788.69H1800.11zM1529.37 788.69H1536.31V795.62H1529.37zM1536.31 802.55H1543.25V809.49H1536.31zM1820.93 816.42H1827.87V823.36H1820.93zM1841.76 913.5H1848.7V920.43H1841.76zM1744.57 927.37H1807.05V934.3H1744.57z"/>
<path fill="#8207ff" d="M1508.54 760.95H1515.48V767.88H1508.54zM1813.99 767.88H1820.93V774.82H1813.99zM1522.43 774.82H1529.37V781.75H1522.43zM1529.37 781.75H1536.31V788.69H1529.37zM1772.34 781.75H1800.11V788.69H1772.34zM1536.31 788.69H1543.25V795.62H1536.31zM1543.25 795.62H1550.19V802.55H1543.25zM1786.22 795.62H1793.16V802.55H1786.22zM1543.25 802.55H1550.19V809.49H1543.25zM1536.31 809.49H1543.25V816.42H1536.31zM1522.43 816.42H1536.31V823.36H1522.43zM1813.99 816.42H1820.93V823.36H1813.99zM1522.43 823.36H1529.37V830.29H1522.43zM1508.54 837.22H1515.48V844.16H1508.54zM1841.76 858.03H1848.7V864.96H1841.76zM1827.87 864.96H1841.76V871.89H1827.87zM1827.87 885.76H1848.7V892.7H1827.87zM1827.87 892.7H1848.7V899.63H1827.87zM1820.93 899.63H1827.87V906.56H1820.93zM1834.82 913.5H1841.76V920.43H1834.82zM1834.82 920.43H1848.7V927.37H1834.82zM1737.63 927.37H1744.57V934.3H1737.63z"/>
<path fill="#8408fe" d="M1779.28 587.6H1848.7V594.53H1779.28zM1772.34 594.53H1848.7V601.47H1772.34zM1772.34 601.47H1848.7V608.4H1772.34zM1772.34 608.4H1848.7V615.34H1772.34zM1772.34 615.34H1848.7V622.27H1772.34zM1772.34 622.27H1848.7V629.2H1772.34zM1772.34 629.2H1848.7V636.14H1772.34zM1765.4 636.14H1848.7V643.07H1765.4zM1765.4 643.07H1848.7V650.01H1765.4zM1786.22 650.01H1848.7V656.94H1786.22zM1800.11 656.94H1848.7V663.87H1800.11zM1807.05 663.87H1848.7V670.81H1807.05zM1807.05 670.81H1848.7V677.74H1807.05zM1813.99 677.74H1848.7V684.68H1813.99zM1813.99 684.68H1841.76V691.61H1813.99zM1834.82 733.21H1848.7V740.15H1834.82zM1834.82 740.15H1848.7V747.08H1834.82zM1827.87 747.08H1848.7V754.02H1827.87zM1827.87 754.02H1848.7V760.95H1827.87zM1820.93 760.95H1848.7V767.88H1820.93zM1522.43 767.88H1529.37V774.82H1522.43zM1807.05 767.88H1813.99V774.82H1807.05zM1529.37 774.82H1536.31V781.75H1529.37zM1779.28 774.82H1807.05V781.75H1779.28zM1536.31 781.75H1543.25V788.69H1536.31zM1543.25 788.69H1564.08V795.62H1543.25zM1550.19 795.62H1571.02V802.55H1550.19zM1550.19 802.55H1591.85V809.49H1550.19zM1543.25 809.49H1591.85V816.42H1543.25zM1800.11 809.49H1807.05V816.42H1800.11zM1536.31 816.42H1550.19V823.36H1536.31zM1529.37 823.36H1536.31V830.29H1529.37zM1827.87 823.36H1848.7V830.29H1827.87zM1522.43 830.29H1529.37V837.22H1522.43zM1515.48 837.22H1522.43V844.16H1515.48zM1508.54 844.16H1515.48V851.09H1508.54zM1501.6 851.09H1508.54V858.03H1501.6zM1834.82 851.09H1841.76V858.03H1834.82zM1827.87 858.03H1841.76V864.96H1827.87zM1820.93 864.96H1827.87V871.89H1820.93zM1820.93 871.89H1827.87V878.83H1820.93zM1820.93 878.83H1827.87V885.76H1820.93zM1820.93 885.76H1827.87V892.7H1820.93zM1813.99 892.7H1827.87V899.63H1813.99zM1813.99 899.63H1820.93V906.56H1813.99zM1820.93 906.56H1827.87V913.5H1820.93zM1827.87 913.5H1834.82V920.43H1827.87zM1827.87 920.43H1834.82V927.37H1827.87zM1557.14 927.37H1605.73V934.3H1557.14z"/>
<path fill="#8608fd" d="M1772.34 587.6H1779.28V594.53H1772.34zM1765.4 601.47H1772.34V608.4H1765.4zM1765.4 608.4H1772.34V615.34H1765.4zM1765.4 615.34H1772.34V622.27H1765.4zM1765.4 622.27H1772.34V629.2H1765.4zM1765.4 629.2H1772.34V636.14H1765.4zM1758.45 643.07H1765.4V650.01H1758.45zM1758.45 650.01H1786.22V656.94H1758.45zM1793.16 656.94H1800.11V663.87H1793.16zM1800.11 663.87H1807.05V670.81H1800.11zM1807.05 677.74H1813.99V684.68H1807.05zM1841.76 684.68H1848.7V691.61H1841.76zM1813.99 726.28H1848.7V733.21H1813.99zM1827.87 740.15H1834.82V747.08H1827.87zM1522.43 747.08H1529.37V754.02H1522.43zM1522.43 754.02H1529.37V760.95H1522.43zM1813.99 760.95H1820.93V767.88H1813.99zM1765.4 774.82H1779.28V781.75H1765.4zM1543.25 781.75H1557.14V788.69H1543.25zM1571.02 795.62H1584.9V802.55H1571.02zM1591.85 802.55H1605.73V809.49H1591.85zM1786.22 802.55H1793.16V809.49H1786.22zM1591.85 809.49H1605.73V816.42H1591.85zM1550.19 816.42H1584.9V823.36H1550.19zM1536.31 823.36H1543.25V830.29H1536.31zM1820.93 823.36H1827.87V830.29H1820.93zM1827.87 851.09H1834.82V858.03H1827.87zM1841.76 851.09H1848.7V858.03H1841.76zM1820.93 858.03H1827.87V864.96H1820.93zM1807.05 892.7H1813.99V899.63H1807.05zM1807.05 899.63H1813.99V906.56H1807.05zM1813.99 906.56H1820.93V913.5H1813.99zM1557.14 920.43H1605.73V927.37H1557.14zM1550.19 927.37H1557.14V934.3H1550.19zM1605.73 927.37H1612.67V934.3H1605.73zM1730.69 927.37H1737.63V934.3H1730.69z"/>
<path fill="#8809fa" d="M1765.4 594.53H1772.34V601.47H1765.4zM1758.45 636.14H1765.4V643.07H1758.45zM1751.51 643.07H1758.45V650.01H1751.51zM1751.51 650.01H1758.45V656.94H1751.51zM1786.22 656.94H1793.16V663.87H1786.22zM1501.6 663.87H1508.54V670.81H1501.6zM1501.6 670.81H1508.54V677.74H1501.6zM1800.11 670.81H1807.05V677.74H1800.11zM1501.6 677.74H1508.54V684.68H1501.6zM1501.6 684.68H1508.54V691.61H1501.6zM1807.05 684.68H1813.99V691.61H1807.05zM1529.37 747.08H1536.31V754.02H1529.37zM1529.37 754.02H1536.31V760.95H1529.37zM1800.11 767.88H1807.05V774.82H1800.11zM1536.31 774.82H1543.25V781.75H1536.31zM1557.14 781.75H1564.08V788.69H1557.14zM1564.08 788.69H1571.02V795.62H1564.08zM1584.9 795.62H1591.85V802.55H1584.9zM1584.9 816.42H1591.85V823.36H1584.9zM1543.25 823.36H1550.19V830.29H1543.25zM1612.67 823.36H1619.61V830.29H1612.67zM1501.6 858.03H1508.54V864.96H1501.6zM1501.6 864.96H1508.54V871.89H1501.6zM1786.22 892.7H1807.05V899.63H1786.22zM1779.28 899.63H1807.05V906.56H1779.28zM1661.27 906.56H1675.15V913.5H1661.27zM1550.19 920.43H1557.14V927.37H1550.19zM1605.73 920.43H1612.67V927.37H1605.73zM1543.25 927.37H1550.19V934.3H1543.25zM1612.67 927.37H1730.69V934.3H1612.67z"/>
<path fill="#8b09f6" d="M1765.4 587.6H1772.34V594.53H1765.4zM1501.6 594.53H1508.54V601.47H1501.6zM1501.6 601.47H1508.54V608.4H1501.6zM1501.6 608.4H1508.54V615.34H1501.6zM1501.6 615.34H1508.54V622.27H1501.6zM1501.6 622.27H1508.54V629.2H1501.6zM1501.6 629.2H1508.54V636.14H1501.6zM1758.45 629.2H1765.4V636.14H1758.45zM1501.6 643.07H1508.54V650.01H1501.6zM1501.6 650.01H1508.54V656.94H1501.6zM1744.57 650.01H1751.51V656.94H1744.57zM1501.6 656.94H1508.54V663.87H1501.6zM1779.28 656.94H1786.22V663.87H1779.28zM1793.16 663.87H1800.11V670.81H1793.16zM1800.11 677.74H1807.05V684.68H1800.11zM1793.16 767.88H1800.11V774.82H1793.16zM1765.4 781.75H1772.34V788.69H1765.4zM1571.02 788.69H1577.96V795.62H1571.02zM1744.57 788.69H1765.4V795.62H1744.57zM1765.4 809.49H1779.28V816.42H1765.4zM1807.05 816.42H1813.99V823.36H1807.05zM1550.19 823.36H1557.14V830.29H1550.19zM1501.6 871.89H1508.54V878.83H1501.6zM1501.6 878.83H1508.54V885.76H1501.6zM1501.6 885.76H1508.54V892.7H1501.6zM1501.6 892.7H1508.54V899.63H1501.6zM1779.28 892.7H1786.22V899.63H1779.28zM1501.6 899.63H1508.54V906.56H1501.6zM1661.27 899.63H1675.15V906.56H1661.27zM1772.34 899.63H1779.28V906.56H1772.34zM1501.6 920.43H1508.54V927.37H1501.6zM1612.67 920.43H1619.61V927.37H1612.67zM1501.6 927.37H1508.54V934.3H1501.6z"/>
<path fill="#8d0af1" d="M1501.6 587.6H1508.54V594.53H1501.6zM1758.45 587.6H1765.4V594.53H1758.45zM1758.45 594.53H1765.4V601.47H1758.45zM1758.45 601.47H1765.4V608.4H1758.45zM1758.45 608.4H1765.4V615.34H1758.45zM1758.45 615.34H1765.4V622.27H1758.45zM1758.45 622.27H1765.4V629.2H1758.45zM1501.6 636.14H1508.54V643.07H1501.6zM1751.51 636.14H1758.45V643.07H1751.51zM1744.57 643.07H1751.51V650.01H1744.57zM1772.34 656.94H1779.28V663.87H1772.34zM1786.22 663.87H1793.16V670.81H1786.22zM1793.16 670.81H1800.11V677.74H1793.16zM1800.11 684.68H1807.05V691.61H1800.11zM1508.54 733.21H1515.48V740.15H1508.54zM1827.87 733.21H1834.82V740.15H1827.87zM1508.54 740.15H1515.48V747.08H1508.54zM1820.93 754.02H1827.87V760.95H1820.93zM1515.48 760.95H1529.37V767.88H1515.48zM1800.11 760.95H1813.99V767.88H1800.11zM1529.37 767.88H1536.31V774.82H1529.37zM1772.34 767.88H1793.16V774.82H1772.34zM1543.25 774.82H1550.19V781.75H1543.25zM1758.45 781.75H1765.4V788.69H1758.45zM1577.96 788.69H1584.9V795.62H1577.96zM1737.63 788.69H1744.57V795.62H1737.63zM1591.85 795.62H1598.79V802.55H1591.85zM1779.28 795.62H1786.22V802.55H1779.28zM1723.74 809.49H1765.4V816.42H1723.74zM1591.85 816.42H1598.79V823.36H1591.85zM1557.14 823.36H1584.9V830.29H1557.14zM1529.37 830.29H1550.19V837.22H1529.37zM1522.43 837.22H1529.37V844.16H1522.43zM1813.99 885.76H1820.93V892.7H1813.99zM1654.32 899.63H1661.27V906.56H1654.32zM1744.57 899.63H1772.34V906.56H1744.57zM1501.6 906.56H1508.54V913.5H1501.6zM1654.32 906.56H1661.27V913.5H1654.32zM1675.15 906.56H1682.09V913.5H1675.15zM1501.6 913.5H1508.54V920.43H1501.6zM1550.19 913.5H1612.67V920.43H1550.19zM1661.27 913.5H1675.15V920.43H1661.27zM1543.25 920.43H1550.19V927.37H1543.25zM1619.61 920.43H1702.92V927.37H1619.61zM1779.28 920.43H1827.87V927.37H1779.28zM1536.31 927.37H1543.25V934.3H1536.31z"/>
<path fill="#900bec" d="M1744.57 587.6H1758.45V594.53H1744.57zM1744.57 594.53H1758.45V601.47H1744.57zM1744.57 601.47H1758.45V608.4H1744.57zM1744.57 608.4H1758.45V615.34H1744.57zM1744.57 615.34H1758.45V622.27H1744.57zM1744.57 622.27H1758.45V629.2H1744.57zM1751.51 629.2H1758.45V636.14H1751.51zM1744.57 636.14H1751.51V643.07H1744.57zM1716.8 650.01H1744.57V656.94H1716.8zM1744.57 656.94H1772.34V663.87H1744.57zM1779.28 663.87H1786.22V670.81H1779.28zM1779.28 670.81H1793.16V677.74H1779.28zM1793.16 677.74H1800.11V684.68H1793.16zM1807.05 691.61H1848.7V698.54H1807.05zM1827.87 698.54H1848.7V705.48H1827.87zM1834.82 705.48H1848.7V712.41H1834.82zM1827.87 712.41H1848.7V719.35H1827.87zM1813.99 719.35H1848.7V726.28H1813.99zM1786.22 726.28H1813.99V733.21H1786.22zM1786.22 733.21H1820.93V740.15H1786.22zM1515.48 740.15H1529.37V747.08H1515.48zM1800.11 740.15H1827.87V747.08H1800.11zM1515.48 747.08H1522.43V754.02H1515.48zM1807.05 747.08H1827.87V754.02H1807.05zM1515.48 754.02H1522.43V760.95H1515.48zM1807.05 754.02H1820.93V760.95H1807.05zM1529.37 760.95H1536.31V767.88H1529.37zM1793.16 760.95H1800.11V767.88H1793.16zM1536.31 767.88H1543.25V774.82H1536.31zM1550.19 774.82H1557.14V781.75H1550.19zM1758.45 774.82H1765.4V781.75H1758.45zM1564.08 781.75H1571.02V788.69H1564.08zM1737.63 781.75H1758.45V788.69H1737.63zM1584.9 788.69H1591.85V795.62H1584.9zM1598.79 795.62H1605.73V802.55H1598.79zM1716.8 809.49H1723.74V816.42H1716.8zM1793.16 809.49H1800.11V816.42H1793.16zM1598.79 816.42H1612.67V823.36H1598.79zM1709.86 816.42H1779.28V823.36H1709.86zM1584.9 823.36H1591.85V830.29H1584.9zM1605.73 823.36H1612.67V830.29H1605.73zM1619.61 823.36H1633.5V830.29H1619.61zM1813.99 823.36H1820.93V830.29H1813.99zM1550.19 830.29H1584.9V837.22H1550.19zM1820.93 830.29H1848.7V837.22H1820.93zM1529.37 837.22H1536.31V844.16H1529.37zM1515.48 844.16H1522.43V851.09H1515.48zM1827.87 844.16H1848.7V851.09H1827.87zM1508.54 851.09H1515.48V858.03H1508.54zM1813.99 851.09H1827.87V858.03H1813.99zM1813.99 858.03H1820.93V864.96H1813.99zM1813.99 864.96H1820.93V871.89H1813.99zM1813.99 871.89H1820.93V878.83H1813.99zM1813.99 878.83H1820.93V885.76H1813.99zM1807.05 885.76H1813.99V892.7H1807.05zM1577.96 892.7H1612.67V899.63H1577.96zM1765.4 892.7H1779.28V899.63H1765.4zM1564.08 899.63H1654.32V906.56H1564.08zM1675.15 899.63H1682.09V906.56H1675.15zM1737.63 899.63H1744.57V906.56H1737.63zM1550.19 906.56H1654.32V913.5H1550.19zM1682.09 906.56H1695.98V913.5H1682.09zM1786.22 906.56H1813.99V913.5H1786.22zM1543.25 913.5H1550.19V920.43H1543.25zM1612.67 913.5H1661.27V920.43H1612.67zM1675.15 913.5H1702.92V920.43H1675.15zM1536.31 920.43H1543.25V927.37H1536.31zM1702.92 920.43H1779.28V927.37H1702.92zM1529.37 927.37H1536.31V934.3H1529.37z"/>
<path fill="#920ce5" d="M1737.63 587.6H1744.57V594.53H1737.63zM1737.63 594.53H1744.57V601.47H1737.63zM1737.63 601.47H1744.57V608.4H1737.63zM1737.63 608.4H1744.57V615.34H1737.63zM1737.63 615.34H1744.57V622.27H1737.63zM1744.57 629.2H1751.51V636.14H1744.57zM1709.86 643.07H1744.57V650.01H1709.86zM1709.86 650.01H1716.8V656.94H1709.86zM1716.8 656.94H1744.57V663.87H1716.8zM1772.34 663.87H1779.28V670.81H1772.34zM1772.34 670.81H1779.28V677.74H1772.34zM1779.28 677.74H1793.16V684.68H1779.28zM1793.16 684.68H1800.11V691.61H1793.16zM1800.11 691.61H1807.05V698.54H1800.11zM1827.87 705.48H1834.82V712.41H1827.87zM1793.16 719.35H1813.99V726.28H1793.16zM1779.28 726.28H1786.22V733.21H1779.28zM1515.48 733.21H1522.43V740.15H1515.48zM1779.28 733.21H1786.22V740.15H1779.28zM1793.16 740.15H1800.11V747.08H1793.16zM1536.31 747.08H1543.25V754.02H1536.31zM1800.11 747.08H1807.05V754.02H1800.11zM1536.31 754.02H1543.25V760.95H1536.31zM1800.11 754.02H1807.05V760.95H1800.11zM1779.28 760.95H1793.16V767.88H1779.28zM1765.4 767.88H1772.34V774.82H1765.4zM1557.14 774.82H1564.08V781.75H1557.14zM1744.57 774.82H1758.45V781.75H1744.57zM1571.02 781.75H1584.9V788.69H1571.02zM1591.85 788.69H1598.79V795.62H1591.85zM1702.92 788.69H1709.86V795.62H1702.92zM1716.8 788.69H1723.74V795.62H1716.8zM1695.98 816.42H1709.86V823.36H1695.98zM1591.85 823.36H1605.73V830.29H1591.85zM1633.5 823.36H1654.32V830.29H1633.5zM1675.15 823.36H1689.03V830.29H1675.15zM1772.34 823.36H1779.28V830.29H1772.34zM1800.11 823.36H1813.99V830.29H1800.11zM1584.9 830.29H1591.85V837.22H1584.9zM1612.67 830.29H1626.56V837.22H1612.67zM1813.99 830.29H1820.93V837.22H1813.99zM1536.31 837.22H1557.14V844.16H1536.31zM1522.43 844.16H1529.37V851.09H1522.43zM1515.48 851.09H1522.43V858.03H1515.48zM1807.05 851.09H1813.99V858.03H1807.05zM1807.05 858.03H1813.99V864.96H1807.05zM1800.11 885.76H1807.05V892.7H1800.11zM1564.08 892.7H1577.96V899.63H1564.08zM1612.67 892.7H1675.15V899.63H1612.67zM1744.57 892.7H1765.4V899.63H1744.57zM1550.19 899.63H1564.08V906.56H1550.19zM1682.09 899.63H1702.92V906.56H1682.09zM1543.25 906.56H1550.19V913.5H1543.25zM1695.98 906.56H1709.86V913.5H1695.98zM1779.28 906.56H1786.22V913.5H1779.28zM1536.31 913.5H1543.25V920.43H1536.31zM1529.37 920.43H1536.31V927.37H1529.37zM1522.43 927.37H1529.37V934.3H1522.43z"/>
<path fill="#940cdd" d="M1737.63 622.27H1744.57V629.2H1737.63zM1702.92 643.07H1709.86V650.01H1702.92zM1702.92 650.01H1709.86V656.94H1702.92zM1709.86 656.94H1716.8V663.87H1709.86zM1772.34 677.74H1779.28V684.68H1772.34zM1793.16 691.61H1800.11V698.54H1793.16zM1786.22 719.35H1793.16V726.28H1786.22zM1772.34 726.28H1779.28V733.21H1772.34zM1772.34 733.21H1779.28V740.15H1772.34zM1536.31 740.15H1543.25V747.08H1536.31zM1786.22 740.15H1793.16V747.08H1786.22zM1508.54 754.02H1515.48V760.95H1508.54zM1772.34 760.95H1779.28V767.88H1772.34zM1584.9 781.75H1591.85V788.69H1584.9zM1605.73 802.55H1612.67V809.49H1605.73zM1605.73 809.49H1612.67V816.42H1605.73zM1779.28 809.49H1786.22V816.42H1779.28zM1612.67 816.42H1626.56V823.36H1612.67zM1675.15 816.42H1689.03V823.36H1675.15zM1779.28 823.36H1800.11V830.29H1779.28zM1557.14 837.22H1584.9V844.16H1557.14zM1543.25 864.96H1557.14V871.89H1543.25zM1543.25 871.89H1557.14V878.83H1543.25zM1571.02 885.76H1612.67V892.7H1571.02zM1793.16 885.76H1800.11V892.7H1793.16zM1737.63 892.7H1744.57V899.63H1737.63zM1543.25 899.63H1550.19V906.56H1543.25zM1702.92 899.63H1737.63V906.56H1702.92zM1536.31 906.56H1543.25V913.5H1536.31zM1772.34 906.56H1779.28V913.5H1772.34zM1702.92 913.5H1709.86V920.43H1702.92zM1793.16 913.5H1807.05V920.43H1793.16z"/>
<path fill="#970dd5" d="M1709.86 587.6H1716.8V594.53H1709.86zM1737.63 629.2H1744.57V636.14H1737.63zM1737.63 636.14H1744.57V643.07H1737.63zM1758.45 663.87H1772.34V670.81H1758.45zM1786.22 684.68H1793.16V691.61H1786.22zM1779.28 719.35H1786.22V726.28H1779.28zM1508.54 726.28H1515.48V733.21H1508.54zM1716.8 726.28H1730.69V733.21H1716.8zM1820.93 733.21H1827.87V740.15H1820.93zM1529.37 740.15H1536.31V747.08H1529.37zM1543.25 740.15H1550.19V747.08H1543.25zM1584.9 740.15H1598.79V747.08H1584.9zM1779.28 740.15H1786.22V747.08H1779.28zM1508.54 747.08H1515.48V754.02H1508.54zM1793.16 747.08H1800.11V754.02H1793.16zM1709.86 754.02H1723.74V760.95H1709.86zM1793.16 754.02H1800.11V760.95H1793.16zM1536.31 760.95H1543.25V767.88H1536.31zM1543.25 767.88H1550.19V774.82H1543.25zM1564.08 774.82H1571.02V781.75H1564.08zM1591.85 781.75H1598.79V788.69H1591.85zM1709.86 788.69H1716.8V795.62H1709.86zM1709.86 809.49H1716.8V816.42H1709.86zM1626.56 816.42H1675.15V823.36H1626.56zM1591.85 830.29H1598.79V837.22H1591.85zM1605.73 830.29H1612.67V837.22H1605.73zM1626.56 830.29H1633.5V837.22H1626.56zM1612.67 885.76H1619.61V892.7H1612.67zM1786.22 885.76H1793.16V892.7H1786.22zM1557.14 892.7H1564.08V899.63H1557.14zM1709.86 906.56H1716.8V913.5H1709.86zM1765.4 906.56H1772.34V913.5H1765.4zM1709.86 913.5H1730.69V920.43H1709.86zM1786.22 913.5H1793.16V920.43H1786.22zM1807.05 913.5H1813.99V920.43H1807.05zM1820.93 913.5H1827.87V920.43H1820.93z"/>
<path fill="#990ecb" d="M1702.92 587.6H1709.86V594.53H1702.92zM1716.8 587.6H1723.74V594.53H1716.8zM1730.69 587.6H1737.63V594.53H1730.69zM1709.86 594.53H1716.8V601.47H1709.86zM1730.69 594.53H1737.63V601.47H1730.69zM1730.69 601.47H1737.63V608.4H1730.69zM1661.27 608.4H1675.15V615.34H1661.27zM1730.69 608.4H1737.63V615.34H1730.69zM1668.21 615.34H1675.15V622.27H1668.21zM1730.69 615.34H1737.63V622.27H1730.69zM1702.92 636.14H1737.63V643.07H1702.92zM1723.74 663.87H1758.45V670.81H1723.74zM1508.54 670.81H1515.48V677.74H1508.54zM1765.4 670.81H1772.34V677.74H1765.4zM1765.4 677.74H1772.34V684.68H1765.4zM1772.34 684.68H1786.22V691.61H1772.34zM1786.22 691.61H1793.16V698.54H1786.22zM1793.16 698.54H1827.87V705.48H1793.16zM1820.93 705.48H1827.87V712.41H1820.93zM1779.28 712.41H1827.87V719.35H1779.28zM1508.54 719.35H1515.48V726.28H1508.54zM1772.34 719.35H1779.28V726.28H1772.34zM1515.48 726.28H1522.43V733.21H1515.48zM1730.69 726.28H1737.63V733.21H1730.69zM1765.4 726.28H1772.34V733.21H1765.4zM1522.43 733.21H1550.19V740.15H1522.43zM1723.74 733.21H1730.69V740.15H1723.74zM1765.4 733.21H1772.34V740.15H1765.4zM1772.34 740.15H1779.28V747.08H1772.34zM1584.9 747.08H1598.79V754.02H1584.9zM1716.8 747.08H1723.74V754.02H1716.8zM1779.28 747.08H1793.16V754.02H1779.28zM1723.74 754.02H1730.69V760.95H1723.74zM1772.34 754.02H1793.16V760.95H1772.34zM1709.86 760.95H1723.74V767.88H1709.86zM1765.4 760.95H1772.34V767.88H1765.4zM1550.19 767.88H1557.14V774.82H1550.19zM1758.45 767.88H1765.4V774.82H1758.45zM1571.02 774.82H1591.85V781.75H1571.02zM1737.63 774.82H1744.57V781.75H1737.63zM1709.86 781.75H1723.74V788.69H1709.86zM1730.69 781.75H1737.63V788.69H1730.69zM1598.79 788.69H1605.73V795.62H1598.79zM1779.28 802.55H1786.22V809.49H1779.28zM1702.92 809.49H1709.86V816.42H1702.92zM1800.11 816.42H1807.05V823.36H1800.11zM1654.32 823.36H1675.15V830.29H1654.32zM1689.03 823.36H1772.34V830.29H1689.03zM1598.79 830.29H1605.73V837.22H1598.79zM1633.5 830.29H1661.27V837.22H1633.5zM1682.09 830.29H1689.03V837.22H1682.09zM1772.34 830.29H1786.22V837.22H1772.34zM1800.11 830.29H1813.99V837.22H1800.11zM1584.9 837.22H1591.85V844.16H1584.9zM1605.73 837.22H1633.5V844.16H1605.73zM1813.99 837.22H1848.7V844.16H1813.99zM1529.37 844.16H1564.08V851.09H1529.37zM1807.05 844.16H1827.87V851.09H1807.05zM1522.43 851.09H1529.37V858.03H1522.43zM1800.11 851.09H1807.05V858.03H1800.11zM1508.54 858.03H1515.48V864.96H1508.54zM1543.25 858.03H1557.14V864.96H1543.25zM1536.31 864.96H1543.25V871.89H1536.31zM1557.14 864.96H1564.08V871.89H1557.14zM1807.05 864.96H1813.99V871.89H1807.05zM1536.31 871.89H1543.25V878.83H1536.31zM1557.14 871.89H1564.08V878.83H1557.14zM1571.02 878.83H1577.96V885.76H1571.02zM1564.08 885.76H1571.02V892.7H1564.08zM1619.61 885.76H1640.44V892.7H1619.61zM1550.19 892.7H1557.14V899.63H1550.19zM1675.15 892.7H1682.09V899.63H1675.15zM1730.69 892.7H1737.63V899.63H1730.69zM1536.31 899.63H1543.25V906.56H1536.31zM1716.8 906.56H1765.4V913.5H1716.8zM1529.37 913.5H1536.31V920.43H1529.37zM1730.69 913.5H1737.63V920.43H1730.69zM1779.28 913.5H1786.22V920.43H1779.28zM1813.99 913.5H1820.93V920.43H1813.99zM1522.43 920.43H1529.37V927.37H1522.43z"/>
<path fill="#9b0fc1" d="M1668.21 587.6H1702.92V594.53H1668.21zM1723.74 587.6H1730.69V594.53H1723.74zM1668.21 594.53H1709.86V601.47H1668.21zM1716.8 594.53H1730.69V601.47H1716.8zM1661.27 601.47H1682.09V608.4H1661.27zM1695.98 601.47H1730.69V608.4H1695.98zM1654.32 608.4H1661.27V615.34H1654.32zM1702.92 608.4H1730.69V615.34H1702.92zM1661.27 615.34H1668.21V622.27H1661.27zM1702.92 615.34H1730.69V622.27H1702.92zM1695.98 622.27H1716.8V629.2H1695.98zM1730.69 622.27H1737.63V629.2H1730.69zM1695.98 629.2H1723.74V636.14H1695.98zM1730.69 629.2H1737.63V636.14H1730.69zM1695.98 636.14H1702.92V643.07H1695.98zM1695.98 643.07H1702.92V650.01H1695.98zM1702.92 656.94H1709.86V663.87H1702.92zM1716.8 663.87H1723.74V670.81H1716.8zM1515.48 670.81H1522.43V677.74H1515.48zM1737.63 670.81H1765.4V677.74H1737.63zM1751.51 677.74H1765.4V684.68H1751.51zM1758.45 684.68H1772.34V691.61H1758.45zM1529.37 691.61H1536.31V698.54H1529.37zM1758.45 691.61H1786.22V698.54H1758.45zM1522.43 698.54H1529.37V705.48H1522.43zM1758.45 698.54H1793.16V705.48H1758.45zM1751.51 705.48H1820.93V712.41H1751.51zM1522.43 712.41H1536.31V719.35H1522.43zM1751.51 712.41H1779.28V719.35H1751.51zM1515.48 719.35H1557.14V726.28H1515.48zM1723.74 719.35H1730.69V726.28H1723.74zM1744.57 719.35H1772.34V726.28H1744.57zM1522.43 726.28H1557.14V733.21H1522.43zM1737.63 726.28H1765.4V733.21H1737.63zM1550.19 733.21H1557.14V740.15H1550.19zM1584.9 733.21H1591.85V740.15H1584.9zM1716.8 733.21H1723.74V740.15H1716.8zM1730.69 733.21H1765.4V740.15H1730.69zM1723.74 740.15H1772.34V747.08H1723.74zM1543.25 747.08H1550.19V754.02H1543.25zM1577.96 747.08H1584.9V754.02H1577.96zM1709.86 747.08H1716.8V754.02H1709.86zM1723.74 747.08H1779.28V754.02H1723.74zM1577.96 754.02H1598.79V760.95H1577.96zM1702.92 754.02H1709.86V760.95H1702.92zM1730.69 754.02H1744.57V760.95H1730.69zM1765.4 754.02H1772.34V760.95H1765.4zM1543.25 760.95H1550.19V767.88H1543.25zM1577.96 760.95H1598.79V767.88H1577.96zM1702.92 760.95H1709.86V767.88H1702.92zM1723.74 760.95H1744.57V767.88H1723.74zM1557.14 767.88H1612.67V774.82H1557.14zM1716.8 767.88H1758.45V774.82H1716.8zM1591.85 774.82H1640.44V781.75H1591.85zM1682.09 774.82H1689.03V781.75H1682.09zM1709.86 774.82H1737.63V781.75H1709.86zM1598.79 781.75H1647.38V788.69H1598.79zM1675.15 781.75H1709.86V788.69H1675.15zM1723.74 781.75H1730.69V788.69H1723.74zM1605.73 788.69H1633.5V795.62H1605.73zM1605.73 795.62H1612.67V802.55H1605.73zM1786.22 809.49H1793.16V816.42H1786.22zM1689.03 816.42H1695.98V823.36H1689.03zM1661.27 830.29H1682.09V837.22H1661.27zM1689.03 830.29H1695.98V837.22H1689.03zM1702.92 830.29H1772.34V837.22H1702.92zM1786.22 830.29H1800.11V837.22H1786.22zM1591.85 837.22H1605.73V844.16H1591.85zM1633.5 837.22H1661.27V844.16H1633.5zM1772.34 837.22H1786.22V844.16H1772.34zM1800.11 837.22H1813.99V844.16H1800.11zM1577.96 844.16H1591.85V851.09H1577.96zM1605.73 844.16H1661.27V851.09H1605.73zM1779.28 844.16H1786.22V851.09H1779.28zM1800.11 844.16H1807.05V851.09H1800.11zM1529.37 851.09H1564.08V858.03H1529.37zM1793.16 851.09H1800.11V858.03H1793.16zM1515.48 858.03H1522.43V864.96H1515.48zM1536.31 858.03H1543.25V864.96H1536.31zM1557.14 858.03H1564.08V864.96H1557.14zM1800.11 858.03H1807.05V864.96H1800.11zM1564.08 864.96H1571.02V871.89H1564.08zM1564.08 871.89H1571.02V878.83H1564.08zM1543.25 878.83H1571.02V885.76H1543.25zM1577.96 878.83H1584.9V885.76H1577.96zM1605.73 878.83H1626.56V885.76H1605.73zM1557.14 885.76H1564.08V892.7H1557.14zM1640.44 885.76H1654.32V892.7H1640.44zM1779.28 885.76H1786.22V892.7H1779.28zM1543.25 892.7H1550.19V899.63H1543.25zM1682.09 892.7H1730.69V899.63H1682.09zM1529.37 906.56H1536.31V913.5H1529.37zM1522.43 913.5H1529.37V920.43H1522.43zM1737.63 913.5H1744.57V920.43H1737.63zM1765.4 913.5H1779.28V920.43H1765.4zM1515.48 927.37H1522.43V934.3H1515.48z"/>
<path fill="#9d10b5" d="M1661.27 587.6H1668.21V594.53H1661.27zM1647.38 601.47H1661.27V608.4H1647.38zM1682.09 601.47H1695.98V608.4H1682.09zM1647.38 608.4H1654.32V615.34H1647.38zM1695.98 608.4H1702.92V615.34H1695.98zM1654.32 615.34H1661.27V622.27H1654.32zM1695.98 615.34H1702.92V622.27H1695.98zM1689.03 622.27H1695.98V629.2H1689.03zM1716.8 622.27H1723.74V629.2H1716.8zM1689.03 629.2H1695.98V636.14H1689.03zM1695.98 650.01H1702.92V656.94H1695.98zM1709.86 663.87H1716.8V670.81H1709.86zM1522.43 670.81H1529.37V677.74H1522.43zM1730.69 670.81H1737.63V677.74H1730.69zM1515.48 677.74H1529.37V684.68H1515.48zM1744.57 677.74H1751.51V684.68H1744.57zM1529.37 684.68H1536.31V691.61H1529.37zM1751.51 684.68H1758.45V691.61H1751.51zM1522.43 691.61H1529.37V698.54H1522.43zM1529.37 698.54H1536.31V705.48H1529.37zM1751.51 698.54H1758.45V705.48H1751.51zM1522.43 705.48H1529.37V712.41H1522.43zM1536.31 712.41H1550.19V719.35H1536.31zM1744.57 712.41H1751.51V719.35H1744.57zM1716.8 719.35H1723.74V726.28H1716.8zM1730.69 719.35H1744.57V726.28H1730.69zM1709.86 726.28H1716.8V733.21H1709.86zM1591.85 733.21H1598.79V740.15H1591.85zM1550.19 740.15H1557.14V747.08H1550.19zM1577.96 740.15H1584.9V747.08H1577.96zM1598.79 740.15H1605.73V747.08H1598.79zM1716.8 740.15H1723.74V747.08H1716.8zM1598.79 747.08H1605.73V754.02H1598.79zM1702.92 747.08H1709.86V754.02H1702.92zM1543.25 754.02H1550.19V760.95H1543.25zM1571.02 754.02H1577.96V760.95H1571.02zM1598.79 754.02H1605.73V760.95H1598.79zM1695.98 754.02H1702.92V760.95H1695.98zM1744.57 754.02H1765.4V760.95H1744.57zM1571.02 760.95H1577.96V767.88H1571.02zM1605.73 760.95H1612.67V767.88H1605.73zM1695.98 760.95H1702.92V767.88H1695.98zM1758.45 760.95H1765.4V767.88H1758.45zM1612.67 767.88H1619.61V774.82H1612.67zM1709.86 767.88H1716.8V774.82H1709.86zM1640.44 774.82H1647.38V781.75H1640.44zM1675.15 774.82H1682.09V781.75H1675.15zM1689.03 774.82H1695.98V781.75H1689.03zM1647.38 781.75H1675.15V788.69H1647.38zM1612.67 795.62H1619.61V802.55H1612.67zM1695.98 830.29H1702.92V837.22H1695.98zM1661.27 837.22H1668.21V844.16H1661.27zM1709.86 837.22H1772.34V844.16H1709.86zM1564.08 844.16H1577.96V851.09H1564.08zM1598.79 844.16H1605.73V851.09H1598.79zM1661.27 844.16H1668.21V851.09H1661.27zM1772.34 844.16H1779.28V851.09H1772.34zM1786.22 844.16H1800.11V851.09H1786.22zM1577.96 851.09H1584.9V858.03H1577.96zM1605.73 851.09H1640.44V858.03H1605.73zM1772.34 851.09H1793.16V858.03H1772.34zM1522.43 858.03H1536.31V864.96H1522.43zM1564.08 858.03H1577.96V864.96H1564.08zM1793.16 858.03H1800.11V864.96H1793.16zM1571.02 864.96H1577.96V871.89H1571.02zM1800.11 864.96H1807.05V871.89H1800.11zM1571.02 871.89H1577.96V878.83H1571.02zM1536.31 878.83H1543.25V885.76H1536.31zM1598.79 878.83H1605.73V885.76H1598.79zM1626.56 878.83H1633.5V885.76H1626.56zM1654.32 885.76H1668.21V892.7H1654.32zM1744.57 885.76H1779.28V892.7H1744.57zM1536.31 892.7H1543.25V899.63H1536.31zM1529.37 899.63H1536.31V906.56H1529.37zM1522.43 906.56H1529.37V913.5H1522.43zM1744.57 913.5H1765.4V920.43H1744.57zM1515.48 920.43H1522.43V927.37H1515.48z"/>
<path fill="#9f12a9" d="M1654.32 587.6H1661.27V594.53H1654.32zM1640.44 594.53H1668.21V601.47H1640.44zM1675.15 608.4H1682.09V615.34H1675.15zM1647.38 615.34H1654.32V622.27H1647.38zM1675.15 615.34H1682.09V622.27H1675.15zM1668.21 622.27H1675.15V629.2H1668.21zM1682.09 622.27H1689.03V629.2H1682.09zM1723.74 622.27H1730.69V629.2H1723.74zM1723.74 629.2H1730.69V636.14H1723.74zM1529.37 650.01H1543.25V656.94H1529.37zM1702.92 663.87H1709.86V670.81H1702.92zM1723.74 670.81H1730.69V677.74H1723.74zM1536.31 684.68H1543.25V691.61H1536.31zM1536.31 691.61H1543.25V698.54H1536.31zM1751.51 691.61H1758.45V698.54H1751.51zM1744.57 705.48H1751.51V712.41H1744.57zM1508.54 712.41H1515.48V719.35H1508.54zM1550.19 712.41H1557.14V719.35H1550.19zM1557.14 719.35H1564.08V726.28H1557.14zM1709.86 719.35H1716.8V726.28H1709.86zM1557.14 726.28H1564.08V733.21H1557.14zM1577.96 733.21H1584.9V740.15H1577.96zM1695.98 747.08H1702.92V754.02H1695.98zM1605.73 754.02H1619.61V760.95H1605.73zM1689.03 754.02H1695.98V760.95H1689.03zM1598.79 760.95H1605.73V767.88H1598.79zM1744.57 760.95H1758.45V767.88H1744.57zM1695.98 788.69H1702.92V795.62H1695.98zM1730.69 788.69H1737.63V795.62H1730.69zM1619.61 795.62H1626.56V802.55H1619.61zM1702.92 837.22H1709.86V844.16H1702.92zM1786.22 837.22H1800.11V844.16H1786.22zM1591.85 844.16H1598.79V851.09H1591.85zM1765.4 844.16H1772.34V851.09H1765.4zM1564.08 851.09H1571.02V858.03H1564.08zM1584.9 851.09H1591.85V858.03H1584.9zM1598.79 851.09H1605.73V858.03H1598.79zM1640.44 851.09H1682.09V858.03H1640.44zM1765.4 851.09H1772.34V858.03H1765.4zM1612.67 871.89H1626.56V878.83H1612.67zM1807.05 871.89H1813.99V878.83H1807.05zM1529.37 878.83H1536.31V885.76H1529.37zM1584.9 878.83H1598.79V885.76H1584.9zM1633.5 878.83H1640.44V885.76H1633.5zM1800.11 878.83H1813.99V885.76H1800.11zM1543.25 885.76H1557.14V892.7H1543.25zM1668.21 885.76H1675.15V892.7H1668.21zM1737.63 885.76H1744.57V892.7H1737.63z"/>
<path fill="#a1139c" d="M1640.44 587.6H1654.32V594.53H1640.44zM1640.44 601.47H1647.38V608.4H1640.44zM1682.09 608.4H1695.98V615.34H1682.09zM1682.09 615.34H1695.98V622.27H1682.09zM1675.15 622.27H1682.09V629.2H1675.15zM1536.31 629.2H1550.19V636.14H1536.31zM1689.03 636.14H1695.98V643.07H1689.03zM1543.25 650.01H1550.19V656.94H1543.25zM1508.54 656.94H1515.48V663.87H1508.54zM1695.98 656.94H1702.92V663.87H1695.98zM1508.54 663.87H1515.48V670.81H1508.54zM1716.8 670.81H1723.74V677.74H1716.8zM1508.54 677.74H1515.48V684.68H1508.54zM1737.63 677.74H1744.57V684.68H1737.63zM1543.25 684.68H1550.19V691.61H1543.25zM1508.54 691.61H1515.48V698.54H1508.54zM1508.54 698.54H1515.48V705.48H1508.54zM1508.54 705.48H1515.48V712.41H1508.54zM1529.37 705.48H1543.25V712.41H1529.37zM1737.63 712.41H1744.57V719.35H1737.63zM1584.9 726.28H1591.85V733.21H1584.9zM1675.15 726.28H1689.03V733.21H1675.15zM1702.92 726.28H1709.86V733.21H1702.92zM1557.14 733.21H1564.08V740.15H1557.14zM1598.79 733.21H1605.73V740.15H1598.79zM1709.86 733.21H1716.8V740.15H1709.86zM1571.02 740.15H1577.96V747.08H1571.02zM1709.86 740.15H1716.8V747.08H1709.86zM1550.19 747.08H1557.14V754.02H1550.19zM1571.02 747.08H1577.96V754.02H1571.02zM1605.73 747.08H1619.61V754.02H1605.73zM1550.19 760.95H1571.02V767.88H1550.19zM1612.67 760.95H1619.61V767.88H1612.67zM1689.03 760.95H1695.98V767.88H1689.03zM1619.61 767.88H1633.5V774.82H1619.61zM1682.09 767.88H1709.86V774.82H1682.09zM1675.15 788.69H1695.98V795.62H1675.15zM1626.56 795.62H1633.5V802.55H1626.56zM1772.34 795.62H1779.28V802.55H1772.34zM1779.28 816.42H1786.22V823.36H1779.28zM1668.21 837.22H1702.92V844.16H1668.21zM1668.21 844.16H1682.09V851.09H1668.21zM1723.74 844.16H1765.4V851.09H1723.74zM1571.02 851.09H1577.96V858.03H1571.02zM1591.85 851.09H1598.79V858.03H1591.85zM1682.09 851.09H1689.03V858.03H1682.09zM1758.45 851.09H1765.4V858.03H1758.45zM1577.96 858.03H1584.9V864.96H1577.96zM1605.73 858.03H1626.56V864.96H1605.73zM1730.69 858.03H1744.57V864.96H1730.69zM1786.22 858.03H1793.16V864.96H1786.22zM1508.54 864.96H1515.48V871.89H1508.54zM1577.96 871.89H1584.9V878.83H1577.96zM1605.73 871.89H1612.67V878.83H1605.73zM1626.56 871.89H1633.5V878.83H1626.56zM1793.16 878.83H1800.11V885.76H1793.16zM1536.31 885.76H1543.25V892.7H1536.31zM1508.54 927.37H1515.48V934.3H1508.54z"/>
<path fill="#a4148f" d="M1640.44 608.4H1647.38V615.34H1640.44zM1536.31 622.27H1543.25V629.2H1536.31zM1661.27 622.27H1668.21V629.2H1661.27zM1550.19 629.2H1557.14V636.14H1550.19zM1682.09 629.2H1689.03V636.14H1682.09zM1536.31 636.14H1550.19V643.07H1536.31zM1536.31 643.07H1550.19V650.01H1536.31zM1689.03 643.07H1695.98V650.01H1689.03zM1689.03 650.01H1695.98V656.94H1689.03zM1529.37 656.94H1536.31V663.87H1529.37zM1515.48 663.87H1529.37V670.81H1515.48zM1709.86 670.81H1716.8V677.74H1709.86zM1529.37 677.74H1536.31V684.68H1529.37zM1515.48 684.68H1529.37V691.61H1515.48zM1550.19 684.68H1557.14V691.61H1550.19zM1744.57 684.68H1751.51V691.61H1744.57zM1515.48 691.61H1522.43V698.54H1515.48zM1543.25 691.61H1550.19V698.54H1543.25zM1515.48 698.54H1522.43V705.48H1515.48zM1536.31 698.54H1543.25V705.48H1536.31zM1744.57 698.54H1751.51V705.48H1744.57zM1515.48 705.48H1522.43V712.41H1515.48zM1543.25 705.48H1550.19V712.41H1543.25zM1737.63 705.48H1744.57V712.41H1737.63zM1515.48 712.41H1522.43V719.35H1515.48zM1557.14 712.41H1564.08V719.35H1557.14zM1723.74 712.41H1737.63V719.35H1723.74zM1564.08 719.35H1571.02V726.28H1564.08zM1661.27 719.35H1668.21V726.28H1661.27zM1675.15 719.35H1689.03V726.28H1675.15zM1702.92 719.35H1709.86V726.28H1702.92zM1564.08 726.28H1584.9V733.21H1564.08zM1591.85 726.28H1598.79V733.21H1591.85zM1668.21 726.28H1675.15V733.21H1668.21zM1564.08 733.21H1577.96V740.15H1564.08zM1557.14 740.15H1571.02V747.08H1557.14zM1605.73 740.15H1626.56V747.08H1605.73zM1702.92 740.15H1709.86V747.08H1702.92zM1557.14 747.08H1571.02V754.02H1557.14zM1619.61 747.08H1626.56V754.02H1619.61zM1689.03 747.08H1695.98V754.02H1689.03zM1550.19 754.02H1571.02V760.95H1550.19zM1619.61 754.02H1626.56V760.95H1619.61zM1682.09 754.02H1689.03V760.95H1682.09zM1619.61 760.95H1633.5V767.88H1619.61zM1682.09 760.95H1689.03V767.88H1682.09zM1633.5 767.88H1682.09V774.82H1633.5zM1647.38 774.82H1675.15V781.75H1647.38zM1695.98 774.82H1709.86V781.75H1695.98zM1633.5 788.69H1640.44V795.62H1633.5zM1695.98 809.49H1702.92V816.42H1695.98zM1682.09 844.16H1695.98V851.09H1682.09zM1709.86 844.16H1723.74V851.09H1709.86zM1723.74 851.09H1758.45V858.03H1723.74zM1584.9 858.03H1605.73V864.96H1584.9zM1626.56 858.03H1640.44V864.96H1626.56zM1723.74 858.03H1730.69V864.96H1723.74zM1744.57 858.03H1751.51V864.96H1744.57zM1758.45 858.03H1786.22V864.96H1758.45zM1529.37 864.96H1536.31V871.89H1529.37zM1577.96 864.96H1584.9V871.89H1577.96zM1605.73 864.96H1633.5V871.89H1605.73zM1793.16 864.96H1800.11V871.89H1793.16zM1508.54 871.89H1515.48V878.83H1508.54zM1529.37 871.89H1536.31V878.83H1529.37zM1598.79 871.89H1605.73V878.83H1598.79zM1800.11 871.89H1807.05V878.83H1800.11zM1640.44 878.83H1647.38V885.76H1640.44zM1529.37 885.76H1536.31V892.7H1529.37zM1723.74 885.76H1737.63V892.7H1723.74zM1529.37 892.7H1536.31V899.63H1529.37z"/>
<path fill="#a61581" d="M1515.48 587.6H1536.31V594.53H1515.48zM1633.5 587.6H1640.44V594.53H1633.5zM1515.48 594.53H1536.31V601.47H1515.48zM1633.5 594.53H1640.44V601.47H1633.5zM1522.43 601.47H1543.25V608.4H1522.43zM1633.5 601.47H1640.44V608.4H1633.5zM1529.37 608.4H1543.25V615.34H1529.37zM1529.37 615.34H1543.25V622.27H1529.37zM1529.37 622.27H1536.31V629.2H1529.37zM1543.25 622.27H1550.19V629.2H1543.25zM1654.32 622.27H1661.27V629.2H1654.32zM1675.15 629.2H1682.09V636.14H1675.15zM1550.19 636.14H1557.14V643.07H1550.19zM1682.09 636.14H1689.03V643.07H1682.09zM1529.37 643.07H1536.31V650.01H1529.37zM1515.48 650.01H1529.37V656.94H1515.48zM1515.48 656.94H1529.37V663.87H1515.48zM1536.31 656.94H1550.19V663.87H1536.31zM1529.37 663.87H1536.31V670.81H1529.37zM1529.37 670.81H1536.31V677.74H1529.37zM1536.31 677.74H1543.25V684.68H1536.31zM1723.74 677.74H1737.63V684.68H1723.74zM1550.19 691.61H1557.14V698.54H1550.19zM1744.57 691.61H1751.51V698.54H1744.57zM1550.19 705.48H1557.14V712.41H1550.19zM1564.08 712.41H1571.02V719.35H1564.08zM1709.86 712.41H1723.74V719.35H1709.86zM1571.02 719.35H1605.73V726.28H1571.02zM1654.32 719.35H1661.27V726.28H1654.32zM1668.21 719.35H1675.15V726.28H1668.21zM1598.79 726.28H1633.5V733.21H1598.79zM1654.32 726.28H1668.21V733.21H1654.32zM1689.03 726.28H1702.92V733.21H1689.03zM1612.67 733.21H1640.44V740.15H1612.67zM1675.15 733.21H1682.09V740.15H1675.15zM1626.56 740.15H1647.38V747.08H1626.56zM1668.21 740.15H1675.15V747.08H1668.21zM1695.98 740.15H1702.92V747.08H1695.98zM1626.56 747.08H1689.03V754.02H1626.56zM1626.56 754.02H1682.09V760.95H1626.56zM1633.5 760.95H1682.09V767.88H1633.5zM1640.44 788.69H1654.32V795.62H1640.44zM1695.98 844.16H1709.86V851.09H1695.98zM1689.03 851.09H1695.98V858.03H1689.03zM1716.8 851.09H1723.74V858.03H1716.8zM1675.15 858.03H1689.03V864.96H1675.15zM1751.51 858.03H1758.45V864.96H1751.51zM1584.9 864.96H1605.73V871.89H1584.9zM1786.22 864.96H1793.16V871.89H1786.22zM1633.5 871.89H1640.44V878.83H1633.5zM1522.43 878.83H1529.37V885.76H1522.43zM1786.22 878.83H1793.16V885.76H1786.22zM1675.15 885.76H1682.09V892.7H1675.15zM1702.92 885.76H1723.74V892.7H1702.92zM1522.43 899.63H1529.37V906.56H1522.43zM1515.48 906.56H1522.43V913.5H1515.48zM1515.48 913.5H1522.43V920.43H1515.48z"/>
<path fill="#a81773" d="M1536.31 594.53H1543.25V601.47H1536.31zM1626.56 594.53H1633.5V601.47H1626.56zM1543.25 601.47H1550.19V608.4H1543.25zM1543.25 608.4H1550.19V615.34H1543.25zM1633.5 608.4H1640.44V615.34H1633.5zM1640.44 615.34H1647.38V622.27H1640.44zM1522.43 622.27H1529.37V629.2H1522.43zM1550.19 622.27H1557.14V629.2H1550.19zM1529.37 629.2H1536.31V636.14H1529.37zM1557.14 629.2H1564.08V636.14H1557.14zM1668.21 629.2H1675.15V636.14H1668.21zM1522.43 643.07H1529.37V650.01H1522.43zM1550.19 643.07H1557.14V650.01H1550.19zM1682.09 643.07H1689.03V650.01H1682.09zM1550.19 650.01H1557.14V656.94H1550.19zM1682.09 650.01H1689.03V656.94H1682.09zM1689.03 656.94H1695.98V663.87H1689.03zM1695.98 663.87H1702.92V670.81H1695.98zM1716.8 677.74H1723.74V684.68H1716.8zM1508.54 684.68H1515.48V691.61H1508.54zM1557.14 691.61H1564.08V698.54H1557.14zM1543.25 698.54H1550.19V705.48H1543.25zM1737.63 698.54H1744.57V705.48H1737.63zM1730.69 705.48H1737.63V712.41H1730.69zM1571.02 712.41H1598.79V719.35H1571.02zM1605.73 719.35H1626.56V726.28H1605.73zM1689.03 719.35H1702.92V726.28H1689.03zM1633.5 726.28H1654.32V733.21H1633.5zM1605.73 733.21H1612.67V740.15H1605.73zM1668.21 733.21H1675.15V740.15H1668.21zM1702.92 733.21H1709.86V740.15H1702.92zM1647.38 740.15H1668.21V747.08H1647.38zM1675.15 740.15H1682.09V747.08H1675.15zM1654.32 788.69H1661.27V795.62H1654.32zM1723.74 788.69H1730.69V795.62H1723.74zM1709.86 851.09H1716.8V858.03H1709.86zM1661.27 858.03H1675.15V864.96H1661.27zM1689.03 858.03H1709.86V864.96H1689.03zM1716.8 858.03H1723.74V864.96H1716.8zM1633.5 864.96H1640.44V871.89H1633.5zM1730.69 864.96H1758.45V871.89H1730.69zM1765.4 864.96H1786.22V871.89H1765.4zM1584.9 871.89H1598.79V878.83H1584.9zM1793.16 871.89H1800.11V878.83H1793.16zM1647.38 878.83H1654.32V885.76H1647.38zM1779.28 878.83H1786.22V885.76H1779.28zM1682.09 885.76H1702.92V892.7H1682.09z"/>
<path fill="#aa1864" d="M1508.54 587.6H1515.48V594.53H1508.54zM1536.31 587.6H1543.25V594.53H1536.31zM1626.56 587.6H1633.5V594.53H1626.56zM1508.54 594.53H1515.48V601.47H1508.54zM1543.25 594.53H1550.19V601.47H1543.25zM1619.61 594.53H1626.56V601.47H1619.61zM1508.54 601.47H1515.48V608.4H1508.54zM1543.25 615.34H1550.19V622.27H1543.25zM1557.14 622.27H1564.08V629.2H1557.14zM1647.38 622.27H1654.32V629.2H1647.38zM1557.14 636.14H1564.08V643.07H1557.14zM1508.54 650.01H1515.48V656.94H1508.54zM1550.19 656.94H1557.14V663.87H1550.19zM1536.31 663.87H1543.25V670.81H1536.31zM1702.92 670.81H1709.86V677.74H1702.92zM1543.25 677.74H1550.19V684.68H1543.25zM1709.86 677.74H1716.8V684.68H1709.86zM1557.14 684.68H1564.08V691.61H1557.14zM1737.63 684.68H1744.57V691.61H1737.63zM1564.08 691.61H1571.02V698.54H1564.08zM1550.19 698.54H1557.14V705.48H1550.19zM1557.14 705.48H1564.08V712.41H1557.14zM1598.79 712.41H1605.73V719.35H1598.79zM1640.44 733.21H1668.21V740.15H1640.44zM1682.09 733.21H1702.92V740.15H1682.09zM1682.09 740.15H1695.98V747.08H1682.09zM1661.27 788.69H1675.15V795.62H1661.27zM1772.34 802.55H1779.28V809.49H1772.34zM1793.16 816.42H1800.11V823.36H1793.16zM1695.98 851.09H1709.86V858.03H1695.98zM1640.44 858.03H1647.38V864.96H1640.44zM1654.32 858.03H1661.27V864.96H1654.32zM1695.98 864.96H1709.86V871.89H1695.98zM1758.45 864.96H1765.4V871.89H1758.45zM1508.54 878.83H1515.48V885.76H1508.54zM1744.57 878.83H1779.28V885.76H1744.57zM1508.54 920.43H1515.48V927.37H1508.54z"/>
<path fill="#ac1a54" d="M1612.67 587.6H1626.56V594.53H1612.67zM1612.67 594.53H1619.61V601.47H1612.67zM1626.56 601.47H1633.5V608.4H1626.56zM1508.54 608.4H1515.48V615.34H1508.54zM1508.54 615.34H1515.48V622.27H1508.54zM1550.19 615.34H1557.14V622.27H1550.19zM1508.54 622.27H1515.48V629.2H1508.54zM1508.54 629.2H1515.48V636.14H1508.54zM1529.37 636.14H1536.31V643.07H1529.37zM1675.15 636.14H1682.09V643.07H1675.15zM1508.54 643.07H1515.48V650.01H1508.54zM1536.31 670.81H1543.25V677.74H1536.31zM1716.8 684.68H1723.74V691.61H1716.8zM1737.63 691.61H1744.57V698.54H1737.63zM1557.14 698.54H1571.02V705.48H1557.14zM1564.08 705.48H1598.79V712.41H1564.08zM1716.8 705.48H1730.69V712.41H1716.8zM1661.27 712.41H1675.15V719.35H1661.27zM1702.92 712.41H1709.86V719.35H1702.92zM1626.56 719.35H1633.5V726.28H1626.56zM1647.38 719.35H1654.32V726.28H1647.38zM1765.4 795.62H1772.34V802.55H1765.4zM1689.03 809.49H1695.98V816.42H1689.03zM1647.38 858.03H1654.32V864.96H1647.38zM1709.86 858.03H1716.8V864.96H1709.86zM1515.48 864.96H1529.37V871.89H1515.48zM1723.74 864.96H1730.69V871.89H1723.74zM1640.44 871.89H1647.38V878.83H1640.44zM1751.51 871.89H1758.45V878.83H1751.51zM1765.4 871.89H1793.16V878.83H1765.4zM1654.32 878.83H1668.21V885.76H1654.32zM1716.8 878.83H1744.57V885.76H1716.8zM1508.54 885.76H1515.48V892.7H1508.54zM1508.54 892.7H1515.48V899.63H1508.54zM1508.54 899.63H1515.48V906.56H1508.54z"/>
<path fill="#ae1c44" d="M1543.25 587.6H1550.19V594.53H1543.25zM1584.9 587.6H1591.85V594.53H1584.9zM1515.48 601.47H1522.43V608.4H1515.48zM1619.61 601.47H1626.56V608.4H1619.61zM1515.48 608.4H1529.37V615.34H1515.48zM1626.56 608.4H1633.5V615.34H1626.56zM1515.48 615.34H1529.37V622.27H1515.48zM1633.5 615.34H1640.44V622.27H1633.5zM1515.48 622.27H1522.43V629.2H1515.48zM1564.08 629.2H1571.02V636.14H1564.08zM1661.27 629.2H1668.21V636.14H1661.27zM1668.21 636.14H1675.15V643.07H1668.21zM1515.48 643.07H1522.43V650.01H1515.48zM1557.14 643.07H1564.08V650.01H1557.14zM1675.15 643.07H1682.09V650.01H1675.15zM1682.09 656.94H1689.03V663.87H1682.09zM1543.25 663.87H1550.19V670.81H1543.25zM1689.03 663.87H1695.98V670.81H1689.03zM1543.25 670.81H1550.19V677.74H1543.25zM1550.19 677.74H1557.14V684.68H1550.19zM1702.92 677.74H1709.86V684.68H1702.92zM1709.86 684.68H1716.8V691.61H1709.86zM1723.74 684.68H1730.69V691.61H1723.74zM1571.02 691.61H1577.96V698.54H1571.02zM1591.85 691.61H1605.73V698.54H1591.85zM1709.86 691.61H1723.74V698.54H1709.86zM1571.02 698.54H1605.73V705.48H1571.02zM1709.86 698.54H1737.63V705.48H1709.86zM1598.79 705.48H1605.73V712.41H1598.79zM1668.21 705.48H1675.15V712.41H1668.21zM1709.86 705.48H1716.8V712.41H1709.86zM1605.73 712.41H1612.67V719.35H1605.73zM1675.15 712.41H1682.09V719.35H1675.15zM1640.44 864.96H1647.38V871.89H1640.44zM1689.03 864.96H1695.98V871.89H1689.03zM1709.86 864.96H1716.8V871.89H1709.86zM1515.48 871.89H1529.37V878.83H1515.48zM1709.86 871.89H1737.63V878.83H1709.86zM1744.57 871.89H1751.51V878.83H1744.57zM1758.45 871.89H1765.4V878.83H1758.45zM1515.48 878.83H1522.43V885.76H1515.48zM1668.21 878.83H1675.15V885.76H1668.21zM1709.86 878.83H1716.8V885.76H1709.86zM1515.48 885.76H1529.37V892.7H1515.48zM1515.48 892.7H1529.37V899.63H1515.48zM1515.48 899.63H1522.43V906.56H1515.48z"/>
<path fill="#b01d34" d="M1577.96 587.6H1584.9V594.53H1577.96zM1591.85 587.6H1598.79V594.53H1591.85zM1605.73 587.6H1612.67V594.53H1605.73zM1584.9 594.53H1612.67V601.47H1584.9zM1550.19 601.47H1557.14V608.4H1550.19zM1550.19 608.4H1557.14V615.34H1550.19zM1557.14 615.34H1564.08V622.27H1557.14zM1564.08 622.27H1571.02V629.2H1564.08zM1640.44 622.27H1647.38V629.2H1640.44zM1654.32 629.2H1661.27V636.14H1654.32zM1564.08 636.14H1571.02V643.07H1564.08zM1675.15 650.01H1682.09V656.94H1675.15zM1550.19 663.87H1557.14V670.81H1550.19zM1695.98 670.81H1702.92V677.74H1695.98zM1564.08 684.68H1571.02V691.61H1564.08zM1702.92 684.68H1709.86V691.61H1702.92zM1730.69 684.68H1737.63V691.61H1730.69zM1577.96 691.61H1591.85V698.54H1577.96zM1605.73 691.61H1612.67V698.54H1605.73zM1702.92 691.61H1709.86V698.54H1702.92zM1723.74 691.61H1730.69V698.54H1723.74zM1605.73 698.54H1612.67V705.48H1605.73zM1661.27 705.48H1668.21V712.41H1661.27zM1702.92 705.48H1709.86V712.41H1702.92zM1612.67 712.41H1619.61V719.35H1612.67zM1654.32 712.41H1661.27V719.35H1654.32zM1695.98 712.41H1702.92V719.35H1695.98zM1633.5 719.35H1647.38V726.28H1633.5zM1633.5 795.62H1640.44V802.55H1633.5zM1675.15 864.96H1689.03V871.89H1675.15zM1716.8 864.96H1723.74V871.89H1716.8zM1702.92 871.89H1709.86V878.83H1702.92zM1737.63 871.89H1744.57V878.83H1737.63zM1702.92 878.83H1709.86V885.76H1702.92z"/>
<path fill="#b21f24" d="M1598.79 587.6H1605.73V594.53H1598.79zM1550.19 594.53H1557.14V601.47H1550.19zM1577.96 594.53H1584.9V601.47H1577.96zM1591.85 601.47H1605.73V608.4H1591.85zM1612.67 601.47H1619.61V608.4H1612.67zM1619.61 608.4H1626.56V615.34H1619.61zM1626.56 615.34H1633.5V622.27H1626.56zM1571.02 622.27H1577.96V629.2H1571.02zM1508.54 636.14H1515.48V643.07H1508.54zM1668.21 643.07H1675.15V650.01H1668.21zM1557.14 650.01H1564.08V656.94H1557.14zM1557.14 656.94H1564.08V663.87H1557.14zM1557.14 677.74H1564.08V684.68H1557.14zM1598.79 684.68H1605.73V691.61H1598.79zM1730.69 691.61H1737.63V698.54H1730.69zM1612.67 698.54H1619.61V705.48H1612.67zM1661.27 698.54H1675.15V705.48H1661.27zM1702.92 698.54H1709.86V705.48H1702.92zM1605.73 705.48H1612.67V712.41H1605.73zM1675.15 705.48H1682.09V712.41H1675.15zM1619.61 712.41H1626.56V719.35H1619.61zM1682.09 712.41H1689.03V719.35H1682.09zM1640.44 795.62H1647.38V802.55H1640.44zM1682.09 809.49H1689.03V816.42H1682.09zM1647.38 864.96H1654.32V871.89H1647.38zM1668.21 864.96H1675.15V871.89H1668.21zM1647.38 871.89H1654.32V878.83H1647.38zM1695.98 871.89H1702.92V878.83H1695.98zM1675.15 878.83H1682.09V885.76H1675.15zM1695.98 878.83H1702.92V885.76H1695.98zM1508.54 906.56H1515.48V913.5H1508.54zM1508.54 913.5H1515.48V920.43H1508.54z"/>
<path fill="#b32114" d="M1550.19 587.6H1557.14V594.53H1550.19zM1571.02 587.6H1577.96V594.53H1571.02zM1605.73 601.47H1612.67V608.4H1605.73zM1577.96 622.27H1584.9V629.2H1577.96zM1522.43 629.2H1529.37V636.14H1522.43zM1571.02 629.2H1577.96V636.14H1571.02zM1647.38 629.2H1654.32V636.14H1647.38zM1661.27 636.14H1668.21V643.07H1661.27zM1591.85 656.94H1598.79V663.87H1591.85zM1619.61 656.94H1626.56V663.87H1619.61zM1675.15 656.94H1682.09V663.87H1675.15zM1619.61 663.87H1626.56V670.81H1619.61zM1682.09 663.87H1689.03V670.81H1682.09zM1550.19 670.81H1557.14V677.74H1550.19zM1689.03 670.81H1695.98V677.74H1689.03zM1695.98 677.74H1702.92V684.68H1695.98zM1571.02 684.68H1577.96V691.61H1571.02zM1591.85 684.68H1598.79V691.61H1591.85zM1612.67 691.61H1619.61V698.54H1612.67zM1654.32 698.54H1661.27V705.48H1654.32zM1675.15 698.54H1682.09V705.48H1675.15zM1612.67 705.48H1619.61V712.41H1612.67zM1654.32 705.48H1661.27V712.41H1654.32zM1689.03 712.41H1695.98V719.35H1689.03zM1744.57 795.62H1765.4V802.55H1744.57zM1654.32 864.96H1668.21V871.89H1654.32zM1654.32 871.89H1668.21V878.83H1654.32zM1689.03 871.89H1695.98V878.83H1689.03zM1682.09 878.83H1695.98V885.76H1682.09z"/>
<path fill="#b52303" d="M1584.9 601.47H1591.85V608.4H1584.9zM1557.14 608.4H1564.08V615.34H1557.14zM1564.08 615.34H1571.02V622.27H1564.08zM1633.5 622.27H1640.44V629.2H1633.5zM1515.48 629.2H1522.43V636.14H1515.48zM1515.48 636.14H1529.37V643.07H1515.48zM1564.08 643.07H1571.02V650.01H1564.08zM1591.85 650.01H1598.79V656.94H1591.85zM1668.21 650.01H1675.15V656.94H1668.21zM1564.08 656.94H1591.85V663.87H1564.08zM1557.14 663.87H1564.08V670.81H1557.14zM1689.03 677.74H1695.98V684.68H1689.03zM1577.96 684.68H1591.85V691.61H1577.96zM1605.73 684.68H1612.67V691.61H1605.73zM1695.98 684.68H1702.92V691.61H1695.98zM1695.98 691.61H1702.92V698.54H1695.98zM1647.38 698.54H1654.32V705.48H1647.38zM1695.98 698.54H1702.92V705.48H1695.98zM1626.56 712.41H1633.5V719.35H1626.56zM1737.63 795.62H1744.57V802.55H1737.63zM1786.22 816.42H1793.16V823.36H1786.22zM1668.21 871.89H1675.15V878.83H1668.21zM1682.09 871.89H1689.03V878.83H1682.09z"/>
<path fill="#b72503" d="M1557.14 587.6H1571.02V594.53H1557.14zM1571.02 594.53H1577.96V601.47H1571.02zM1591.85 608.4H1605.73V615.34H1591.85zM1571.02 615.34H1598.79V622.27H1571.02zM1619.61 615.34H1626.56V622.27H1619.61zM1584.9 622.27H1591.85V629.2H1584.9zM1577.96 629.2H1584.9V636.14H1577.96zM1640.44 629.2H1647.38V636.14H1640.44zM1571.02 636.14H1577.96V643.07H1571.02zM1584.9 650.01H1591.85V656.94H1584.9zM1598.79 656.94H1605.73V663.87H1598.79zM1612.67 656.94H1619.61V663.87H1612.67zM1612.67 663.87H1619.61V670.81H1612.67zM1682.09 670.81H1689.03V677.74H1682.09zM1564.08 677.74H1571.02V684.68H1564.08zM1682.09 684.68H1695.98V691.61H1682.09zM1619.61 691.61H1626.56V698.54H1619.61zM1675.15 691.61H1695.98V698.54H1675.15zM1619.61 698.54H1626.56V705.48H1619.61zM1682.09 698.54H1689.03V705.48H1682.09zM1682.09 705.48H1689.03V712.41H1682.09zM1695.98 705.48H1702.92V712.41H1695.98zM1647.38 712.41H1654.32V719.35H1647.38zM1675.15 871.89H1682.09V878.83H1675.15z"/>
<path fill="#b92703" d="M1577.96 601.47H1584.9V608.4H1577.96zM1612.67 608.4H1619.61V615.34H1612.67zM1598.79 615.34H1605.73V622.27H1598.79zM1591.85 622.27H1598.79V629.2H1591.85zM1626.56 622.27H1633.5V629.2H1626.56zM1661.27 643.07H1668.21V650.01H1661.27zM1564.08 650.01H1571.02V656.94H1564.08zM1598.79 650.01H1605.73V656.94H1598.79zM1612.67 650.01H1626.56V656.94H1612.67zM1626.56 656.94H1633.5V663.87H1626.56zM1626.56 663.87H1633.5V670.81H1626.56zM1675.15 663.87H1682.09V670.81H1675.15zM1557.14 670.81H1564.08V677.74H1557.14zM1619.61 670.81H1626.56V677.74H1619.61zM1598.79 677.74H1605.73V684.68H1598.79zM1682.09 677.74H1689.03V684.68H1682.09zM1626.56 691.61H1661.27V698.54H1626.56zM1626.56 698.54H1633.5V705.48H1626.56zM1640.44 698.54H1647.38V705.48H1640.44zM1689.03 698.54H1695.98V705.48H1689.03zM1619.61 705.48H1626.56V712.41H1619.61zM1612.67 802.55H1619.61V809.49H1612.67zM1765.4 802.55H1772.34V809.49H1765.4zM1612.67 809.49H1619.61V816.42H1612.67z"/>
<path fill="#bb2903" d="M1557.14 594.53H1564.08V601.47H1557.14zM1557.14 601.47H1564.08V608.4H1557.14zM1584.9 608.4H1591.85V615.34H1584.9zM1605.73 608.4H1612.67V615.34H1605.73zM1598.79 622.27H1605.73V629.2H1598.79zM1654.32 636.14H1661.27V643.07H1654.32zM1571.02 650.01H1584.9V656.94H1571.02zM1605.73 650.01H1612.67V656.94H1605.73zM1605.73 656.94H1612.67V663.87H1605.73zM1564.08 663.87H1571.02V670.81H1564.08zM1591.85 663.87H1605.73V670.81H1591.85zM1598.79 670.81H1605.73V677.74H1598.79zM1612.67 670.81H1619.61V677.74H1612.67zM1626.56 670.81H1633.5V677.74H1626.56zM1612.67 684.68H1619.61V691.61H1612.67zM1675.15 684.68H1682.09V691.61H1675.15zM1661.27 691.61H1675.15V698.54H1661.27zM1633.5 698.54H1640.44V705.48H1633.5zM1647.38 705.48H1654.32V712.41H1647.38zM1689.03 705.48H1695.98V712.41H1689.03zM1633.5 712.41H1640.44V719.35H1633.5zM1647.38 795.62H1654.32V802.55H1647.38zM1737.63 802.55H1765.4V809.49H1737.63zM1675.15 809.49H1682.09V816.42H1675.15z"/>
<path fill="#bd2c03" d="M1564.08 594.53H1571.02V601.47H1564.08zM1571.02 601.47H1577.96V608.4H1571.02zM1564.08 608.4H1584.9V615.34H1564.08zM1605.73 615.34H1619.61V622.27H1605.73zM1605.73 622.27H1612.67V629.2H1605.73zM1619.61 622.27H1626.56V629.2H1619.61zM1584.9 629.2H1591.85V636.14H1584.9zM1633.5 629.2H1640.44V636.14H1633.5zM1577.96 636.14H1584.9V643.07H1577.96zM1647.38 636.14H1654.32V643.07H1647.38zM1571.02 643.07H1577.96V650.01H1571.02zM1626.56 650.01H1633.5V656.94H1626.56zM1661.27 650.01H1668.21V656.94H1661.27zM1668.21 656.94H1675.15V663.87H1668.21zM1571.02 663.87H1591.85V670.81H1571.02zM1605.73 663.87H1612.67V670.81H1605.73zM1564.08 670.81H1571.02V677.74H1564.08zM1605.73 670.81H1612.67V677.74H1605.73zM1675.15 670.81H1682.09V677.74H1675.15zM1571.02 677.74H1577.96V684.68H1571.02zM1591.85 677.74H1598.79V684.68H1591.85zM1605.73 677.74H1612.67V684.68H1605.73zM1675.15 677.74H1682.09V684.68H1675.15zM1619.61 684.68H1626.56V691.61H1619.61zM1626.56 705.48H1633.5V712.41H1626.56zM1640.44 712.41H1647.38V719.35H1640.44zM1619.61 802.55H1626.56V809.49H1619.61zM1730.69 802.55H1737.63V809.49H1730.69zM1619.61 809.49H1633.5V816.42H1619.61z"/>
<path fill="#be2e03" d="M1564.08 601.47H1571.02V608.4H1564.08zM1612.67 622.27H1619.61V629.2H1612.67zM1591.85 629.2H1598.79V636.14H1591.85zM1626.56 629.2H1633.5V636.14H1626.56zM1640.44 636.14H1647.38V643.07H1640.44zM1577.96 643.07H1605.73V650.01H1577.96zM1612.67 643.07H1626.56V650.01H1612.67zM1654.32 643.07H1661.27V650.01H1654.32zM1633.5 656.94H1640.44V663.87H1633.5zM1633.5 663.87H1640.44V670.81H1633.5zM1668.21 663.87H1675.15V670.81H1668.21zM1571.02 670.81H1577.96V677.74H1571.02zM1591.85 670.81H1598.79V677.74H1591.85zM1633.5 670.81H1640.44V677.74H1633.5zM1577.96 677.74H1591.85V684.68H1577.96zM1612.67 677.74H1633.5V684.68H1612.67zM1626.56 684.68H1661.27V691.61H1626.56zM1668.21 684.68H1675.15V691.61H1668.21zM1633.5 809.49H1647.38V816.42H1633.5z"/>
<path fill="#c03003" d="M1598.79 629.2H1626.56V636.14H1598.79zM1584.9 636.14H1598.79V643.07H1584.9zM1619.61 636.14H1640.44V643.07H1619.61zM1605.73 643.07H1612.67V650.01H1605.73zM1626.56 643.07H1654.32V650.01H1626.56zM1633.5 650.01H1661.27V656.94H1633.5zM1640.44 656.94H1668.21V663.87H1640.44zM1640.44 663.87H1654.32V670.81H1640.44zM1577.96 670.81H1591.85V677.74H1577.96zM1640.44 670.81H1654.32V677.74H1640.44zM1668.21 670.81H1675.15V677.74H1668.21zM1633.5 677.74H1675.15V684.68H1633.5zM1661.27 684.68H1668.21V691.61H1661.27zM1633.5 705.48H1647.38V712.41H1633.5zM1647.38 809.49H1661.27V816.42H1647.38zM1668.21 809.49H1675.15V816.42H1668.21z"/>
<path fill="#c23203" d="M1612.67 636.14H1619.61V643.07H1612.67zM1654.32 663.87H1661.27V670.81H1654.32zM1654.32 670.81H1668.21V677.74H1654.32zM1661.27 809.49H1668.21V816.42H1661.27z"/>
<path fill="#c43503" d="M1598.79 636.14H1612.67V643.07H1598.79zM1661.27 663.87H1668.21V670.81H1661.27zM1723.74 802.55H1730.69V809.49H1723.74z"/>
<path fill="#c53703" d="M1709.86 795.62H1716.8V802.55H1709.86zM1626.56 802.55H1633.5V809.49H1626.56zM1716.8 802.55H1723.74V809.49H1716.8z"/>
<path fill="#c73a03" d="M1702.92 795.62H1709.86V802.55H1702.92z"/>
<path fill="#c93d03" d="M1654.32 795.62H1661.27V802.55H1654.32z"/>
<path fill="#cb4003" d="M1730.69 795.62H1737.63V802.55H1730.69z"/>
<path fill="#cc4303" d="M1716.8 795.62H1723.74V802.55H1716.8zM1633.5 802.55H1640.44V809.49H1633.5zM1709.86 802.55H1716.8V809.49H1709.86z"/>
<path fill="#ce4703" d="M1695.98 795.62H1702.92V802.55H1695.98z"/>
<path fill="#d04a03" d="M1682.09 795.62H1695.98V802.55H1682.09z"/>
<path fill="#d14e03" d="M1661.27 795.62H1682.09V802.55H1661.27z"/>
<path fill="#d35103" d="M1723.74 795.62H1730.69V802.55H1723.74zM1702.92 802.55H1709.86V809.49H1702.92z"/>
<path fill="#d45503" d="M1640.44 802.55H1647.38V809.49H1640.44z"/>
<path fill="#d65903" d="M1647.38 802.55H1654.32V809.49H1647.38z"/>
<path fill="#da6503" d="M1695.98 802.55H1702.92V809.49H1695.98z"/>
<path fill="#db6903" d="M1689.03 802.55H1695.98V809.49H1689.03z"/>
<path fill="#e48503" d="M1654.32 802.55H1661.27V809.49H1654.32zM1682.09 802.55H1689.03V809.49H1682.09z"/>
<path fill="#e68a03" d="M1661.27 802.55H1675.15V809.49H1661.27z"/>
<path fill="#eca003" d="M1675.15 802.55H1682.09V809.49H1675.15z"/>
</g>
<path fill="#fff" fill-opacity=".13" d="M1507.97 587.6h1.15v346.7h-1.15zM1514.91 587.6h1.15v346.7h-1.15zM1521.85 587.6h1.15v346.7h-1.15zM1528.79 587.6h1.15v346.7h-1.15zM1591.27 587.6h1.15v346.7h-1.15zM1598.21 587.6h1.15v346.7h-1.15zM1605.15 587.6h1.15v346.7h-1.15zM1612.1 587.6h1.15v346.7h-1.15zM1619.04 587.6h1.15v346.7h-1.15zM1625.98 587.6h1.15v346.7h-1.15zM1632.92 587.6h1.15v346.7h-1.15zM1702.34 587.6h1.15v346.7h-1.15zM1709.28 587.6h1.15v346.7h-1.15zM1716.23 587.6h1.15v346.7h-1.15zM1723.17 587.6h1.15v346.7h-1.15zM1730.11 587.6h1.15v346.7h-1.15zM1737.05 587.6h1.15v346.7h-1.15zM1813.41 587.6h1.15v346.7h-1.15zM1820.36 587.6h1.15v346.7h-1.15zM1827.3 587.6h1.15v346.7h-1.15zM1834.24 587.6h1.15v346.7h-1.15zM1841.18 587.6h1.15v346.7h-1.15zM1501.6 607.83h347.1v1.15h-347.1zM1501.6 614.76h347.1v1.15h-347.1zM1501.6 621.69h347.1v1.15h-347.1zM1501.6 628.63h347.1v1.15h-347.1zM1501.6 704.9h347.1v1.15h-347.1zM1501.6 711.84h347.1v1.15h-347.1zM1501.6 718.77h347.1v1.15h-347.1zM1501.6 725.7h347.1v1.15h-347.1zM1501.6 732.64h347.1v1.15h-347.1zM1501.6 739.57h347.1v1.15h-347.1zM1501.6 808.91h347.1v1.15h-347.1zM1501.6 815.85h347.1v1.15h-347.1zM1501.6 822.78h347.1v1.15h-347.1zM1501.6 829.71h347.1v1.15h-347.1zM1501.6 836.65h347.1v1.15h-347.1zM1501.6 843.58h347.1v1.15h-347.1zM1501.6 905.99h347.1v1.15h-347.1zM1501.6 912.92h347.1v1.15h-347.1zM1501.6 919.86h347.1v1.15h-347.1zM1501.6 926.79h347.1v1.15h-347.1z"/>
<path fill="#fff" fill-opacity=".065" d="M1584.33 587.6h1.15v346.7h-1.15zM1639.87 587.6h1.15v346.7h-1.15zM1695.4 587.6h1.15v346.7h-1.15zM1743.99 587.6h1.15v346.7h-1.15zM1501.6 600.89h347.1v1.15h-347.1zM1501.6 635.56h347.1v1.15h-347.1zM1501.6 697.97h347.1v1.15h-347.1zM1501.6 746.51h347.1v1.15h-347.1zM1501.6 801.98h347.1v1.15h-347.1zM1501.6 850.52h347.1v1.15h-347.1z"/>
<linearGradient id="gf" x1="0" y1="0" x2="0" y2="1"><stop offset="0" stop-color="#ffff0d"/><stop offset="0.02" stop-color="#fcf00d"/><stop offset="0.04" stop-color="#fae20d"/><stop offset="0.06" stop-color="#f7d40d"/><stop offset="0.08" stop-color="#f5c70d"/><stop offset="0.1" stop-color="#f2bb0d"/><stop offset="0.12" stop-color="#f0af0d"/><stop offset="0.15" stop-color="#eda40d"/><stop offset="0.17" stop-color="#ea990d"/><stop offset="0.19" stop-color="#e78f0d"/><stop offset="0.21" stop-color="#e4850d"/><stop offset="0.23" stop-color="#e27c0d"/><stop offset="0.25" stop-color="#df730d"/><stop offset="0.27" stop-color="#dc6b0d"/><stop offset="0.29" stop-color="#d9630d"/><stop offset="0.31" stop-color="#d55c0d"/><stop offset="0.33" stop-color="#d2550d"/><stop offset="0.35" stop-color="#d04e0d"/><stop offset="0.38" stop-color="#cd480d"/><stop offset="0.4" stop-color="#c9420d"/><stop offset="0.42" stop-color="#c63d0d"/><stop offset="0.44" stop-color="#c2380d"/><stop offset="0.46" stop-color="#bf340d"/><stop offset="0.48" stop-color="#bc2f0d"/><stop offset="0.5" stop-color="#b82b0d"/><stop offset="0.52" stop-color="#b5272c"/><stop offset="0.54" stop-color="#b1244b"/><stop offset="0.56" stop-color="#ad216a"/><stop offset="0.58" stop-color="#aa1e86"/><stop offset="0.6" stop-color="#a51ca0"/><stop offset="0.62" stop-color="#a119b8"/><stop offset="0.65" stop-color="#9d17cd"/><stop offset="0.67" stop-color="#9815df"/><stop offset="0.69" stop-color="#9514ed"/><stop offset="0.71" stop-color="#9012f6"/><stop offset="0.73" stop-color="#8b12fd"/><stop offset="0.75" stop-color="#8611ff"/><stop offset="0.77" stop-color="#8110fd"/><stop offset="0.79" stop-color="#7b0ff6"/><stop offset="0.81" stop-color="#750fed"/><stop offset="0.83" stop-color="#700edf"/><stop offset="0.85" stop-color="#690ecd"/><stop offset="0.88" stop-color="#620db8"/><stop offset="0.9" stop-color="#5b0da0"/><stop offset="0.92" stop-color="#530d86"/><stop offset="0.94" stop-color="#4a0d6a"/><stop offset="0.96" stop-color="#3e0d4b"/><stop offset="0.98" stop-color="#300d2c"/><stop offset="1" stop-color="#0d0d0d"/></linearGradient>
<rect x="1856.8" y="587.6" width="17.8" height="346.7" fill="url(#gf)"/>
<path d="M1544.99 934.3v-8.6M1544.99 587.6v8.6M1588.38 934.3v-8.6M1588.38 587.6v8.6M1631.76 934.3v-8.6M1631.76 587.6v8.6M1675.15 934.3v-8.6M1675.15 587.6v8.6M1718.54 934.3v-8.6M1718.54 587.6v8.6M1761.92 934.3v-8.6M1761.92 587.6v8.6M1805.31 934.3v-8.6M1805.31 587.6v8.6M1501.6 890.96h8.6M1848.7 890.96h-8.6M1501.6 847.62h8.6M1848.7 847.62h-8.6M1501.6 804.29h8.6M1848.7 804.29h-8.6M1501.6 760.95h8.6M1848.7 760.95h-8.6M1501.6 717.61h8.6M1848.7 717.61h-8.6M1501.6 674.27h8.6M1848.7 674.27h-8.6M1501.6 630.94h8.6M1848.7 630.94h-8.6M1856.8 890.96h5.7M1874.6 890.96h-5.7M1856.8 847.62h5.7M1874.6 847.62h-5.7M1856.8 804.29h5.7M1874.6 804.29h-5.7M1856.8 760.95h5.7M1874.6 760.95h-5.7M1856.8 717.61h5.7M1874.6 717.61h-5.7M1856.8 674.28h5.7M1874.6 674.28h-5.7M1856.8 630.94h5.7M1874.6 630.94h-5.7" stroke="#000" stroke-width="1.6" fill="none"/>
<path fill="#000" d="M1500.6 586.6H1849.7V588.6H1500.6ZM1500.6 933.3H1849.7V935.3H1500.6ZM1500.6 586.6H1502.6V935.3H1500.6ZM1847.7 586.6H1849.7V935.3H1847.7Z"/>
<path fill="#000" d="M1855.8 586.6H1875.6V588.6H1855.8ZM1855.8 933.3H1875.6V935.3H1855.8ZM1855.8 586.6H1857.8V935.3H1855.8ZM1873.6 586.6H1875.6V935.3H1873.6Z"/>
<g>
<text class="s" transform="translate(126.8 443.9) scale(0.2625 .25)">0</text>
<text class="s" transform="translate(174.08 443.9) scale(0.2625 .25)">2</text>
<text class="s" transform="translate(221.35 443.9) scale(0.2625 .25)">4</text>
<text class="s" transform="translate(268.46 443.9) scale(0.2625 .25)">6</text>
<text class="s" transform="translate(315.73 443.9) scale(0.2625 .25)">8</text>
<text class="s" transform="translate(356.54 443.9) scale(0.2625 .25)">10</text>
<text class="s" transform="translate(403.98 443.9) scale(0.2625 .25)">12</text>
<text class="s" transform="translate(450.93 443.9) scale(0.2625 .25)">14</text>
<text class="s" transform="translate(498.37 443.9) scale(0.2625 .25)">16</text>
<text class="s" transform="translate(104.17 425.37) scale(0.2625 .25)">0</text>
<text class="s" transform="translate(84.02 354.35) scale(0.2625 .25)">0.2</text>
<text class="s" transform="translate(84.02 283.33) scale(0.2625 .25)">0.4</text>
<text class="s" transform="translate(84.02 212.31) scale(0.2625 .25)">0.6</text>
<text class="s" transform="translate(84.02 141.29) scale(0.2625 .25)">0.8</text>
<text class="s" transform="translate(104.17 70.27) scale(0.2625 .25)">1</text>
<text class="s" transform="translate(517.67 423.47) scale(0.2625 .25)">-0.04</text>
<text class="s" transform="translate(515.67 335.42) scale(0.2625 .25)">-0.02</text>
<text class="s" transform="translate(518.9 247.57) scale(0.2625 .25)">0</text>
<text class="s" transform="translate(516 157.57) scale(0.2625 .25)">0.02</text>
<text class="s" transform="translate(518.8 71.42) scale(0.2625 .25)">0.04</text>
<text class="s" transform="translate(816.5 443.6) scale(0.2625 .25)">0</text>
<text class="s" transform="translate(863.78 443.6) scale(0.2625 .25)">2</text>
<text class="s" transform="translate(911.05 443.6) scale(0.2625 .25)">4</text>
<text class="s" transform="translate(958.16 443.6) scale(0.2625 .25)">6</text>
<text class="s" transform="translate(1005.43 443.6) scale(0.2625 .25)">8</text>
<text class="s" transform="translate(1046.54 443.6) scale(0.2625 .25)">10</text>
<text class="s" transform="translate(1093.98 443.6) scale(0.2625 .25)">12</text>
<text class="s" transform="translate(1140.92 443.6) scale(0.2625 .25)">14</text>
<text class="s" transform="translate(1188.37 443.6) scale(0.2625 .25)">16</text>
<text class="s" transform="translate(798.77 425.87) scale(0.2625 .25)">0</text>
<text class="s" transform="translate(778.62 354.93) scale(0.2625 .25)">0.2</text>
<text class="s" transform="translate(778.62 283.99) scale(0.2625 .25)">0.4</text>
<text class="s" transform="translate(778.62 213.05) scale(0.2625 .25)">0.6</text>
<text class="s" transform="translate(778.62 142.11) scale(0.2625 .25)">0.8</text>
<text class="s" transform="translate(798.77 71.17) scale(0.2625 .25)">1</text>
<text class="s" transform="translate(1204.57 414.47) scale(0.2625 .25)">-0.04</text>
<text class="s" transform="translate(1203.67 336.47) scale(0.2625 .25)">-0.02</text>
<text class="s" transform="translate(1211.8 247.57) scale(0.2625 .25)">0</text>
<text class="s" transform="translate(1211.7 159.47) scale(0.2625 .25)">0.02</text>
<text class="s" transform="translate(1210.8 72.47) scale(0.2625 .25)">0.04</text>
<text class="s" transform="translate(1486.4 439) scale(0.2625 .25)">0</text>
<text class="s" transform="translate(1533.7 439) scale(0.2625 .25)">2</text>
<text class="s" transform="translate(1581 439) scale(0.2625 .25)">4</text>
<text class="s" transform="translate(1628.13 439) scale(0.2625 .25)">6</text>
<text class="s" transform="translate(1675.43 439) scale(0.2625 .25)">8</text>
<text class="s" transform="translate(1716.17 439) scale(0.2625 .25)">10</text>
<text class="s" transform="translate(1763.63 439) scale(0.2625 .25)">12</text>
<text class="s" transform="translate(1810.6 439) scale(0.2625 .25)">14</text>
<text class="s" transform="translate(1858.07 439) scale(0.2625 .25)">16</text>
<text class="s" transform="translate(1466.67 421.67) scale(0.2625 .25)">0</text>
<text class="s" transform="translate(1446.52 350.76) scale(0.2625 .25)">0.2</text>
<text class="s" transform="translate(1446.52 279.85) scale(0.2625 .25)">0.4</text>
<text class="s" transform="translate(1446.52 208.94) scale(0.2625 .25)">0.6</text>
<text class="s" transform="translate(1446.52 138.03) scale(0.2625 .25)">0.8</text>
<text class="s" transform="translate(1466.67 67.12) scale(0.2625 .25)">1</text>
<text class="s" transform="translate(1878.87 421.47) scale(0.2625 .25)">-0.04</text>
<text class="s" transform="translate(1878.87 332.57) scale(0.2625 .25)">-0.02</text>
<text class="s" transform="translate(1887 243.47) scale(0.2625 .25)">0</text>
<text class="s" transform="translate(1879.95 157.47) scale(0.2625 .25)">0.02</text>
<text class="s" transform="translate(1877.7 70.52) scale(0.2625 .25)">0.04</text>
<text class="s" transform="translate(130.4 965.4) scale(0.2437 .25)">0</text>
<text class="s" transform="translate(173.77 965.4) scale(0.2437 .25)">2</text>
<text class="s" transform="translate(217.15 965.4) scale(0.2437 .25)">4</text>
<text class="s" transform="translate(260.36 965.4) scale(0.2437 .25)">6</text>
<text class="s" transform="translate(303.9 965.4) scale(0.2437 .25)">8</text>
<text class="s" transform="translate(339.78 965.4) scale(0.2437 .25)">10</text>
<text class="s" transform="translate(383.32 965.4) scale(0.2437 .25)">12</text>
<text class="s" transform="translate(426.36 965.4) scale(0.2437 .25)">14</text>
<text class="s" transform="translate(469.9 965.4) scale(0.2437 .25)">16</text>
<text class="s" transform="translate(107 946.07) scale(0.2437 .25)">0</text>
<text class="s" transform="translate(107.33 902.7) scale(0.2437 .25)">1</text>
<text class="s" transform="translate(107.33 859.51) scale(0.2437 .25)">2</text>
<text class="s" transform="translate(107 815.98) scale(0.2437 .25)">3</text>
<text class="s" transform="translate(106.67 772.62) scale(0.2437 .25)">4</text>
<text class="s" transform="translate(107 729.09) scale(0.2437 .25)">5</text>
<text class="s" transform="translate(107 685.89) scale(0.2437 .25)">6</text>
<text class="s" transform="translate(107.33 642.53) scale(0.2437 .25)">7</text>
<text class="s" transform="translate(107 599.17) scale(0.2437 .25)">8</text>
<text class="s" transform="translate(522.9 946.27) scale(0.2437 .25)">0</text>
<text class="s" transform="translate(522.9 896.71) scale(0.2437 .25)">0.05</text>
<text class="s" transform="translate(522.9 847.15) scale(0.2437 .25)">0.1</text>
<text class="s" transform="translate(522.9 797.6) scale(0.2437 .25)">0.15</text>
<text class="s" transform="translate(522.9 748.04) scale(0.2437 .25)">0.2</text>
<text class="s" transform="translate(522.9 698.48) scale(0.2437 .25)">0.25</text>
<text class="s" transform="translate(522.9 648.92) scale(0.2437 .25)">0.3</text>
<text class="s" transform="translate(522.9 599.37) scale(0.2437 .25)">0.35</text>
<text class="s" transform="translate(825.2 964.4) scale(0.2437 .25)">0</text>
<text class="s" transform="translate(868.65 964.4) scale(0.2437 .25)">2</text>
<text class="s" transform="translate(912.1 964.4) scale(0.2437 .25)">4</text>
<text class="s" transform="translate(955.38 964.4) scale(0.2437 .25)">6</text>
<text class="s" transform="translate(999 964.4) scale(0.2437 .25)">8</text>
<text class="s" transform="translate(1034.65 964.4) scale(0.2437 .25)">10</text>
<text class="s" transform="translate(1078.27 964.4) scale(0.2437 .25)">12</text>
<text class="s" transform="translate(1121.38 964.4) scale(0.2437 .25)">14</text>
<text class="s" transform="translate(1165 964.4) scale(0.2437 .25)">16</text>
<text class="s" transform="translate(801.9 944.97) scale(0.2437 .25)">0</text>
<text class="s" transform="translate(802.23 901.64) scale(0.2437 .25)">1</text>
<text class="s" transform="translate(802.23 858.48) scale(0.2437 .25)">2</text>
<text class="s" transform="translate(801.9 814.99) scale(0.2437 .25)">3</text>
<text class="s" transform="translate(801.57 771.67) scale(0.2437 .25)">4</text>
<text class="s" transform="translate(801.9 728.18) scale(0.2437 .25)">5</text>
<text class="s" transform="translate(801.9 685.02) scale(0.2437 .25)">6</text>
<text class="s" transform="translate(802.23 641.69) scale(0.2437 .25)">7</text>
<text class="s" transform="translate(801.9 598.37) scale(0.2437 .25)">8</text>
<text class="s" transform="translate(1219.6 945.17) scale(0.2437 .25)">0</text>
<text class="s" transform="translate(1219.6 906.66) scale(0.2437 .25)">0.1</text>
<text class="s" transform="translate(1219.6 868.14) scale(0.2437 .25)">0.2</text>
<text class="s" transform="translate(1219.6 829.63) scale(0.2437 .25)">0.3</text>
<text class="s" transform="translate(1219.6 791.12) scale(0.2437 .25)">0.4</text>
<text class="s" transform="translate(1219.6 752.61) scale(0.2437 .25)">0.5</text>
<text class="s" transform="translate(1219.6 714.1) scale(0.2437 .25)">0.6</text>
<text class="s" transform="translate(1219.6 675.59) scale(0.2437 .25)">0.7</text>
<text class="s" transform="translate(1219.6 637.08) scale(0.2437 .25)">0.8</text>
<text class="s" transform="translate(1219.6 598.57) scale(0.2437 .25)">0.9</text>
<text class="s" transform="translate(1497.4 964.2) scale(0.2437 .25)">0</text>
<text class="s" transform="translate(1540.79 964.2) scale(0.2437 .25)">2</text>
<text class="s" transform="translate(1584.18 964.2) scale(0.2437 .25)">4</text>
<text class="s" transform="translate(1627.4 964.2) scale(0.2437 .25)">6</text>
<text class="s" transform="translate(1670.95 964.2) scale(0.2437 .25)">8</text>
<text class="s" transform="translate(1706.54 964.2) scale(0.2437 .25)">10</text>
<text class="s" transform="translate(1750.09 964.2) scale(0.2437 .25)">12</text>
<text class="s" transform="translate(1793.15 964.2) scale(0.2437 .25)">14</text>
<text class="s" transform="translate(1836.7 964.2) scale(0.2437 .25)">16</text>
<text class="s" transform="translate(1474.1 944.47) scale(0.2437 .25)">0</text>
<text class="s" transform="translate(1474.43 901.13) scale(0.2437 .25)">1</text>
<text class="s" transform="translate(1474.43 857.96) scale(0.2437 .25)">2</text>
<text class="s" transform="translate(1474.1 814.45) scale(0.2437 .25)">3</text>
<text class="s" transform="translate(1473.77 771.12) scale(0.2437 .25)">4</text>
<text class="s" transform="translate(1474.1 727.61) scale(0.2437 .25)">5</text>
<text class="s" transform="translate(1474.1 684.44) scale(0.2437 .25)">6</text>
<text class="s" transform="translate(1474.43 641.1) scale(0.2437 .25)">7</text>
<text class="s" transform="translate(1474.1 597.77) scale(0.2437 .25)">8</text>
<text class="s" transform="translate(1889.7 944.67) scale(0.2437 .25)">0</text>
<text class="s" transform="translate(1889.7 901.33) scale(0.2437 .25)">0.2</text>
<text class="s" transform="translate(1889.7 857.99) scale(0.2437 .25)">0.4</text>
<text class="s" transform="translate(1889.7 814.65) scale(0.2437 .25)">0.6</text>
<text class="s" transform="translate(1889.7 771.32) scale(0.2437 .25)">0.8</text>
<text class="s" transform="translate(1889.7 727.98) scale(0.2437 .25)">1</text>
<text class="s" transform="translate(1889.7 684.81) scale(0.2437 .25)">1.2</text>
<text class="s" transform="translate(1889.7 641.3) scale(0.2437 .25)">1.4</text>
<text class="s" transform="translate(1889.7 597.97) scale(0.2437 .25)">1.6</text>
</g><g>
<text class="r" transform="translate(212.1 40.35) scale(1.0458 1)" font-size="47.95"><tspan class="i">I</tspan> = 2.5 mA</text>
<text class="r" transform="translate(902.88 40) scale(1.0459 1)" font-size="48"><tspan class="i">I</tspan> = 4.0 mA</text>
<text class="r" transform="translate(1570.63 40.55) scale(1.0468 1)" font-size="47.95"><tspan class="i">I</tspan> = 5.0 mA</text>
<text class="r" transform="translate(210.52 570.35) scale(1.0470 1)" font-size="48.05"><tspan class="i">I</tspan> = 2.5 mA</text>
<text class="r" transform="translate(886.02 571.5) scale(1.0566 1)" font-size="47.61"><tspan class="i">I</tspan> = 4.0 mA</text>
<text class="r" transform="translate(1567.5 572.03) scale(1.0616 1)" font-size="47.22"><tspan class="i">I</tspan> = 5.0 mA</text>
<text class="r" transform="translate(0.36 80.53) scale(1.0601 1)" font-size="65.78">(a)</text>
<text class="r" transform="translate(689.07 77.73) scale(1.0713 1)" font-size="66.36">(b)</text>
<text class="r" transform="translate(1375.23 79.53) scale(1.0905 1)" font-size="65.57">(c)</text>
<text class="r" transform="translate(1.08 625.28) scale(1.0722 1)" font-size="66.11">(d)</text>
<text class="r" transform="translate(690.02 622.63) scale(1.0805 1)" font-size="65.78">(e)</text>
<text class="r" transform="translate(1375.93 624.68) scale(1.1083 1)" font-size="64.52">(f)</text>
<text class="r" transform="translate(296.37 95.2) scale(1.0604 1)" font-size="38.3">ζ = 7.52</text>
<text class="r" transform="translate(986.17 98.6) scale(1.0598 1)" font-size="38.3">ζ = 7.52</text>
<text class="r" transform="translate(1656.52 97.5) scale(1.0518 1)" font-size="38.3">ζ = 7.52</text>
<text class="r" transform="translate(203.32 184.33) scale(1.1271 1)" font-size="37.72">λ</text>
<text class="r" transform="translate(1010.92 168.92) scale(1.1440 1)" font-size="37.3">λ</text>
<text class="r" transform="translate(1574.08 321.52) scale(1.1286 1)" font-size="37.3">λ</text>
<text class="r" transform="translate(175.65 382.33) scale(1.0429 1)" font-size="38"><tspan class="i">C</tspan><tspan font-size="22.42" dy="12.16">STM</tspan></text>
<text class="r" transform="translate(1029.13 363.9) scale(1.0267 1)" font-size="38.34"><tspan class="i">C</tspan><tspan font-size="22.62" dy="12.27">STM</tspan></text>
<text class="r" transform="translate(1543.58 93.27) scale(1.0252 1)" font-size="38.8"><tspan class="i">C</tspan><tspan font-size="22.89" dy="12.42">STM</tspan></text>
<text class="r" transform="translate(51.93 280.35) rotate(-90) scale(1.0118 1)" font-size="49.54"><tspan class="i">C</tspan><tspan font-size="29.23" dy="15.85">STM</tspan></text>
<text class="r" transform="translate(744.55 281.72) rotate(-90) scale(0.9939 1)" font-size="50.58"><tspan class="i">C</tspan><tspan font-size="29.84" dy="16.18">STM</tspan></text>
<text class="r" transform="translate(1414.42 277.98) rotate(-90) scale(1.0008 1)" font-size="50.38"><tspan class="i">C</tspan><tspan font-size="29.72" dy="16.12">STM</tspan></text>
<text class="r" transform="translate(606.08 163.87) rotate(90) scale(1.0710 1)" font-size="46.78">λ (ns<tspan font-size="28.07" dy="-15.91">-1</tspan><tspan dy="15.91">)</tspan></text>
<text class="r" transform="translate(1296.58 170.08) rotate(90) scale(1.0692 1)" font-size="46.78">λ (ns<tspan font-size="28.07" dy="-15.91">-1</tspan><tspan dy="15.91">)</tspan></text>
<text class="r" transform="translate(1968.83 169.57) rotate(90) scale(1.1720 1)" font-size="42.75">λ (ns<tspan font-size="25.65" dy="-14.53">-1</tspan><tspan dy="14.53">)</tspan></text>
<text class="r" transform="translate(242.93 486.05) scale(1.0563 1)" font-size="47.39"><tspan class="i">h</tspan><tspan class="i" font-size="26.77" dy="15.88">x</tspan><tspan dy="-15.88"> (Oe)</tspan></text>
<text class="r" transform="translate(942.82 483.7) scale(1.0853 1)" font-size="46.2"><tspan class="i">h</tspan><tspan class="i" font-size="26.10" dy="15.48">x</tspan><tspan dy="-15.48"> (Oe)</tspan></text>
<text class="r" transform="translate(1609 485) scale(1.0809 1)" font-size="46.13"><tspan class="i">h</tspan><tspan class="i" font-size="26.06" dy="15.45">x</tspan><tspan dy="-15.45"> (Oe)</tspan></text>
<text class="r" transform="translate(230.33 1007.6) scale(1.1050 1)" font-size="46.2"><tspan class="i">h</tspan><tspan class="i" font-size="26.10" dy="15.48">x</tspan><tspan dy="-15.48"> (Oe)</tspan></text>
<text class="r" transform="translate(934.12 1004.07) scale(1.0785 1)" font-size="47.16"><tspan class="i">h</tspan><tspan class="i" font-size="26.65" dy="15.80">x</tspan><tspan dy="-15.80"> (Oe)</tspan></text>
<text class="r" transform="translate(1600.33 1003.9) scale(1.0898 1)" font-size="46.84"><tspan class="i">h</tspan><tspan class="i" font-size="26.46" dy="15.69">x</tspan><tspan dy="-15.69"> (Oe)</tspan></text>
<text class="r" transform="translate(78.07 774.67) rotate(-90) scale(1.0887 1)" font-size="49.8">ζ</text>
<text class="r" transform="translate(769.98 771.68) rotate(-90) scale(1.1049 1)" font-size="49.16">ζ</text>
<text class="r" transform="translate(1447.72 767.67) rotate(-90) scale(1.1148 1)" font-size="48.64">ζ</text>
<text class="r" transform="translate(463.97 554.23) scale(1.0051 1)" font-size="49.55"><tspan class="i">C</tspan><tspan font-size="29.23" dy="15.85">STM</tspan></text>
<text class="r" transform="translate(1156.78 553.48) scale(1.0129 1)" font-size="49.58"><tspan class="i">C</tspan><tspan font-size="29.25" dy="15.86">STM</tspan></text>
<text class="r" transform="translate(1829.97 553.48) scale(1.0044 1)" font-size="49.58"><tspan class="i">C</tspan><tspan font-size="29.25" dy="15.86">STM</tspan></text>
</g>
</svg></body></html>
